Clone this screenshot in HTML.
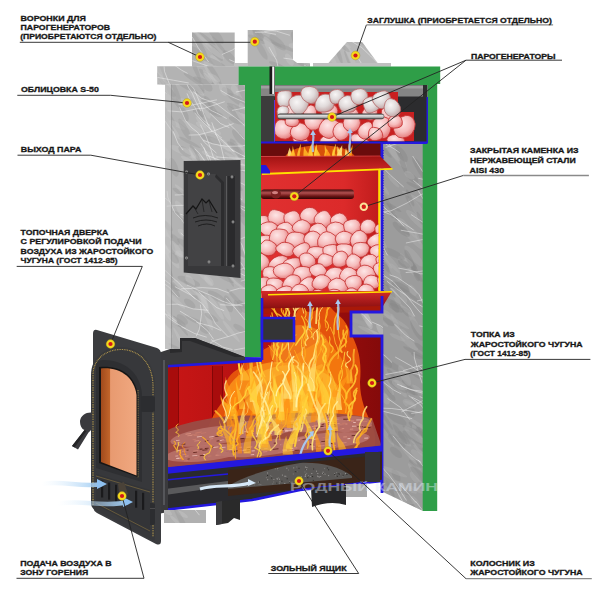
<!DOCTYPE html>
<html><head><meta charset="utf-8"><style>
html,body{margin:0;padding:0;background:#fff;width:600px;height:600px;overflow:hidden}
svg{display:block}
text{font-family:"Liberation Sans",sans-serif;font-weight:bold;font-size:7.5px;fill:#161616;stroke:#161616;stroke-width:0.3px}
</style></head><body>
<svg width="600" height="600" viewBox="0 0 600 600">
<defs>
<radialGradient id="gPink" cx="0.4" cy="0.35" r="0.7">
 <stop offset="0" stop-color="#fde6e6"/><stop offset="0.55" stop-color="#f6bcbc"/><stop offset="1" stop-color="#e27272"/></radialGradient>
<radialGradient id="gWhite" cx="0.4" cy="0.35" r="0.7">
 <stop offset="0" stop-color="#f8f6f6"/><stop offset="0.5" stop-color="#e0dada"/><stop offset="0.85" stop-color="#c8b0b0"/><stop offset="1" stop-color="#c87070"/></radialGradient>
<linearGradient id="gRod" x1="0" y1="0" x2="0" y2="1">
 <stop offset="0" stop-color="#555"/><stop offset="0.35" stop-color="#e4e4e4"/><stop offset="0.7" stop-color="#aaa"/><stop offset="1" stop-color="#444"/></linearGradient>
<linearGradient id="gRod2" x1="0" y1="0" x2="0" y2="1">
 <stop offset="0" stop-color="#3a0808"/><stop offset="0.35" stop-color="#b05050"/><stop offset="0.7" stop-color="#6a1414"/><stop offset="1" stop-color="#300606"/></linearGradient>
<linearGradient id="gVrod" x1="0" y1="0" x2="1" y2="0">
 <stop offset="0" stop-color="#1a1a1a"/><stop offset="0.45" stop-color="#e8e8e8"/><stop offset="1" stop-color="#222"/></linearGradient>
<linearGradient id="gGlass" x1="0" y1="0" x2="1" y2="0">
 <stop offset="0" stop-color="#a04a1c"/><stop offset="0.24" stop-color="#c0642a"/><stop offset="0.27" stop-color="#e89a70"/><stop offset="1" stop-color="#f0a880"/></linearGradient>
<linearGradient id="gRed" x1="0" y1="0" x2="1" y2="0">
 <stop offset="0" stop-color="#e03030"/><stop offset="0.7" stop-color="#dc2a2a"/><stop offset="1" stop-color="#c01c1c"/></linearGradient>
<linearGradient id="gLid" x1="0" y1="0" x2="0" y2="1">
 <stop offset="0" stop-color="#a01212"/><stop offset="1" stop-color="#d42a2a"/></linearGradient>
<linearGradient id="gFireBox" x1="0" y1="0" x2="1" y2="0">
 <stop offset="0" stop-color="#c81616"/><stop offset="0.5" stop-color="#b01010"/><stop offset="1" stop-color="#840a0a"/></linearGradient>
<linearGradient id="gAir" x1="0" y1="0" x2="1" y2="0">
 <stop offset="0" stop-color="#d8ecfc" stop-opacity="0"/><stop offset="1" stop-color="#9ccaf2"/></linearGradient>
</defs><rect width="600" height="600" fill="#fff"/>
<clipPath id="cs1"><path d="M192,32.6 h42.7 v33.8 h-42.7 Z"/></clipPath><path d="M192,32.6 h42.7 v33.8 h-42.7 Z" fill="#b3b3b3"/><g clip-path="url(#cs1)"><ellipse cx="205.8" cy="37.7" rx="12.5" ry="1.7" fill="#989898" opacity="0.4" transform="rotate(38 205.8 37.7)"/><ellipse cx="194.5" cy="49.8" rx="6.4" ry="2.6" fill="#989898" opacity="0.4" transform="rotate(32 194.5 49.8)"/><ellipse cx="215.5" cy="34.6" rx="11.7" ry="3.9" fill="#989898" opacity="0.4" transform="rotate(49 215.5 34.6)"/><ellipse cx="208.9" cy="65.6" rx="6.5" ry="3.6" fill="#c8c8c8" opacity="0.4" transform="rotate(41 208.9 65.6)"/><ellipse cx="215.1" cy="51.9" rx="11.6" ry="3.2" fill="#989898" opacity="0.4" transform="rotate(49 215.1 51.9)"/><ellipse cx="219.3" cy="45.2" rx="11.5" ry="1.7" fill="#989898" opacity="0.4" transform="rotate(51 219.3 45.2)"/><ellipse cx="213.2" cy="50.6" rx="13.8" ry="2.7" fill="#c8c8c8" opacity="0.4" transform="rotate(38 213.2 50.6)"/><ellipse cx="202.6" cy="38.7" rx="13.8" ry="1.7" fill="#c8c8c8" opacity="0.4" transform="rotate(46 202.6 38.7)"/><ellipse cx="229.4" cy="57.3" rx="8.9" ry="4.0" fill="#989898" opacity="0.4" transform="rotate(46 229.4 57.3)"/><ellipse cx="199.0" cy="44.2" rx="15.3" ry="2.6" fill="#989898" opacity="0.4" transform="rotate(58 199.0 44.2)"/><ellipse cx="216.5" cy="62.2" rx="9.1" ry="3.2" fill="#c8c8c8" opacity="0.4" transform="rotate(49 216.5 62.2)"/><ellipse cx="211.5" cy="61.0" rx="15.4" ry="2.7" fill="#989898" opacity="0.4" transform="rotate(23 211.5 61.0)"/><path d="M222.0,54.5 L232.6,49.9 L238.5,45.6 L247.5,33.2 L250.7,24.9" fill="none" stroke="#f4f4f4" stroke-opacity="0.8" stroke-width="0.6"/><path d="M208.7,62.1 L198.2,47.6 L193.1,38.4 L188.7,33.0 L177.5,24.7" fill="none" stroke="#f4f4f4" stroke-opacity="0.8" stroke-width="0.6"/><path d="M192.5,60.7 L206.0,65.4 L218.6,70.0 L224.5,73.0 L235.7,83.5" fill="none" stroke="#f4f4f4" stroke-opacity="0.8" stroke-width="0.6"/><path d="M229.3,59.6 L237.1,63.0 L247.0,64.8 L253.0,64.0" fill="none" stroke="#f4f4f4" stroke-opacity="0.8" stroke-width="0.6"/></g><clipPath id="cs2"><path d="M247.7,30 L293,30 L293,60 L297,63 L310,63 L310,66.5 L247.7,66.5 Z"/></clipPath><path d="M247.7,30 L293,30 L293,60 L297,63 L310,63 L310,66.5 L247.7,66.5 Z" fill="#b3b3b3"/><g clip-path="url(#cs2)"><ellipse cx="256.8" cy="33.8" rx="9.6" ry="1.6" fill="#989898" opacity="0.4" transform="rotate(51 256.8 33.8)"/><ellipse cx="256.7" cy="39.3" rx="9.5" ry="2.4" fill="#989898" opacity="0.4" transform="rotate(26 256.7 39.3)"/><ellipse cx="278.7" cy="66.2" rx="10.8" ry="2.3" fill="#989898" opacity="0.4" transform="rotate(25 278.7 66.2)"/><ellipse cx="269.3" cy="39.8" rx="14.3" ry="1.9" fill="#989898" opacity="0.4" transform="rotate(30 269.3 39.8)"/><ellipse cx="308.9" cy="43.4" rx="12.9" ry="3.8" fill="#c8c8c8" opacity="0.4" transform="rotate(69 308.9 43.4)"/><ellipse cx="303.1" cy="55.8" rx="8.6" ry="2.4" fill="#989898" opacity="0.4" transform="rotate(38 303.1 55.8)"/><ellipse cx="261.5" cy="50.0" rx="11.0" ry="3.1" fill="#989898" opacity="0.4" transform="rotate(60 261.5 50.0)"/><ellipse cx="300.2" cy="57.4" rx="8.3" ry="2.8" fill="#c8c8c8" opacity="0.4" transform="rotate(57 300.2 57.4)"/><ellipse cx="311.3" cy="59.2" rx="10.7" ry="2.0" fill="#c8c8c8" opacity="0.4" transform="rotate(42 311.3 59.2)"/><ellipse cx="307.9" cy="66.6" rx="15.6" ry="2.4" fill="#989898" opacity="0.4" transform="rotate(25 307.9 66.6)"/><ellipse cx="277.6" cy="42.5" rx="10.8" ry="4.0" fill="#989898" opacity="0.4" transform="rotate(44 277.6 42.5)"/><ellipse cx="289.4" cy="59.6" rx="6.8" ry="3.2" fill="#c8c8c8" opacity="0.4" transform="rotate(59 289.4 59.6)"/><ellipse cx="295.8" cy="47.7" rx="7.8" ry="3.5" fill="#c8c8c8" opacity="0.4" transform="rotate(24 295.8 47.7)"/><ellipse cx="308.5" cy="56.7" rx="10.6" ry="3.4" fill="#989898" opacity="0.4" transform="rotate(56 308.5 56.7)"/><ellipse cx="258.1" cy="34.7" rx="7.5" ry="3.8" fill="#989898" opacity="0.4" transform="rotate(51 258.1 34.7)"/><ellipse cx="285.7" cy="47.6" rx="15.4" ry="1.9" fill="#989898" opacity="0.4" transform="rotate(21 285.7 47.6)"/><ellipse cx="299.0" cy="56.9" rx="7.0" ry="3.4" fill="#989898" opacity="0.4" transform="rotate(42 299.0 56.9)"/><ellipse cx="303.7" cy="60.6" rx="8.1" ry="2.1" fill="#c8c8c8" opacity="0.4" transform="rotate(45 303.7 60.6)"/><ellipse cx="296.6" cy="42.1" rx="11.4" ry="3.6" fill="#989898" opacity="0.4" transform="rotate(66 296.6 42.1)"/><ellipse cx="270.0" cy="47.0" rx="11.8" ry="3.8" fill="#c8c8c8" opacity="0.4" transform="rotate(61 270.0 47.0)"/><path d="M304.1,34.8 L311.4,37.6 L324.7,39.0" fill="none" stroke="#f4f4f4" stroke-opacity="0.8" stroke-width="0.6"/><path d="M254.8,32.3 L264.1,32.2 L276.0,34.4" fill="none" stroke="#f4f4f4" stroke-opacity="0.8" stroke-width="0.6"/><path d="M283.5,58.1 L294.8,59.7 L306.4,61.6 L319.2,68.1" fill="none" stroke="#f4f4f4" stroke-opacity="0.8" stroke-width="0.6"/><path d="M304.0,64.9 L313.4,71.1 L321.9,73.6 L336.0,73.4 L352.5,76.4 L367.0,75.6" fill="none" stroke="#f4f4f4" stroke-opacity="0.8" stroke-width="0.6"/><path d="M289.9,35.3 L276.5,31.2 L262.1,29.7 L252.4,24.9 L242.9,21.0 L232.5,19.8" fill="none" stroke="#f4f4f4" stroke-opacity="0.8" stroke-width="0.6"/><path d="M269.0,47.0 L276.7,60.4 L278.1,67.5" fill="none" stroke="#f4f4f4" stroke-opacity="0.8" stroke-width="0.6"/><path d="M264.3,31.5 L276.6,30.1 L288.5,28.9 L297.6,26.8 L305.8,26.7" fill="none" stroke="#f4f4f4" stroke-opacity="0.8" stroke-width="0.6"/><path d="M305.2,40.0 L312.3,42.2 L330.2,41.6" fill="none" stroke="#f4f4f4" stroke-opacity="0.8" stroke-width="0.6"/></g><clipPath id="cs3"><path d="M328,63.5 L347,42 L362,42 L378,63.5 Z"/></clipPath><path d="M328,63.5 L347,42 L362,42 L378,63.5 Z" fill="#b8b8b8"/><g clip-path="url(#cs3)"><ellipse cx="349.1" cy="62.1" rx="12.2" ry="1.6" fill="#989898" opacity="0.4" transform="rotate(67 349.1 62.1)"/><ellipse cx="378.4" cy="47.8" rx="7.8" ry="3.8" fill="#c8c8c8" opacity="0.4" transform="rotate(47 378.4 47.8)"/><ellipse cx="337.9" cy="51.8" rx="12.7" ry="2.2" fill="#989898" opacity="0.4" transform="rotate(70 337.9 51.8)"/><ellipse cx="329.0" cy="42.4" rx="11.1" ry="3.9" fill="#c8c8c8" opacity="0.4" transform="rotate(32 329.0 42.4)"/><ellipse cx="350.7" cy="56.5" rx="12.5" ry="3.1" fill="#c8c8c8" opacity="0.4" transform="rotate(69 350.7 56.5)"/><ellipse cx="343.3" cy="46.7" rx="8.3" ry="2.0" fill="#989898" opacity="0.4" transform="rotate(40 343.3 46.7)"/><ellipse cx="345.4" cy="43.2" rx="7.3" ry="1.7" fill="#c8c8c8" opacity="0.4" transform="rotate(42 345.4 43.2)"/><ellipse cx="329.9" cy="56.6" rx="9.8" ry="2.8" fill="#c8c8c8" opacity="0.4" transform="rotate(50 329.9 56.6)"/><ellipse cx="363.7" cy="43.0" rx="7.9" ry="2.2" fill="#989898" opacity="0.4" transform="rotate(33 363.7 43.0)"/><path d="M378.0,63.4 L370.5,55.9 L361.8,47.6 L351.5,41.3" fill="none" stroke="#f4f4f4" stroke-opacity="0.8" stroke-width="0.6"/><path d="M327.3,47.8 L309.9,46.1 L302.5,43.4 L290.0,34.4" fill="none" stroke="#f4f4f4" stroke-opacity="0.8" stroke-width="0.6"/><path d="M358.6,58.8 L366.2,71.3 L371.9,80.8" fill="none" stroke="#f4f4f4" stroke-opacity="0.8" stroke-width="0.6"/></g><rect x="313" y="63" width="78" height="3.6" fill="#c0c0c0"/><rect x="234" y="63" width="14" height="3.6" fill="#c0c0c0"/><clipPath id="cs4"><path d="M157.3,66.2 h81.5 v18.3 h-81.5 Z"/></clipPath><path d="M157.3,66.2 h81.5 v18.3 h-81.5 Z" fill="#b3b3b3"/><g clip-path="url(#cs4)"><ellipse cx="214.4" cy="75.5" rx="15.1" ry="3.4" fill="#989898" opacity="0.4" transform="rotate(61 214.4 75.5)"/><ellipse cx="204.9" cy="82.5" rx="12.8" ry="3.2" fill="#989898" opacity="0.4" transform="rotate(24 204.9 82.5)"/><ellipse cx="160.7" cy="77.9" rx="15.6" ry="2.4" fill="#c8c8c8" opacity="0.4" transform="rotate(48 160.7 77.9)"/><ellipse cx="208.5" cy="77.7" rx="12.8" ry="2.7" fill="#989898" opacity="0.4" transform="rotate(43 208.5 77.7)"/><ellipse cx="163.0" cy="83.3" rx="15.0" ry="1.7" fill="#989898" opacity="0.4" transform="rotate(57 163.0 83.3)"/><ellipse cx="195.9" cy="81.0" rx="14.5" ry="2.1" fill="#989898" opacity="0.4" transform="rotate(32 195.9 81.0)"/><ellipse cx="210.3" cy="74.6" rx="14.5" ry="1.7" fill="#c8c8c8" opacity="0.4" transform="rotate(58 210.3 74.6)"/><ellipse cx="207.6" cy="78.0" rx="6.8" ry="1.9" fill="#c8c8c8" opacity="0.4" transform="rotate(53 207.6 78.0)"/><ellipse cx="213.8" cy="77.6" rx="7.3" ry="2.7" fill="#c8c8c8" opacity="0.4" transform="rotate(33 213.8 77.6)"/><ellipse cx="212.1" cy="78.9" rx="12.8" ry="2.2" fill="#c8c8c8" opacity="0.4" transform="rotate(43 212.1 78.9)"/><ellipse cx="195.3" cy="68.4" rx="14.9" ry="2.0" fill="#989898" opacity="0.4" transform="rotate(67 195.3 68.4)"/><ellipse cx="158.7" cy="74.6" rx="14.2" ry="3.9" fill="#c8c8c8" opacity="0.4" transform="rotate(70 158.7 74.6)"/><path d="M188.8,83.0 L173.2,80.2 L156.8,77.3 L148.5,74.5 L138.8,67.8" fill="none" stroke="#f4f4f4" stroke-opacity="0.8" stroke-width="0.6"/><path d="M159.3,66.3 L145.0,59.0 L130.1,57.1 L123.1,54.5 L111.6,45.6 L106.0,38.0" fill="none" stroke="#f4f4f4" stroke-opacity="0.8" stroke-width="0.6"/><path d="M187.6,73.4 L181.8,70.3 L170.6,62.5" fill="none" stroke="#f4f4f4" stroke-opacity="0.8" stroke-width="0.6"/><path d="M169.4,84.0 L164.5,71.3 L163.0,54.1" fill="none" stroke="#f4f4f4" stroke-opacity="0.8" stroke-width="0.6"/></g><clipPath id="cs5"><path d="M165,84.5 L245,84.5 L245,357 L195,338 L180,338 L180,349 L165,349 Z"/></clipPath><path d="M165,84.5 L245,84.5 L245,357 L195,338 L180,338 L180,349 L165,349 Z" fill="#b3b3b3"/><g clip-path="url(#cs5)"><ellipse cx="208.9" cy="280.6" rx="6.5" ry="3.3" fill="#c8c8c8" opacity="0.4" transform="rotate(51 208.9 280.6)"/><ellipse cx="176.1" cy="321.4" rx="10.9" ry="3.8" fill="#989898" opacity="0.4" transform="rotate(29 176.1 321.4)"/><ellipse cx="198.2" cy="161.3" rx="8.6" ry="3.3" fill="#c8c8c8" opacity="0.4" transform="rotate(40 198.2 161.3)"/><ellipse cx="184.1" cy="216.2" rx="12.7" ry="1.8" fill="#989898" opacity="0.4" transform="rotate(24 184.1 216.2)"/><ellipse cx="205.0" cy="305.7" rx="11.5" ry="2.6" fill="#c8c8c8" opacity="0.4" transform="rotate(70 205.0 305.7)"/><ellipse cx="201.0" cy="122.5" rx="7.9" ry="1.7" fill="#c8c8c8" opacity="0.4" transform="rotate(48 201.0 122.5)"/><ellipse cx="190.5" cy="184.9" rx="14.1" ry="2.0" fill="#989898" opacity="0.4" transform="rotate(57 190.5 184.9)"/><ellipse cx="198.0" cy="197.3" rx="11.2" ry="2.4" fill="#c8c8c8" opacity="0.4" transform="rotate(58 198.0 197.3)"/><ellipse cx="204.9" cy="241.0" rx="9.6" ry="3.2" fill="#989898" opacity="0.4" transform="rotate(25 204.9 241.0)"/><ellipse cx="236.7" cy="189.3" rx="12.5" ry="2.6" fill="#c8c8c8" opacity="0.4" transform="rotate(62 236.7 189.3)"/><ellipse cx="234.8" cy="90.4" rx="6.3" ry="3.3" fill="#c8c8c8" opacity="0.4" transform="rotate(68 234.8 90.4)"/><ellipse cx="204.2" cy="104.4" rx="15.3" ry="3.8" fill="#c8c8c8" opacity="0.4" transform="rotate(69 204.2 104.4)"/><ellipse cx="184.9" cy="114.2" rx="7.5" ry="2.8" fill="#989898" opacity="0.4" transform="rotate(67 184.9 114.2)"/><ellipse cx="222.7" cy="260.9" rx="13.6" ry="2.6" fill="#989898" opacity="0.4" transform="rotate(20 222.7 260.9)"/><ellipse cx="175.1" cy="239.7" rx="6.4" ry="3.3" fill="#989898" opacity="0.4" transform="rotate(51 175.1 239.7)"/><ellipse cx="207.3" cy="203.7" rx="13.6" ry="1.7" fill="#c8c8c8" opacity="0.4" transform="rotate(46 207.3 203.7)"/><ellipse cx="211.6" cy="190.3" rx="8.2" ry="3.0" fill="#989898" opacity="0.4" transform="rotate(47 211.6 190.3)"/><ellipse cx="244.7" cy="160.4" rx="9.2" ry="3.6" fill="#989898" opacity="0.4" transform="rotate(44 244.7 160.4)"/><ellipse cx="183.8" cy="151.8" rx="15.6" ry="3.3" fill="#c8c8c8" opacity="0.4" transform="rotate(23 183.8 151.8)"/><ellipse cx="180.5" cy="325.6" rx="12.5" ry="1.7" fill="#989898" opacity="0.4" transform="rotate(53 180.5 325.6)"/><ellipse cx="239.0" cy="146.3" rx="6.3" ry="2.3" fill="#c8c8c8" opacity="0.4" transform="rotate(38 239.0 146.3)"/><ellipse cx="196.7" cy="86.3" rx="8.9" ry="3.6" fill="#989898" opacity="0.4" transform="rotate(30 196.7 86.3)"/><ellipse cx="242.6" cy="169.4" rx="14.2" ry="2.1" fill="#989898" opacity="0.4" transform="rotate(33 242.6 169.4)"/><ellipse cx="236.1" cy="114.2" rx="12.2" ry="3.0" fill="#989898" opacity="0.4" transform="rotate(44 236.1 114.2)"/><ellipse cx="237.8" cy="99.9" rx="11.9" ry="3.8" fill="#989898" opacity="0.4" transform="rotate(31 237.8 99.9)"/><ellipse cx="242.9" cy="123.2" rx="6.5" ry="1.7" fill="#c8c8c8" opacity="0.4" transform="rotate(42 242.9 123.2)"/><ellipse cx="222.0" cy="170.1" rx="7.1" ry="1.7" fill="#989898" opacity="0.4" transform="rotate(36 222.0 170.1)"/><ellipse cx="179.8" cy="339.5" rx="13.5" ry="1.6" fill="#c8c8c8" opacity="0.4" transform="rotate(62 179.8 339.5)"/><ellipse cx="243.8" cy="205.1" rx="7.1" ry="1.7" fill="#989898" opacity="0.4" transform="rotate(38 243.8 205.1)"/><ellipse cx="241.4" cy="118.2" rx="15.6" ry="2.0" fill="#c8c8c8" opacity="0.4" transform="rotate(58 241.4 118.2)"/><ellipse cx="189.7" cy="303.6" rx="6.9" ry="3.3" fill="#989898" opacity="0.4" transform="rotate(39 189.7 303.6)"/><ellipse cx="238.6" cy="137.1" rx="9.6" ry="3.7" fill="#989898" opacity="0.4" transform="rotate(52 238.6 137.1)"/><ellipse cx="184.8" cy="254.9" rx="10.0" ry="2.4" fill="#c8c8c8" opacity="0.4" transform="rotate(23 184.8 254.9)"/><ellipse cx="238.6" cy="154.5" rx="13.5" ry="3.7" fill="#c8c8c8" opacity="0.4" transform="rotate(38 238.6 154.5)"/><ellipse cx="191.8" cy="344.4" rx="6.4" ry="3.4" fill="#c8c8c8" opacity="0.4" transform="rotate(66 191.8 344.4)"/><ellipse cx="188.8" cy="281.1" rx="12.0" ry="3.5" fill="#989898" opacity="0.4" transform="rotate(21 188.8 281.1)"/><ellipse cx="183.7" cy="214.0" rx="15.6" ry="3.9" fill="#c8c8c8" opacity="0.4" transform="rotate(59 183.7 214.0)"/><ellipse cx="238.1" cy="306.5" rx="7.3" ry="2.7" fill="#989898" opacity="0.4" transform="rotate(60 238.1 306.5)"/><ellipse cx="224.1" cy="308.7" rx="13.7" ry="3.0" fill="#c8c8c8" opacity="0.4" transform="rotate(63 224.1 308.7)"/><ellipse cx="201.9" cy="298.1" rx="12.0" ry="2.8" fill="#c8c8c8" opacity="0.4" transform="rotate(58 201.9 298.1)"/><ellipse cx="184.8" cy="102.1" rx="6.3" ry="2.9" fill="#c8c8c8" opacity="0.4" transform="rotate(28 184.8 102.1)"/><ellipse cx="199.1" cy="113.2" rx="6.7" ry="3.1" fill="#989898" opacity="0.4" transform="rotate(25 199.1 113.2)"/><ellipse cx="204.9" cy="277.9" rx="10.5" ry="2.1" fill="#c8c8c8" opacity="0.4" transform="rotate(43 204.9 277.9)"/><ellipse cx="236.3" cy="148.5" rx="11.4" ry="3.4" fill="#989898" opacity="0.4" transform="rotate(59 236.3 148.5)"/><ellipse cx="188.5" cy="160.6" rx="8.7" ry="2.1" fill="#c8c8c8" opacity="0.4" transform="rotate(30 188.5 160.6)"/><ellipse cx="184.8" cy="151.4" rx="7.5" ry="3.7" fill="#989898" opacity="0.4" transform="rotate(36 184.8 151.4)"/><ellipse cx="196.7" cy="354.9" rx="11.1" ry="2.1" fill="#989898" opacity="0.4" transform="rotate(53 196.7 354.9)"/><ellipse cx="244.3" cy="112.4" rx="10.7" ry="3.5" fill="#c8c8c8" opacity="0.4" transform="rotate(66 244.3 112.4)"/><ellipse cx="168.2" cy="164.5" rx="7.2" ry="2.0" fill="#989898" opacity="0.4" transform="rotate(67 168.2 164.5)"/><ellipse cx="194.8" cy="320.5" rx="10.5" ry="2.1" fill="#989898" opacity="0.4" transform="rotate(25 194.8 320.5)"/><ellipse cx="212.7" cy="253.4" rx="8.2" ry="2.4" fill="#989898" opacity="0.4" transform="rotate(22 212.7 253.4)"/><ellipse cx="245.0" cy="94.9" rx="13.3" ry="3.8" fill="#989898" opacity="0.4" transform="rotate(61 245.0 94.9)"/><ellipse cx="197.7" cy="185.8" rx="12.2" ry="1.7" fill="#989898" opacity="0.4" transform="rotate(60 197.7 185.8)"/><ellipse cx="208.8" cy="101.7" rx="7.0" ry="2.5" fill="#989898" opacity="0.4" transform="rotate(52 208.8 101.7)"/><ellipse cx="172.3" cy="129.1" rx="13.0" ry="2.5" fill="#c8c8c8" opacity="0.4" transform="rotate(53 172.3 129.1)"/><ellipse cx="198.4" cy="98.5" rx="13.5" ry="3.7" fill="#c8c8c8" opacity="0.4" transform="rotate(41 198.4 98.5)"/><ellipse cx="234.1" cy="356.1" rx="9.6" ry="2.0" fill="#c8c8c8" opacity="0.4" transform="rotate(30 234.1 356.1)"/><ellipse cx="165.5" cy="330.2" rx="10.2" ry="3.6" fill="#c8c8c8" opacity="0.4" transform="rotate(49 165.5 330.2)"/><ellipse cx="194.2" cy="295.2" rx="7.3" ry="1.6" fill="#989898" opacity="0.4" transform="rotate(52 194.2 295.2)"/><ellipse cx="237.8" cy="108.8" rx="12.2" ry="2.4" fill="#989898" opacity="0.4" transform="rotate(27 237.8 108.8)"/><ellipse cx="187.7" cy="226.5" rx="15.3" ry="1.8" fill="#c8c8c8" opacity="0.4" transform="rotate(58 187.7 226.5)"/><ellipse cx="228.4" cy="303.8" rx="9.0" ry="3.6" fill="#989898" opacity="0.4" transform="rotate(69 228.4 303.8)"/><ellipse cx="203.6" cy="99.0" rx="15.3" ry="2.5" fill="#989898" opacity="0.4" transform="rotate(52 203.6 99.0)"/><ellipse cx="233.5" cy="253.7" rx="12.1" ry="2.0" fill="#c8c8c8" opacity="0.4" transform="rotate(29 233.5 253.7)"/><ellipse cx="182.5" cy="193.4" rx="11.2" ry="2.5" fill="#989898" opacity="0.4" transform="rotate(27 182.5 193.4)"/><ellipse cx="242.7" cy="306.8" rx="7.9" ry="3.7" fill="#989898" opacity="0.4" transform="rotate(53 242.7 306.8)"/><ellipse cx="190.9" cy="190.7" rx="10.6" ry="3.6" fill="#c8c8c8" opacity="0.4" transform="rotate(52 190.9 190.7)"/><ellipse cx="189.7" cy="152.4" rx="9.9" ry="2.4" fill="#c8c8c8" opacity="0.4" transform="rotate(29 189.7 152.4)"/><ellipse cx="165.3" cy="353.2" rx="10.7" ry="2.6" fill="#c8c8c8" opacity="0.4" transform="rotate(62 165.3 353.2)"/><ellipse cx="229.8" cy="193.6" rx="6.7" ry="2.4" fill="#c8c8c8" opacity="0.4" transform="rotate(25 229.8 193.6)"/><ellipse cx="200.4" cy="223.5" rx="6.4" ry="3.1" fill="#989898" opacity="0.4" transform="rotate(66 200.4 223.5)"/><ellipse cx="190.1" cy="280.8" rx="6.8" ry="3.4" fill="#c8c8c8" opacity="0.4" transform="rotate(53 190.1 280.8)"/><ellipse cx="227.7" cy="91.5" rx="6.7" ry="3.0" fill="#989898" opacity="0.4" transform="rotate(30 227.7 91.5)"/><ellipse cx="243.5" cy="218.5" rx="15.6" ry="3.8" fill="#989898" opacity="0.4" transform="rotate(54 243.5 218.5)"/><ellipse cx="222.7" cy="144.8" rx="14.3" ry="3.0" fill="#c8c8c8" opacity="0.4" transform="rotate(28 222.7 144.8)"/><ellipse cx="236.7" cy="159.4" rx="14.2" ry="1.9" fill="#c8c8c8" opacity="0.4" transform="rotate(30 236.7 159.4)"/><ellipse cx="186.0" cy="222.4" rx="9.2" ry="1.6" fill="#989898" opacity="0.4" transform="rotate(40 186.0 222.4)"/><ellipse cx="215.9" cy="160.3" rx="9.3" ry="2.4" fill="#c8c8c8" opacity="0.4" transform="rotate(26 215.9 160.3)"/><ellipse cx="207.5" cy="257.9" rx="9.6" ry="3.7" fill="#989898" opacity="0.4" transform="rotate(33 207.5 257.9)"/><ellipse cx="207.9" cy="317.9" rx="13.4" ry="2.4" fill="#c8c8c8" opacity="0.4" transform="rotate(70 207.9 317.9)"/><ellipse cx="211.2" cy="182.7" rx="13.6" ry="2.6" fill="#989898" opacity="0.4" transform="rotate(51 211.2 182.7)"/><ellipse cx="241.6" cy="165.3" rx="11.2" ry="2.3" fill="#c8c8c8" opacity="0.4" transform="rotate(57 241.6 165.3)"/><ellipse cx="224.8" cy="144.9" rx="8.9" ry="3.1" fill="#c8c8c8" opacity="0.4" transform="rotate(46 224.8 144.9)"/><ellipse cx="236.6" cy="120.5" rx="8.3" ry="3.1" fill="#989898" opacity="0.4" transform="rotate(23 236.6 120.5)"/><ellipse cx="210.4" cy="167.3" rx="11.2" ry="2.8" fill="#c8c8c8" opacity="0.4" transform="rotate(49 210.4 167.3)"/><ellipse cx="212.1" cy="140.1" rx="12.2" ry="2.7" fill="#989898" opacity="0.4" transform="rotate(21 212.1 140.1)"/><ellipse cx="229.1" cy="277.3" rx="10.5" ry="1.7" fill="#989898" opacity="0.4" transform="rotate(64 229.1 277.3)"/><ellipse cx="227.6" cy="194.0" rx="8.6" ry="1.5" fill="#c8c8c8" opacity="0.4" transform="rotate(50 227.6 194.0)"/><ellipse cx="211.3" cy="248.5" rx="11.2" ry="2.7" fill="#989898" opacity="0.4" transform="rotate(65 211.3 248.5)"/><ellipse cx="168.5" cy="229.3" rx="10.1" ry="2.1" fill="#989898" opacity="0.4" transform="rotate(66 168.5 229.3)"/><ellipse cx="173.4" cy="251.4" rx="12.6" ry="2.0" fill="#c8c8c8" opacity="0.4" transform="rotate(30 173.4 251.4)"/><ellipse cx="213.6" cy="222.6" rx="12.4" ry="3.5" fill="#989898" opacity="0.4" transform="rotate(45 213.6 222.6)"/><ellipse cx="170.1" cy="255.1" rx="15.9" ry="3.3" fill="#c8c8c8" opacity="0.4" transform="rotate(56 170.1 255.1)"/><ellipse cx="165.5" cy="314.6" rx="13.5" ry="2.7" fill="#c8c8c8" opacity="0.4" transform="rotate(29 165.5 314.6)"/><ellipse cx="244.7" cy="155.7" rx="12.4" ry="1.8" fill="#c8c8c8" opacity="0.4" transform="rotate(56 244.7 155.7)"/><ellipse cx="186.3" cy="235.4" rx="10.4" ry="3.5" fill="#c8c8c8" opacity="0.4" transform="rotate(35 186.3 235.4)"/><ellipse cx="239.3" cy="328.2" rx="6.9" ry="2.8" fill="#989898" opacity="0.4" transform="rotate(33 239.3 328.2)"/><ellipse cx="183.9" cy="287.2" rx="15.4" ry="3.4" fill="#c8c8c8" opacity="0.4" transform="rotate(30 183.9 287.2)"/><ellipse cx="196.1" cy="248.3" rx="9.8" ry="3.6" fill="#c8c8c8" opacity="0.4" transform="rotate(44 196.1 248.3)"/><ellipse cx="207.4" cy="86.2" rx="6.3" ry="3.9" fill="#989898" opacity="0.4" transform="rotate(49 207.4 86.2)"/><ellipse cx="189.6" cy="142.3" rx="12.2" ry="1.7" fill="#989898" opacity="0.4" transform="rotate(27 189.6 142.3)"/><ellipse cx="167.2" cy="113.6" rx="15.3" ry="2.4" fill="#989898" opacity="0.4" transform="rotate(55 167.2 113.6)"/><ellipse cx="167.5" cy="122.2" rx="12.4" ry="1.6" fill="#989898" opacity="0.4" transform="rotate(57 167.5 122.2)"/><ellipse cx="170.3" cy="245.4" rx="9.6" ry="3.5" fill="#989898" opacity="0.4" transform="rotate(64 170.3 245.4)"/><ellipse cx="225.5" cy="278.3" rx="9.8" ry="2.1" fill="#989898" opacity="0.4" transform="rotate(26 225.5 278.3)"/><ellipse cx="167.8" cy="315.5" rx="14.1" ry="3.1" fill="#c8c8c8" opacity="0.4" transform="rotate(44 167.8 315.5)"/><ellipse cx="175.6" cy="300.3" rx="12.5" ry="2.2" fill="#c8c8c8" opacity="0.4" transform="rotate(41 175.6 300.3)"/><ellipse cx="166.7" cy="154.5" rx="8.8" ry="3.3" fill="#c8c8c8" opacity="0.4" transform="rotate(66 166.7 154.5)"/><ellipse cx="226.5" cy="248.5" rx="10.8" ry="2.2" fill="#989898" opacity="0.4" transform="rotate(59 226.5 248.5)"/><ellipse cx="167.5" cy="225.8" rx="7.0" ry="2.7" fill="#989898" opacity="0.4" transform="rotate(47 167.5 225.8)"/><ellipse cx="182.3" cy="319.5" rx="6.9" ry="3.5" fill="#989898" opacity="0.4" transform="rotate(42 182.3 319.5)"/><ellipse cx="206.9" cy="163.1" rx="13.5" ry="1.6" fill="#c8c8c8" opacity="0.4" transform="rotate(45 206.9 163.1)"/><ellipse cx="204.3" cy="301.6" rx="7.8" ry="2.7" fill="#c8c8c8" opacity="0.4" transform="rotate(68 204.3 301.6)"/><ellipse cx="206.2" cy="242.0" rx="7.6" ry="3.5" fill="#989898" opacity="0.4" transform="rotate(45 206.2 242.0)"/><ellipse cx="173.8" cy="258.0" rx="6.8" ry="3.5" fill="#989898" opacity="0.4" transform="rotate(51 173.8 258.0)"/><ellipse cx="193.4" cy="193.8" rx="9.9" ry="3.7" fill="#989898" opacity="0.4" transform="rotate(41 193.4 193.8)"/><ellipse cx="216.7" cy="185.9" rx="9.0" ry="2.6" fill="#989898" opacity="0.4" transform="rotate(39 216.7 185.9)"/><ellipse cx="235.7" cy="148.1" rx="10.6" ry="2.8" fill="#989898" opacity="0.4" transform="rotate(37 235.7 148.1)"/><ellipse cx="191.1" cy="126.8" rx="14.4" ry="3.2" fill="#c8c8c8" opacity="0.4" transform="rotate(28 191.1 126.8)"/><ellipse cx="200.1" cy="295.3" rx="11.8" ry="1.8" fill="#c8c8c8" opacity="0.4" transform="rotate(52 200.1 295.3)"/><ellipse cx="220.7" cy="222.8" rx="8.7" ry="3.4" fill="#989898" opacity="0.4" transform="rotate(56 220.7 222.8)"/><ellipse cx="243.0" cy="281.6" rx="12.0" ry="2.4" fill="#989898" opacity="0.4" transform="rotate(36 243.0 281.6)"/><ellipse cx="180.1" cy="350.2" rx="13.3" ry="1.8" fill="#989898" opacity="0.4" transform="rotate(30 180.1 350.2)"/><ellipse cx="177.1" cy="124.9" rx="9.0" ry="2.2" fill="#c8c8c8" opacity="0.4" transform="rotate(30 177.1 124.9)"/><ellipse cx="216.0" cy="113.6" rx="8.1" ry="2.5" fill="#989898" opacity="0.4" transform="rotate(21 216.0 113.6)"/><ellipse cx="233.3" cy="203.5" rx="8.2" ry="4.0" fill="#c8c8c8" opacity="0.4" transform="rotate(43 233.3 203.5)"/><ellipse cx="176.3" cy="249.0" rx="10.0" ry="3.4" fill="#c8c8c8" opacity="0.4" transform="rotate(55 176.3 249.0)"/><ellipse cx="212.0" cy="260.9" rx="14.5" ry="3.2" fill="#989898" opacity="0.4" transform="rotate(54 212.0 260.9)"/><ellipse cx="216.3" cy="208.2" rx="9.1" ry="3.1" fill="#989898" opacity="0.4" transform="rotate(65 216.3 208.2)"/><ellipse cx="184.4" cy="193.5" rx="13.1" ry="1.9" fill="#c8c8c8" opacity="0.4" transform="rotate(44 184.4 193.5)"/><ellipse cx="166.6" cy="318.5" rx="11.2" ry="3.2" fill="#989898" opacity="0.4" transform="rotate(65 166.6 318.5)"/><ellipse cx="191.2" cy="87.4" rx="14.3" ry="3.8" fill="#989898" opacity="0.4" transform="rotate(22 191.2 87.4)"/><ellipse cx="208.5" cy="128.3" rx="13.8" ry="3.9" fill="#c8c8c8" opacity="0.4" transform="rotate(25 208.5 128.3)"/><ellipse cx="211.0" cy="231.9" rx="13.2" ry="2.8" fill="#c8c8c8" opacity="0.4" transform="rotate(46 211.0 231.9)"/><ellipse cx="197.8" cy="342.8" rx="8.1" ry="3.2" fill="#c8c8c8" opacity="0.4" transform="rotate(46 197.8 342.8)"/><ellipse cx="239.6" cy="283.2" rx="12.1" ry="3.1" fill="#c8c8c8" opacity="0.4" transform="rotate(34 239.6 283.2)"/><ellipse cx="197.0" cy="88.1" rx="10.2" ry="2.6" fill="#c8c8c8" opacity="0.4" transform="rotate(49 197.0 88.1)"/><ellipse cx="173.7" cy="167.2" rx="10.0" ry="3.9" fill="#989898" opacity="0.4" transform="rotate(70 173.7 167.2)"/><ellipse cx="241.9" cy="210.4" rx="7.6" ry="3.8" fill="#989898" opacity="0.4" transform="rotate(60 241.9 210.4)"/><ellipse cx="215.7" cy="212.3" rx="11.6" ry="2.1" fill="#989898" opacity="0.4" transform="rotate(38 215.7 212.3)"/><ellipse cx="216.1" cy="307.6" rx="14.2" ry="2.7" fill="#c8c8c8" opacity="0.4" transform="rotate(58 216.1 307.6)"/><ellipse cx="217.0" cy="297.0" rx="10.7" ry="3.5" fill="#989898" opacity="0.4" transform="rotate(33 217.0 297.0)"/><ellipse cx="195.1" cy="153.6" rx="10.3" ry="2.0" fill="#989898" opacity="0.4" transform="rotate(60 195.1 153.6)"/><ellipse cx="228.9" cy="182.0" rx="12.5" ry="2.3" fill="#c8c8c8" opacity="0.4" transform="rotate(41 228.9 182.0)"/><ellipse cx="216.0" cy="264.1" rx="9.6" ry="3.8" fill="#c8c8c8" opacity="0.4" transform="rotate(23 216.0 264.1)"/><ellipse cx="231.2" cy="331.3" rx="13.8" ry="1.9" fill="#c8c8c8" opacity="0.4" transform="rotate(52 231.2 331.3)"/><ellipse cx="166.2" cy="87.6" rx="15.5" ry="3.1" fill="#c8c8c8" opacity="0.4" transform="rotate(50 166.2 87.6)"/><ellipse cx="211.3" cy="317.3" rx="7.9" ry="2.6" fill="#989898" opacity="0.4" transform="rotate(30 211.3 317.3)"/><ellipse cx="197.2" cy="230.2" rx="12.1" ry="3.2" fill="#989898" opacity="0.4" transform="rotate(53 197.2 230.2)"/><ellipse cx="236.5" cy="299.3" rx="14.4" ry="2.0" fill="#989898" opacity="0.4" transform="rotate(47 236.5 299.3)"/><ellipse cx="224.4" cy="204.0" rx="14.8" ry="2.9" fill="#c8c8c8" opacity="0.4" transform="rotate(41 224.4 204.0)"/><ellipse cx="231.2" cy="213.5" rx="11.6" ry="2.7" fill="#989898" opacity="0.4" transform="rotate(55 231.2 213.5)"/><ellipse cx="184.7" cy="129.4" rx="12.0" ry="3.3" fill="#989898" opacity="0.4" transform="rotate(62 184.7 129.4)"/><ellipse cx="202.4" cy="237.8" rx="12.7" ry="3.6" fill="#c8c8c8" opacity="0.4" transform="rotate(41 202.4 237.8)"/><ellipse cx="245.0" cy="268.7" rx="7.8" ry="2.4" fill="#989898" opacity="0.4" transform="rotate(21 245.0 268.7)"/><ellipse cx="168.7" cy="285.2" rx="16.0" ry="3.5" fill="#989898" opacity="0.4" transform="rotate(46 168.7 285.2)"/><ellipse cx="203.8" cy="329.1" rx="6.3" ry="3.3" fill="#989898" opacity="0.4" transform="rotate(37 203.8 329.1)"/><ellipse cx="233.9" cy="184.3" rx="10.7" ry="2.8" fill="#989898" opacity="0.4" transform="rotate(34 233.9 184.3)"/><ellipse cx="192.4" cy="153.1" rx="6.5" ry="2.2" fill="#c8c8c8" opacity="0.4" transform="rotate(61 192.4 153.1)"/><ellipse cx="197.3" cy="221.8" rx="8.7" ry="2.8" fill="#989898" opacity="0.4" transform="rotate(53 197.3 221.8)"/><ellipse cx="228.4" cy="174.7" rx="9.2" ry="2.2" fill="#989898" opacity="0.4" transform="rotate(59 228.4 174.7)"/><ellipse cx="168.2" cy="281.4" rx="14.9" ry="2.9" fill="#989898" opacity="0.4" transform="rotate(40 168.2 281.4)"/><ellipse cx="173.7" cy="97.1" rx="14.2" ry="2.7" fill="#989898" opacity="0.4" transform="rotate(59 173.7 97.1)"/><ellipse cx="237.8" cy="251.2" rx="12.2" ry="3.1" fill="#989898" opacity="0.4" transform="rotate(31 237.8 251.2)"/><ellipse cx="218.4" cy="209.3" rx="13.6" ry="1.8" fill="#989898" opacity="0.4" transform="rotate(63 218.4 209.3)"/><ellipse cx="198.7" cy="111.9" rx="15.3" ry="1.5" fill="#989898" opacity="0.4" transform="rotate(59 198.7 111.9)"/><ellipse cx="210.0" cy="154.8" rx="9.0" ry="2.6" fill="#c8c8c8" opacity="0.4" transform="rotate(21 210.0 154.8)"/><ellipse cx="210.3" cy="242.1" rx="15.1" ry="2.7" fill="#989898" opacity="0.4" transform="rotate(61 210.3 242.1)"/><ellipse cx="226.9" cy="199.2" rx="13.0" ry="2.5" fill="#989898" opacity="0.4" transform="rotate(21 226.9 199.2)"/><ellipse cx="196.0" cy="245.8" rx="15.4" ry="4.0" fill="#c8c8c8" opacity="0.4" transform="rotate(58 196.0 245.8)"/><ellipse cx="208.9" cy="107.1" rx="10.7" ry="3.7" fill="#989898" opacity="0.4" transform="rotate(41 208.9 107.1)"/><ellipse cx="165.7" cy="266.9" rx="15.9" ry="3.6" fill="#989898" opacity="0.4" transform="rotate(63 165.7 266.9)"/><ellipse cx="175.3" cy="89.3" rx="13.2" ry="2.1" fill="#989898" opacity="0.4" transform="rotate(66 175.3 89.3)"/><ellipse cx="194.3" cy="288.1" rx="12.9" ry="1.9" fill="#989898" opacity="0.4" transform="rotate(35 194.3 288.1)"/><ellipse cx="209.6" cy="220.2" rx="12.7" ry="3.7" fill="#989898" opacity="0.4" transform="rotate(56 209.6 220.2)"/><ellipse cx="165.9" cy="88.5" rx="12.5" ry="3.5" fill="#989898" opacity="0.4" transform="rotate(39 165.9 88.5)"/><ellipse cx="190.0" cy="248.0" rx="15.6" ry="3.6" fill="#989898" opacity="0.4" transform="rotate(36 190.0 248.0)"/><ellipse cx="240.9" cy="282.8" rx="10.7" ry="1.9" fill="#989898" opacity="0.4" transform="rotate(38 240.9 282.8)"/><ellipse cx="216.6" cy="256.1" rx="10.2" ry="2.5" fill="#c8c8c8" opacity="0.4" transform="rotate(67 216.6 256.1)"/><ellipse cx="227.8" cy="239.0" rx="8.9" ry="1.7" fill="#c8c8c8" opacity="0.4" transform="rotate(63 227.8 239.0)"/><ellipse cx="223.1" cy="88.7" rx="7.5" ry="3.6" fill="#c8c8c8" opacity="0.4" transform="rotate(69 223.1 88.7)"/><path d="M184.7,190.1 L193.8,188.6 L209.5,182.1" fill="none" stroke="#f4f4f4" stroke-opacity="0.8" stroke-width="0.6"/><path d="M226.1,297.9 L236.4,309.5 L246.2,321.3 L254.1,330.9 L261.4,340.2" fill="none" stroke="#f4f4f4" stroke-opacity="0.8" stroke-width="0.6"/><path d="M195.5,299.1 L183.0,287.5 L178.8,283.0 L169.5,274.7 L162.1,267.6 L152.4,262.9" fill="none" stroke="#f4f4f4" stroke-opacity="0.8" stroke-width="0.6"/><path d="M206.7,155.2 L221.3,160.9 L233.9,163.8 L249.1,165.7" fill="none" stroke="#f4f4f4" stroke-opacity="0.8" stroke-width="0.6"/><path d="M233.6,151.6 L224.5,142.1 L215.1,134.2" fill="none" stroke="#f4f4f4" stroke-opacity="0.8" stroke-width="0.6"/><path d="M166.6,93.7 L153.3,82.5 L143.3,70.3 L140.1,61.8 L134.7,55.3" fill="none" stroke="#f4f4f4" stroke-opacity="0.8" stroke-width="0.6"/><path d="M179.5,107.3 L185.5,120.5 L191.9,127.9 L197.5,132.2 L204.4,142.2 L216.4,153.1" fill="none" stroke="#f4f4f4" stroke-opacity="0.8" stroke-width="0.6"/><path d="M194.7,148.6 L199.4,153.2 L207.5,165.2" fill="none" stroke="#f4f4f4" stroke-opacity="0.8" stroke-width="0.6"/><path d="M216.7,353.0 L227.4,356.7 L238.0,361.5 L248.1,365.1 L258.3,367.8" fill="none" stroke="#f4f4f4" stroke-opacity="0.8" stroke-width="0.6"/><path d="M200.3,304.6 L201.7,313.1 L199.3,329.3 L196.2,336.3" fill="none" stroke="#f4f4f4" stroke-opacity="0.8" stroke-width="0.6"/><path d="M200.8,110.9 L195.3,100.5 L192.4,93.4 L188.7,87.9 L183.3,76.4" fill="none" stroke="#f4f4f4" stroke-opacity="0.8" stroke-width="0.6"/><path d="M176.6,321.8 L169.6,315.9 L159.1,311.2 L151.9,308.1 L139.5,302.6" fill="none" stroke="#f4f4f4" stroke-opacity="0.8" stroke-width="0.6"/><path d="M228.0,336.6 L215.5,323.8 L212.2,317.4 L202.4,303.8 L190.6,295.0 L174.9,286.6" fill="none" stroke="#f4f4f4" stroke-opacity="0.8" stroke-width="0.6"/><path d="M166.3,304.4 L177.5,304.2 L185.8,306.5 L193.1,308.9 L208.3,310.3" fill="none" stroke="#f4f4f4" stroke-opacity="0.8" stroke-width="0.6"/><path d="M221.9,138.1 L211.2,130.1 L200.1,119.0 L194.5,112.7" fill="none" stroke="#f4f4f4" stroke-opacity="0.8" stroke-width="0.6"/><path d="M170.3,284.2 L157.1,274.4 L152.2,270.7 L145.1,261.3 L141.6,252.8" fill="none" stroke="#f4f4f4" stroke-opacity="0.8" stroke-width="0.6"/><path d="M179.9,311.1 L189.6,317.0 L195.9,320.9 L207.9,331.2 L213.6,339.3" fill="none" stroke="#f4f4f4" stroke-opacity="0.8" stroke-width="0.6"/><path d="M221.9,188.4 L215.9,177.6 L213.0,172.1 L211.7,163.5 L209.1,156.7 L200.8,143.3" fill="none" stroke="#f4f4f4" stroke-opacity="0.8" stroke-width="0.6"/><path d="M167.4,110.8 L181.8,111.9 L197.9,108.6 L204.4,108.2 L215.8,104.6 L224.7,101.7" fill="none" stroke="#f4f4f4" stroke-opacity="0.8" stroke-width="0.6"/><path d="M174.8,195.0 L182.7,194.7 L199.7,198.0 L210.6,199.2 L222.2,203.4 L238.9,208.1" fill="none" stroke="#f4f4f4" stroke-opacity="0.8" stroke-width="0.6"/><path d="M227.2,176.8 L223.3,171.4 L213.3,157.0 L210.6,148.4 L205.8,135.7 L200.4,124.6" fill="none" stroke="#f4f4f4" stroke-opacity="0.8" stroke-width="0.6"/><path d="M170.5,202.5 L157.7,192.0 L154.0,186.7" fill="none" stroke="#f4f4f4" stroke-opacity="0.8" stroke-width="0.6"/><path d="M216.3,156.9 L228.5,157.9 L245.9,158.5" fill="none" stroke="#f4f4f4" stroke-opacity="0.8" stroke-width="0.6"/><path d="M188.0,167.7 L201.1,167.5 L211.9,170.7 L227.8,175.5 L238.6,182.6" fill="none" stroke="#f4f4f4" stroke-opacity="0.8" stroke-width="0.6"/><path d="M186.9,285.0 L200.2,291.0 L211.8,295.8 L222.2,301.1 L230.6,304.0 L242.6,305.8" fill="none" stroke="#f4f4f4" stroke-opacity="0.8" stroke-width="0.6"/><path d="M195.7,244.1 L204.9,242.6 L214.3,244.3 L221.7,247.1 L238.1,248.2" fill="none" stroke="#f4f4f4" stroke-opacity="0.8" stroke-width="0.6"/><path d="M200.2,101.4 L211.0,110.4 L218.6,114.0 L226.7,118.6" fill="none" stroke="#f4f4f4" stroke-opacity="0.8" stroke-width="0.6"/><path d="M232.1,110.4 L239.2,109.0 L251.4,105.7 L260.7,100.3" fill="none" stroke="#f4f4f4" stroke-opacity="0.8" stroke-width="0.6"/><path d="M244.4,125.3 L236.7,118.6 L226.5,111.6 L215.7,103.1 L201.6,98.3 L193.3,91.7" fill="none" stroke="#f4f4f4" stroke-opacity="0.8" stroke-width="0.6"/><path d="M189.0,230.8 L181.7,219.7 L174.8,212.5 L167.8,197.4 L167.1,191.1" fill="none" stroke="#f4f4f4" stroke-opacity="0.8" stroke-width="0.6"/><path d="M185.5,328.6 L176.6,323.4 L168.2,317.7 L159.5,306.5 L155.2,300.8 L148.0,292.7" fill="none" stroke="#f4f4f4" stroke-opacity="0.8" stroke-width="0.6"/><path d="M209.9,240.9 L224.8,242.4 L235.0,240.5 L241.6,238.6 L249.0,235.3" fill="none" stroke="#f4f4f4" stroke-opacity="0.8" stroke-width="0.6"/><path d="M217.5,164.9 L232.6,169.5 L249.2,171.1 L255.9,171.3" fill="none" stroke="#f4f4f4" stroke-opacity="0.8" stroke-width="0.6"/><path d="M210.2,113.6 L220.5,123.5 L229.3,127.5" fill="none" stroke="#f4f4f4" stroke-opacity="0.8" stroke-width="0.6"/><path d="M232.4,244.2 L224.8,236.3 L218.1,232.3 L212.6,227.4" fill="none" stroke="#f4f4f4" stroke-opacity="0.8" stroke-width="0.6"/><path d="M173.0,131.0 L177.8,143.0 L183.1,150.1" fill="none" stroke="#f4f4f4" stroke-opacity="0.8" stroke-width="0.6"/><path d="M187.0,93.5 L189.4,99.2 L195.4,108.1 L198.0,114.1 L203.9,120.8 L210.1,125.6" fill="none" stroke="#f4f4f4" stroke-opacity="0.8" stroke-width="0.6"/><path d="M212.0,131.8 L208.6,125.9 L203.3,112.8 L199.7,102.4 L194.1,89.0 L183.1,76.8" fill="none" stroke="#f4f4f4" stroke-opacity="0.8" stroke-width="0.6"/><path d="M172.0,130.8 L162.4,117.4 L153.1,107.2" fill="none" stroke="#f4f4f4" stroke-opacity="0.8" stroke-width="0.6"/><path d="M241.9,199.6 L234.3,194.1 L219.3,189.6 L211.8,188.8" fill="none" stroke="#f4f4f4" stroke-opacity="0.8" stroke-width="0.6"/><path d="M180.7,233.0 L187.0,238.8 L197.5,247.4 L204.5,253.9" fill="none" stroke="#f4f4f4" stroke-opacity="0.8" stroke-width="0.6"/><path d="M203.1,140.2 L212.8,143.9 L225.9,146.3 L242.4,146.0 L254.0,142.6 L263.0,140.3" fill="none" stroke="#f4f4f4" stroke-opacity="0.8" stroke-width="0.6"/><path d="M226.7,189.4 L231.1,197.0 L242.4,209.3 L257.1,217.8" fill="none" stroke="#f4f4f4" stroke-opacity="0.8" stroke-width="0.6"/><path d="M229.4,291.2 L239.8,288.2 L255.1,288.3 L270.9,292.7 L280.2,292.9 L293.6,288.6" fill="none" stroke="#f4f4f4" stroke-opacity="0.8" stroke-width="0.6"/><path d="M218.1,180.3 L215.5,173.6 L210.9,165.5 L207.3,157.7 L203.9,147.4" fill="none" stroke="#f4f4f4" stroke-opacity="0.8" stroke-width="0.6"/><path d="M213.7,201.9 L222.4,202.5 L234.6,203.5 L247.7,208.6" fill="none" stroke="#f4f4f4" stroke-opacity="0.8" stroke-width="0.6"/><path d="M211.0,339.5 L222.9,347.1 L232.5,349.6" fill="none" stroke="#f4f4f4" stroke-opacity="0.8" stroke-width="0.6"/><path d="M227.2,178.7 L234.2,179.7 L244.1,184.6 L254.5,194.5" fill="none" stroke="#f4f4f4" stroke-opacity="0.8" stroke-width="0.6"/><path d="M224.1,310.7 L216.5,307.5 L204.4,297.1 L198.5,291.6" fill="none" stroke="#f4f4f4" stroke-opacity="0.8" stroke-width="0.6"/><path d="M178.1,297.3 L169.0,287.1 L157.2,279.2 L147.3,272.7 L142.8,268.7 L137.8,262.9" fill="none" stroke="#f4f4f4" stroke-opacity="0.8" stroke-width="0.6"/><path d="M216.3,274.7 L231.3,272.9 L244.4,268.0" fill="none" stroke="#f4f4f4" stroke-opacity="0.8" stroke-width="0.6"/><path d="M212.9,210.2 L206.4,208.5 L198.0,207.8 L187.0,205.2 L177.1,205.5 L166.7,206.2" fill="none" stroke="#f4f4f4" stroke-opacity="0.8" stroke-width="0.6"/><path d="M178.4,104.1 L191.2,105.2 L202.8,103.0 L210.9,101.0 L216.9,99.8" fill="none" stroke="#f4f4f4" stroke-opacity="0.8" stroke-width="0.6"/><path d="M238.6,260.1 L242.5,265.1 L250.0,279.3" fill="none" stroke="#f4f4f4" stroke-opacity="0.8" stroke-width="0.6"/><path d="M188.7,135.1 L198.6,134.8 L214.0,130.9 L223.7,127.1 L233.6,123.6" fill="none" stroke="#f4f4f4" stroke-opacity="0.8" stroke-width="0.6"/><path d="M231.5,149.7 L246.9,157.7 L257.6,163.1 L267.0,165.3 L273.6,167.3 L280.9,170.6" fill="none" stroke="#f4f4f4" stroke-opacity="0.8" stroke-width="0.6"/><path d="M200.5,348.8 L214.3,340.6 L229.1,336.3 L238.0,333.1 L249.9,330.4" fill="none" stroke="#f4f4f4" stroke-opacity="0.8" stroke-width="0.6"/><path d="M198.7,176.8 L206.7,184.8 L213.5,192.4 L219.2,196.5 L229.3,202.0 L240.8,214.4" fill="none" stroke="#f4f4f4" stroke-opacity="0.8" stroke-width="0.6"/><path d="M234.2,350.0 L243.6,348.2 L260.9,345.8 L274.5,343.8 L284.2,340.9" fill="none" stroke="#f4f4f4" stroke-opacity="0.8" stroke-width="0.6"/><path d="M235.8,92.1 L252.7,88.5 L261.2,85.8 L269.8,82.6 L284.9,73.6" fill="none" stroke="#f4f4f4" stroke-opacity="0.8" stroke-width="0.6"/><path d="M181.2,288.8 L189.9,288.5 L202.4,287.6 L217.2,288.6 L229.2,293.0" fill="none" stroke="#f4f4f4" stroke-opacity="0.8" stroke-width="0.6"/><path d="M233.1,269.7 L245.8,276.2 L261.1,284.8" fill="none" stroke="#f4f4f4" stroke-opacity="0.8" stroke-width="0.6"/><path d="M180.3,214.0 L193.7,219.3 L202.6,226.7 L209.5,229.9 L214.8,234.5" fill="none" stroke="#f4f4f4" stroke-opacity="0.8" stroke-width="0.6"/><path d="M244.1,139.4 L239.3,133.7 L228.7,123.3" fill="none" stroke="#f4f4f4" stroke-opacity="0.8" stroke-width="0.6"/><path d="M240.8,281.2 L257.0,276.2 L266.1,271.5" fill="none" stroke="#f4f4f4" stroke-opacity="0.8" stroke-width="0.6"/><path d="M220.5,90.3 L231.4,96.7 L244.6,102.1 L252.0,104.4 L262.5,111.0" fill="none" stroke="#f4f4f4" stroke-opacity="0.8" stroke-width="0.6"/><path d="M220.2,304.7 L235.7,305.5 L243.6,303.3 L257.8,302.6 L269.4,301.1 L284.5,295.4" fill="none" stroke="#f4f4f4" stroke-opacity="0.8" stroke-width="0.6"/><path d="M196.5,322.4 L211.8,326.4 L220.9,330.5" fill="none" stroke="#f4f4f4" stroke-opacity="0.8" stroke-width="0.6"/><path d="M202.5,339.9 L210.4,350.6 L218.1,363.2 L225.7,370.6 L241.6,378.7 L253.6,383.3" fill="none" stroke="#f4f4f4" stroke-opacity="0.8" stroke-width="0.6"/><path d="M211.8,122.4 L216.4,135.2 L220.4,143.7 L224.2,159.7 L223.2,173.9 L224.2,189.0" fill="none" stroke="#f4f4f4" stroke-opacity="0.8" stroke-width="0.6"/><path d="M224.2,223.2 L235.7,235.1 L242.2,245.2 L246.8,260.2 L246.4,268.0" fill="none" stroke="#f4f4f4" stroke-opacity="0.8" stroke-width="0.6"/><path d="M181.4,326.7 L194.4,333.4 L206.7,337.2" fill="none" stroke="#f4f4f4" stroke-opacity="0.8" stroke-width="0.6"/></g><rect x="165" y="84.5" width="6" height="264.5" fill="#d0d0d0" opacity="0.55"/><rect x="171" y="84.5" width="1" height="264" fill="#888" opacity="0.5"/><clipPath id="cs6"><path d="M383,142 L423,142 L423,511 L383,492 Z"/></clipPath><path d="M383,142 L423,142 L423,511 L383,492 Z" fill="#9c9c9c"/><g clip-path="url(#cs6)"><ellipse cx="409.4" cy="498.4" rx="6.7" ry="2.0" fill="#888888" opacity="0.4" transform="rotate(49 409.4 498.4)"/><ellipse cx="395.2" cy="272.4" rx="10.7" ry="3.9" fill="#b2b2b2" opacity="0.4" transform="rotate(56 395.2 272.4)"/><ellipse cx="419.9" cy="451.4" rx="9.2" ry="1.9" fill="#b2b2b2" opacity="0.4" transform="rotate(47 419.9 451.4)"/><ellipse cx="413.3" cy="373.2" rx="8.4" ry="1.6" fill="#888888" opacity="0.4" transform="rotate(40 413.3 373.2)"/><ellipse cx="391.0" cy="364.5" rx="14.6" ry="3.1" fill="#888888" opacity="0.4" transform="rotate(32 391.0 364.5)"/><ellipse cx="385.3" cy="189.6" rx="6.5" ry="1.7" fill="#b2b2b2" opacity="0.4" transform="rotate(56 385.3 189.6)"/><ellipse cx="383.2" cy="241.9" rx="12.4" ry="1.5" fill="#b2b2b2" opacity="0.4" transform="rotate(66 383.2 241.9)"/><ellipse cx="391.5" cy="262.6" rx="13.5" ry="3.1" fill="#b2b2b2" opacity="0.4" transform="rotate(50 391.5 262.6)"/><ellipse cx="415.0" cy="206.4" rx="14.6" ry="3.5" fill="#888888" opacity="0.4" transform="rotate(51 415.0 206.4)"/><ellipse cx="396.4" cy="324.4" rx="12.0" ry="2.1" fill="#b2b2b2" opacity="0.4" transform="rotate(64 396.4 324.4)"/><ellipse cx="384.0" cy="258.9" rx="12.5" ry="2.3" fill="#b2b2b2" opacity="0.4" transform="rotate(51 384.0 258.9)"/><ellipse cx="412.0" cy="263.5" rx="6.9" ry="1.9" fill="#888888" opacity="0.4" transform="rotate(46 412.0 263.5)"/><ellipse cx="416.6" cy="274.0" rx="9.6" ry="2.4" fill="#888888" opacity="0.4" transform="rotate(53 416.6 274.0)"/><ellipse cx="407.1" cy="264.1" rx="13.4" ry="2.1" fill="#b2b2b2" opacity="0.4" transform="rotate(58 407.1 264.1)"/><ellipse cx="414.0" cy="256.1" rx="13.7" ry="3.9" fill="#b2b2b2" opacity="0.4" transform="rotate(48 414.0 256.1)"/><ellipse cx="397.5" cy="337.4" rx="8.7" ry="2.1" fill="#b2b2b2" opacity="0.4" transform="rotate(25 397.5 337.4)"/><ellipse cx="415.4" cy="502.5" rx="7.5" ry="3.1" fill="#b2b2b2" opacity="0.4" transform="rotate(58 415.4 502.5)"/><ellipse cx="386.6" cy="152.3" rx="7.3" ry="1.7" fill="#888888" opacity="0.4" transform="rotate(48 386.6 152.3)"/><ellipse cx="390.3" cy="488.8" rx="9.7" ry="1.9" fill="#888888" opacity="0.4" transform="rotate(64 390.3 488.8)"/><ellipse cx="417.2" cy="429.5" rx="11.3" ry="2.4" fill="#888888" opacity="0.4" transform="rotate(42 417.2 429.5)"/><ellipse cx="417.4" cy="220.6" rx="15.1" ry="3.8" fill="#b2b2b2" opacity="0.4" transform="rotate(43 417.4 220.6)"/><ellipse cx="396.0" cy="475.4" rx="7.1" ry="3.3" fill="#888888" opacity="0.4" transform="rotate(60 396.0 475.4)"/><ellipse cx="419.5" cy="390.8" rx="9.5" ry="2.1" fill="#b2b2b2" opacity="0.4" transform="rotate(40 419.5 390.8)"/><ellipse cx="419.8" cy="490.7" rx="12.3" ry="2.1" fill="#b2b2b2" opacity="0.4" transform="rotate(21 419.8 490.7)"/><ellipse cx="411.4" cy="231.2" rx="9.5" ry="2.3" fill="#b2b2b2" opacity="0.4" transform="rotate(52 411.4 231.2)"/><ellipse cx="394.9" cy="508.9" rx="8.2" ry="2.9" fill="#888888" opacity="0.4" transform="rotate(44 394.9 508.9)"/><ellipse cx="420.4" cy="425.8" rx="15.5" ry="1.8" fill="#b2b2b2" opacity="0.4" transform="rotate(34 420.4 425.8)"/><ellipse cx="396.3" cy="321.2" rx="14.9" ry="1.9" fill="#b2b2b2" opacity="0.4" transform="rotate(31 396.3 321.2)"/><ellipse cx="385.1" cy="430.6" rx="14.5" ry="3.3" fill="#888888" opacity="0.4" transform="rotate(59 385.1 430.6)"/><ellipse cx="417.5" cy="209.3" rx="14.6" ry="4.0" fill="#b2b2b2" opacity="0.4" transform="rotate(54 417.5 209.3)"/><ellipse cx="415.2" cy="198.1" rx="15.1" ry="1.8" fill="#b2b2b2" opacity="0.4" transform="rotate(28 415.2 198.1)"/><ellipse cx="412.4" cy="178.0" rx="7.7" ry="3.2" fill="#888888" opacity="0.4" transform="rotate(41 412.4 178.0)"/><ellipse cx="408.7" cy="387.5" rx="10.0" ry="2.3" fill="#888888" opacity="0.4" transform="rotate(49 408.7 387.5)"/><ellipse cx="391.1" cy="373.5" rx="6.2" ry="1.8" fill="#888888" opacity="0.4" transform="rotate(49 391.1 373.5)"/><ellipse cx="410.9" cy="410.8" rx="6.5" ry="3.7" fill="#888888" opacity="0.4" transform="rotate(64 410.9 410.8)"/><ellipse cx="387.8" cy="321.8" rx="7.4" ry="2.6" fill="#888888" opacity="0.4" transform="rotate(31 387.8 321.8)"/><ellipse cx="404.6" cy="375.7" rx="11.5" ry="4.0" fill="#b2b2b2" opacity="0.4" transform="rotate(62 404.6 375.7)"/><ellipse cx="421.3" cy="170.5" rx="15.7" ry="3.6" fill="#888888" opacity="0.4" transform="rotate(57 421.3 170.5)"/><ellipse cx="393.9" cy="207.4" rx="8.6" ry="1.7" fill="#888888" opacity="0.4" transform="rotate(30 393.9 207.4)"/><ellipse cx="384.9" cy="433.3" rx="15.5" ry="2.2" fill="#b2b2b2" opacity="0.4" transform="rotate(54 384.9 433.3)"/><ellipse cx="409.1" cy="342.7" rx="11.5" ry="3.2" fill="#b2b2b2" opacity="0.4" transform="rotate(40 409.1 342.7)"/><ellipse cx="395.7" cy="296.7" rx="15.7" ry="2.5" fill="#b2b2b2" opacity="0.4" transform="rotate(64 395.7 296.7)"/><ellipse cx="415.2" cy="473.4" rx="12.3" ry="2.1" fill="#b2b2b2" opacity="0.4" transform="rotate(55 415.2 473.4)"/><ellipse cx="412.2" cy="507.7" rx="14.3" ry="3.2" fill="#888888" opacity="0.4" transform="rotate(62 412.2 507.7)"/><ellipse cx="414.4" cy="477.2" rx="6.5" ry="3.2" fill="#b2b2b2" opacity="0.4" transform="rotate(54 414.4 477.2)"/><ellipse cx="400.7" cy="388.5" rx="10.6" ry="2.9" fill="#b2b2b2" opacity="0.4" transform="rotate(57 400.7 388.5)"/><ellipse cx="417.1" cy="330.2" rx="11.9" ry="4.0" fill="#888888" opacity="0.4" transform="rotate(61 417.1 330.2)"/><ellipse cx="414.7" cy="462.8" rx="9.6" ry="1.7" fill="#b2b2b2" opacity="0.4" transform="rotate(51 414.7 462.8)"/><ellipse cx="410.1" cy="260.9" rx="12.3" ry="2.9" fill="#888888" opacity="0.4" transform="rotate(66 410.1 260.9)"/><ellipse cx="413.6" cy="238.8" rx="14.4" ry="3.6" fill="#b2b2b2" opacity="0.4" transform="rotate(46 413.6 238.8)"/><ellipse cx="402.1" cy="223.6" rx="7.4" ry="3.8" fill="#b2b2b2" opacity="0.4" transform="rotate(46 402.1 223.6)"/><ellipse cx="404.1" cy="442.1" rx="8.4" ry="1.9" fill="#b2b2b2" opacity="0.4" transform="rotate(29 404.1 442.1)"/><ellipse cx="420.9" cy="457.8" rx="12.5" ry="3.8" fill="#b2b2b2" opacity="0.4" transform="rotate(39 420.9 457.8)"/><ellipse cx="416.3" cy="443.8" rx="7.2" ry="1.9" fill="#b2b2b2" opacity="0.4" transform="rotate(39 416.3 443.8)"/><ellipse cx="397.6" cy="386.6" rx="11.2" ry="2.3" fill="#888888" opacity="0.4" transform="rotate(34 397.6 386.6)"/><ellipse cx="394.6" cy="306.6" rx="7.1" ry="3.1" fill="#888888" opacity="0.4" transform="rotate(58 394.6 306.6)"/><ellipse cx="389.0" cy="393.0" rx="9.7" ry="2.8" fill="#888888" opacity="0.4" transform="rotate(51 389.0 393.0)"/><ellipse cx="403.9" cy="437.8" rx="8.5" ry="2.9" fill="#888888" opacity="0.4" transform="rotate(49 403.9 437.8)"/><ellipse cx="385.3" cy="207.8" rx="13.2" ry="2.2" fill="#b2b2b2" opacity="0.4" transform="rotate(33 385.3 207.8)"/><ellipse cx="393.6" cy="303.6" rx="11.3" ry="2.7" fill="#888888" opacity="0.4" transform="rotate(30 393.6 303.6)"/><ellipse cx="399.9" cy="434.4" rx="12.2" ry="2.4" fill="#888888" opacity="0.4" transform="rotate(56 399.9 434.4)"/><ellipse cx="398.0" cy="157.4" rx="13.5" ry="3.9" fill="#b2b2b2" opacity="0.4" transform="rotate(52 398.0 157.4)"/><ellipse cx="415.4" cy="272.0" rx="9.9" ry="2.9" fill="#888888" opacity="0.4" transform="rotate(69 415.4 272.0)"/><ellipse cx="417.1" cy="356.1" rx="6.6" ry="2.0" fill="#888888" opacity="0.4" transform="rotate(24 417.1 356.1)"/><ellipse cx="400.8" cy="287.1" rx="10.1" ry="3.8" fill="#888888" opacity="0.4" transform="rotate(25 400.8 287.1)"/><ellipse cx="405.5" cy="487.0" rx="13.0" ry="2.6" fill="#b2b2b2" opacity="0.4" transform="rotate(29 405.5 487.0)"/><ellipse cx="385.6" cy="288.7" rx="7.4" ry="3.4" fill="#888888" opacity="0.4" transform="rotate(54 385.6 288.7)"/><ellipse cx="412.6" cy="290.2" rx="6.4" ry="3.2" fill="#b2b2b2" opacity="0.4" transform="rotate(58 412.6 290.2)"/><ellipse cx="413.8" cy="185.6" rx="8.2" ry="1.7" fill="#888888" opacity="0.4" transform="rotate(25 413.8 185.6)"/><ellipse cx="386.5" cy="420.0" rx="11.6" ry="1.6" fill="#888888" opacity="0.4" transform="rotate(56 386.5 420.0)"/><ellipse cx="402.3" cy="162.2" rx="12.9" ry="2.5" fill="#888888" opacity="0.4" transform="rotate(70 402.3 162.2)"/><ellipse cx="415.7" cy="463.7" rx="7.5" ry="2.3" fill="#888888" opacity="0.4" transform="rotate(29 415.7 463.7)"/><ellipse cx="404.6" cy="333.9" rx="6.9" ry="2.5" fill="#b2b2b2" opacity="0.4" transform="rotate(48 404.6 333.9)"/><ellipse cx="403.4" cy="297.1" rx="6.5" ry="2.3" fill="#b2b2b2" opacity="0.4" transform="rotate(60 403.4 297.1)"/><ellipse cx="417.3" cy="236.9" rx="8.0" ry="1.6" fill="#b2b2b2" opacity="0.4" transform="rotate(67 417.3 236.9)"/><ellipse cx="409.3" cy="403.9" rx="7.4" ry="3.8" fill="#b2b2b2" opacity="0.4" transform="rotate(30 409.3 403.9)"/><ellipse cx="419.8" cy="347.2" rx="6.5" ry="2.3" fill="#888888" opacity="0.4" transform="rotate(40 419.8 347.2)"/><ellipse cx="405.6" cy="261.4" rx="8.7" ry="3.5" fill="#b2b2b2" opacity="0.4" transform="rotate(30 405.6 261.4)"/><ellipse cx="391.4" cy="501.1" rx="12.1" ry="2.5" fill="#b2b2b2" opacity="0.4" transform="rotate(30 391.4 501.1)"/><ellipse cx="391.1" cy="208.5" rx="14.6" ry="1.8" fill="#888888" opacity="0.4" transform="rotate(63 391.1 208.5)"/><ellipse cx="385.9" cy="362.0" rx="7.8" ry="3.8" fill="#888888" opacity="0.4" transform="rotate(45 385.9 362.0)"/><ellipse cx="410.0" cy="391.1" rx="8.9" ry="2.0" fill="#888888" opacity="0.4" transform="rotate(27 410.0 391.1)"/><ellipse cx="419.7" cy="218.3" rx="7.0" ry="1.7" fill="#888888" opacity="0.4" transform="rotate(68 419.7 218.3)"/><ellipse cx="399.6" cy="385.1" rx="8.6" ry="3.8" fill="#b2b2b2" opacity="0.4" transform="rotate(28 399.6 385.1)"/><ellipse cx="385.3" cy="398.7" rx="6.4" ry="3.6" fill="#b2b2b2" opacity="0.4" transform="rotate(58 385.3 398.7)"/><ellipse cx="418.0" cy="436.2" rx="13.1" ry="3.3" fill="#b2b2b2" opacity="0.4" transform="rotate(66 418.0 436.2)"/><ellipse cx="396.0" cy="452.4" rx="7.5" ry="3.5" fill="#888888" opacity="0.4" transform="rotate(40 396.0 452.4)"/><ellipse cx="384.3" cy="282.2" rx="12.4" ry="2.1" fill="#888888" opacity="0.4" transform="rotate(30 384.3 282.2)"/><ellipse cx="389.0" cy="209.9" rx="9.3" ry="2.5" fill="#888888" opacity="0.4" transform="rotate(61 389.0 209.9)"/><ellipse cx="387.9" cy="482.7" rx="16.0" ry="3.8" fill="#888888" opacity="0.4" transform="rotate(35 387.9 482.7)"/><ellipse cx="396.9" cy="418.9" rx="11.0" ry="3.8" fill="#888888" opacity="0.4" transform="rotate(30 396.9 418.9)"/><ellipse cx="394.2" cy="253.8" rx="11.8" ry="3.4" fill="#888888" opacity="0.4" transform="rotate(27 394.2 253.8)"/><ellipse cx="393.8" cy="471.5" rx="14.5" ry="2.1" fill="#b2b2b2" opacity="0.4" transform="rotate(22 393.8 471.5)"/><ellipse cx="407.0" cy="499.0" rx="9.4" ry="3.9" fill="#b2b2b2" opacity="0.4" transform="rotate(23 407.0 499.0)"/><ellipse cx="396.3" cy="307.9" rx="8.5" ry="3.4" fill="#888888" opacity="0.4" transform="rotate(25 396.3 307.9)"/><ellipse cx="416.3" cy="440.5" rx="13.2" ry="2.6" fill="#888888" opacity="0.4" transform="rotate(59 416.3 440.5)"/><ellipse cx="406.8" cy="312.3" rx="6.3" ry="2.8" fill="#888888" opacity="0.4" transform="rotate(41 406.8 312.3)"/><ellipse cx="410.9" cy="295.3" rx="14.4" ry="1.7" fill="#888888" opacity="0.4" transform="rotate(38 410.9 295.3)"/><ellipse cx="409.5" cy="175.2" rx="6.0" ry="3.1" fill="#b2b2b2" opacity="0.4" transform="rotate(35 409.5 175.2)"/><ellipse cx="393.5" cy="181.3" rx="8.4" ry="1.9" fill="#b2b2b2" opacity="0.4" transform="rotate(47 393.5 181.3)"/><ellipse cx="387.7" cy="314.6" rx="7.6" ry="2.8" fill="#b2b2b2" opacity="0.4" transform="rotate(38 387.7 314.6)"/><ellipse cx="390.9" cy="291.0" rx="8.0" ry="1.8" fill="#888888" opacity="0.4" transform="rotate(56 390.9 291.0)"/><ellipse cx="404.4" cy="230.4" rx="6.9" ry="1.8" fill="#888888" opacity="0.4" transform="rotate(44 404.4 230.4)"/><ellipse cx="414.6" cy="352.5" rx="12.9" ry="2.1" fill="#888888" opacity="0.4" transform="rotate(28 414.6 352.5)"/><ellipse cx="393.6" cy="153.4" rx="9.9" ry="2.8" fill="#b2b2b2" opacity="0.4" transform="rotate(48 393.6 153.4)"/><ellipse cx="387.8" cy="387.0" rx="8.2" ry="2.1" fill="#888888" opacity="0.4" transform="rotate(61 387.8 387.0)"/><ellipse cx="385.9" cy="266.5" rx="7.0" ry="2.0" fill="#888888" opacity="0.4" transform="rotate(61 385.9 266.5)"/><ellipse cx="396.7" cy="441.1" rx="10.6" ry="3.8" fill="#888888" opacity="0.4" transform="rotate(36 396.7 441.1)"/><ellipse cx="420.3" cy="432.3" rx="6.3" ry="3.5" fill="#888888" opacity="0.4" transform="rotate(57 420.3 432.3)"/><ellipse cx="410.2" cy="197.8" rx="9.4" ry="1.9" fill="#888888" opacity="0.4" transform="rotate(66 410.2 197.8)"/><ellipse cx="410.4" cy="403.5" rx="6.7" ry="1.5" fill="#b2b2b2" opacity="0.4" transform="rotate(22 410.4 403.5)"/><ellipse cx="404.0" cy="263.8" rx="6.7" ry="3.0" fill="#888888" opacity="0.4" transform="rotate(30 404.0 263.8)"/><ellipse cx="408.0" cy="454.1" rx="13.9" ry="1.7" fill="#b2b2b2" opacity="0.4" transform="rotate(49 408.0 454.1)"/><ellipse cx="415.1" cy="323.8" rx="13.7" ry="2.7" fill="#b2b2b2" opacity="0.4" transform="rotate(61 415.1 323.8)"/><ellipse cx="420.5" cy="475.9" rx="13.4" ry="3.6" fill="#888888" opacity="0.4" transform="rotate(42 420.5 475.9)"/><ellipse cx="416.0" cy="431.5" rx="14.7" ry="2.2" fill="#888888" opacity="0.4" transform="rotate(23 416.0 431.5)"/><ellipse cx="414.3" cy="438.0" rx="13.5" ry="3.6" fill="#888888" opacity="0.4" transform="rotate(30 414.3 438.0)"/><ellipse cx="401.3" cy="229.3" rx="10.9" ry="3.8" fill="#888888" opacity="0.4" transform="rotate(40 401.3 229.3)"/><ellipse cx="414.4" cy="434.9" rx="12.8" ry="3.9" fill="#b2b2b2" opacity="0.4" transform="rotate(40 414.4 434.9)"/><ellipse cx="386.5" cy="382.8" rx="14.4" ry="2.3" fill="#b2b2b2" opacity="0.4" transform="rotate(60 386.5 382.8)"/><ellipse cx="383.2" cy="322.5" rx="6.2" ry="1.8" fill="#b2b2b2" opacity="0.4" transform="rotate(41 383.2 322.5)"/><ellipse cx="407.2" cy="310.8" rx="9.4" ry="2.0" fill="#b2b2b2" opacity="0.4" transform="rotate(40 407.2 310.8)"/><ellipse cx="401.6" cy="154.0" rx="9.4" ry="4.0" fill="#888888" opacity="0.4" transform="rotate(55 401.6 154.0)"/><path d="M400.7,385.9 L417.2,391.7 L425.6,393.8 L437.2,400.3 L444.8,407.9 L457.1,420.3" fill="none" stroke="#f4f4f4" stroke-opacity="0.8" stroke-width="0.6"/><path d="M403.3,506.8 L409.6,513.1 L418.9,523.4 L426.6,535.3" fill="none" stroke="#f4f4f4" stroke-opacity="0.8" stroke-width="0.6"/><path d="M422.4,413.1 L409.1,410.8 L391.7,408.5 L377.8,408.0 L367.4,406.7 L353.4,404.7" fill="none" stroke="#f4f4f4" stroke-opacity="0.8" stroke-width="0.6"/><path d="M419.3,325.8 L430.3,328.5 L445.6,335.3" fill="none" stroke="#f4f4f4" stroke-opacity="0.8" stroke-width="0.6"/><path d="M412.2,418.7 L395.7,414.5 L378.3,410.0 L365.2,409.6" fill="none" stroke="#f4f4f4" stroke-opacity="0.8" stroke-width="0.6"/><path d="M422.3,373.5 L410.6,365.6 L395.2,357.0" fill="none" stroke="#f4f4f4" stroke-opacity="0.8" stroke-width="0.6"/><path d="M411.4,396.9 L418.9,400.7 L424.1,405.0 L434.5,411.4 L447.7,422.0" fill="none" stroke="#f4f4f4" stroke-opacity="0.8" stroke-width="0.6"/><path d="M406.5,500.5 L397.2,486.1 L388.7,474.7 L382.1,467.4" fill="none" stroke="#f4f4f4" stroke-opacity="0.8" stroke-width="0.6"/><path d="M414.7,316.4 L409.9,307.9 L399.5,297.0 L390.5,288.0" fill="none" stroke="#f4f4f4" stroke-opacity="0.8" stroke-width="0.6"/><path d="M409.8,419.7 L400.6,407.5 L387.5,398.5" fill="none" stroke="#f4f4f4" stroke-opacity="0.8" stroke-width="0.6"/><path d="M405.7,272.5 L419.8,271.4 L435.3,269.1" fill="none" stroke="#f4f4f4" stroke-opacity="0.8" stroke-width="0.6"/><path d="M387.5,255.3 L380.5,241.4 L378.0,230.9 L375.8,221.1 L376.2,206.6 L372.9,192.1" fill="none" stroke="#f4f4f4" stroke-opacity="0.8" stroke-width="0.6"/><path d="M399.5,484.2 L409.1,494.4 L416.1,502.7" fill="none" stroke="#f4f4f4" stroke-opacity="0.8" stroke-width="0.6"/><path d="M405.9,243.0 L422.4,239.6 L437.2,240.6 L450.4,244.6" fill="none" stroke="#f4f4f4" stroke-opacity="0.8" stroke-width="0.6"/><path d="M418.1,190.4 L426.7,205.0 L433.1,213.1 L442.7,226.7 L447.7,230.5" fill="none" stroke="#f4f4f4" stroke-opacity="0.8" stroke-width="0.6"/><path d="M403.7,187.0 L390.4,175.2 L381.2,165.8 L370.0,160.3 L359.4,155.2" fill="none" stroke="#f4f4f4" stroke-opacity="0.8" stroke-width="0.6"/><path d="M394.8,487.5 L402.4,501.2 L405.4,506.8 L407.2,512.9 L410.3,523.6" fill="none" stroke="#f4f4f4" stroke-opacity="0.8" stroke-width="0.6"/><path d="M385.5,374.5 L401.7,371.5 L417.1,374.0 L425.9,378.6 L430.5,383.7 L435.8,389.2" fill="none" stroke="#f4f4f4" stroke-opacity="0.8" stroke-width="0.6"/><path d="M401.2,393.9 L393.8,390.1 L384.0,382.7 L377.1,378.0" fill="none" stroke="#f4f4f4" stroke-opacity="0.8" stroke-width="0.6"/><path d="M411.1,214.6 L423.4,222.6 L428.5,227.1" fill="none" stroke="#f4f4f4" stroke-opacity="0.8" stroke-width="0.6"/><path d="M391.2,146.8 L385.2,139.1 L380.2,133.8 L372.1,122.0" fill="none" stroke="#f4f4f4" stroke-opacity="0.8" stroke-width="0.6"/><path d="M399.8,152.8 L394.2,148.8 L385.6,144.0 L373.1,131.4 L366.8,120.8 L359.8,112.8" fill="none" stroke="#f4f4f4" stroke-opacity="0.8" stroke-width="0.6"/><path d="M397.2,384.2 L410.8,389.7 L427.4,392.1 L435.0,392.8 L449.5,390.3 L455.8,389.3" fill="none" stroke="#f4f4f4" stroke-opacity="0.8" stroke-width="0.6"/><path d="M415.5,501.1 L423.3,511.2 L433.0,522.9 L435.4,528.5 L441.2,536.9" fill="none" stroke="#f4f4f4" stroke-opacity="0.8" stroke-width="0.6"/><path d="M418.2,178.2 L430.7,181.1 L445.9,187.1 L459.6,189.2 L476.0,196.2 L485.9,202.3" fill="none" stroke="#f4f4f4" stroke-opacity="0.8" stroke-width="0.6"/><path d="M418.2,365.6 L429.8,375.8 L437.7,386.9" fill="none" stroke="#f4f4f4" stroke-opacity="0.8" stroke-width="0.6"/><path d="M412.7,156.1 L422.0,170.6 L431.7,180.7 L437.9,192.9 L439.4,201.9 L442.0,207.6" fill="none" stroke="#f4f4f4" stroke-opacity="0.8" stroke-width="0.6"/><path d="M413.3,180.3 L425.2,190.2 L434.9,204.1 L448.1,213.5 L460.7,223.2" fill="none" stroke="#f4f4f4" stroke-opacity="0.8" stroke-width="0.6"/><path d="M403.1,370.7 L416.5,366.6 L424.8,364.5 L435.5,358.9 L443.8,356.9" fill="none" stroke="#f4f4f4" stroke-opacity="0.8" stroke-width="0.6"/><path d="M411.3,413.4 L418.3,412.5 L434.1,407.5 L441.2,407.8 L450.8,406.5" fill="none" stroke="#f4f4f4" stroke-opacity="0.8" stroke-width="0.6"/><path d="M394.8,324.3 L405.5,335.2 L414.3,341.2" fill="none" stroke="#f4f4f4" stroke-opacity="0.8" stroke-width="0.6"/><path d="M422.3,482.9 L432.5,493.4 L445.1,499.9" fill="none" stroke="#f4f4f4" stroke-opacity="0.8" stroke-width="0.6"/><path d="M417.0,301.0 L426.4,299.0 L435.8,295.9 L445.2,289.5" fill="none" stroke="#f4f4f4" stroke-opacity="0.8" stroke-width="0.6"/><path d="M422.2,383.3 L420.2,377.5 L417.2,367.9 L414.4,358.0 L414.1,352.0" fill="none" stroke="#f4f4f4" stroke-opacity="0.8" stroke-width="0.6"/><path d="M413.8,230.1 L405.1,224.4 L390.6,214.5 L379.1,210.1 L368.0,204.4 L360.2,196.8" fill="none" stroke="#f4f4f4" stroke-opacity="0.8" stroke-width="0.6"/><path d="M419.6,396.5 L426.3,399.6 L436.2,408.5 L441.7,414.4 L445.7,422.9" fill="none" stroke="#f4f4f4" stroke-opacity="0.8" stroke-width="0.6"/><path d="M398.6,268.1 L411.6,270.6 L420.7,273.8 L427.5,273.9" fill="none" stroke="#f4f4f4" stroke-opacity="0.8" stroke-width="0.6"/><path d="M383.6,275.4 L393.1,281.6 L399.1,288.4 L409.3,298.6 L424.5,308.0" fill="none" stroke="#f4f4f4" stroke-opacity="0.8" stroke-width="0.6"/><path d="M418.1,459.8 L427.8,472.1 L432.6,480.1" fill="none" stroke="#f4f4f4" stroke-opacity="0.8" stroke-width="0.6"/><path d="M383.4,212.1 L391.0,210.8 L407.0,203.0 L418.9,195.9 L426.6,191.9" fill="none" stroke="#f4f4f4" stroke-opacity="0.8" stroke-width="0.6"/><path d="M385.6,147.5 L400.2,142.4 L409.3,137.3 L415.7,133.9" fill="none" stroke="#f4f4f4" stroke-opacity="0.8" stroke-width="0.6"/><path d="M392.9,435.7 L403.2,448.3 L415.9,459.2 L421.1,462.3" fill="none" stroke="#f4f4f4" stroke-opacity="0.8" stroke-width="0.6"/><path d="M387.0,281.3 L396.4,288.6 L406.1,295.3 L416.7,308.4 L421.2,313.5 L428.7,318.8" fill="none" stroke="#f4f4f4" stroke-opacity="0.8" stroke-width="0.6"/><path d="M400.8,230.2 L417.8,233.2 L426.5,234.9 L442.9,234.2 L449.7,232.5 L465.4,225.8" fill="none" stroke="#f4f4f4" stroke-opacity="0.8" stroke-width="0.6"/><path d="M401.4,411.9 L414.3,405.2 L422.2,400.9 L434.2,394.5 L450.4,390.0" fill="none" stroke="#f4f4f4" stroke-opacity="0.8" stroke-width="0.6"/><path d="M408.7,395.5 L421.0,405.2 L429.3,417.6 L432.7,427.4 L433.2,435.6" fill="none" stroke="#f4f4f4" stroke-opacity="0.8" stroke-width="0.6"/><path d="M392.1,362.6 L385.1,355.9 L378.4,350.9 L372.5,348.8" fill="none" stroke="#f4f4f4" stroke-opacity="0.8" stroke-width="0.6"/><path d="M389.6,274.8 L397.7,277.6 L404.5,282.4 L412.5,287.9 L419.0,294.5 L425.4,308.1" fill="none" stroke="#f4f4f4" stroke-opacity="0.8" stroke-width="0.6"/><path d="M384.3,207.5 L396.0,217.9 L404.2,226.3" fill="none" stroke="#f4f4f4" stroke-opacity="0.8" stroke-width="0.6"/></g><clipPath id="cs7"><path d="M351,312 h32 v24 h-32 Z"/></clipPath><path d="M351,312 h32 v24 h-32 Z" fill="#a0a0a0"/><g clip-path="url(#cs7)"><ellipse cx="368.5" cy="321.3" rx="8.6" ry="2.9" fill="#c8c8c8" opacity="0.4" transform="rotate(68 368.5 321.3)"/><ellipse cx="355.8" cy="315.3" rx="11.2" ry="3.0" fill="#989898" opacity="0.4" transform="rotate(28 355.8 315.3)"/><ellipse cx="364.5" cy="313.9" rx="14.2" ry="3.5" fill="#c8c8c8" opacity="0.4" transform="rotate(64 364.5 313.9)"/><ellipse cx="372.2" cy="332.6" rx="15.6" ry="2.2" fill="#c8c8c8" opacity="0.4" transform="rotate(25 372.2 332.6)"/><ellipse cx="364.9" cy="331.7" rx="15.7" ry="3.8" fill="#989898" opacity="0.4" transform="rotate(34 364.9 331.7)"/><ellipse cx="381.9" cy="332.9" rx="10.2" ry="2.8" fill="#c8c8c8" opacity="0.4" transform="rotate(60 381.9 332.9)"/><path d="M371.9,324.3 L363.2,314.5 L354.8,308.0 L344.2,294.1" fill="none" stroke="#f4f4f4" stroke-opacity="0.8" stroke-width="0.6"/><path d="M371.6,321.9 L380.7,325.8 L389.4,333.1 L402.0,341.5 L412.3,354.6 L418.6,362.2" fill="none" stroke="#f4f4f4" stroke-opacity="0.8" stroke-width="0.6"/></g><path d="M238.6,66.5 L440.2,66.5 L440.2,84 L437.2,84 L437.2,511 L422.7,511 L422.7,143 L427.5,143 L427.5,85 L261,85 L261,357 L245,357 L245,85 L238.6,85 Z" fill="#2f9e48"/><rect x="261" y="85" width="166.5" height="58" fill="#2c2c2e"/><rect x="261" y="85.5" width="162" height="11" fill="#858585"/><rect x="261" y="85.5" width="162" height="3" fill="#a0a0a0"/><rect x="269.5" y="66.5" width="5.5" height="27.5" fill="#1a1a1a"/><rect x="272.2" y="66.5" width="2.2" height="27.5" fill="#f2f2f2"/><rect x="261" y="96" width="13.5" height="47" fill="#3c3c3c"/><rect x="274" y="100" width="1" height="43" fill="#5a3ad8"/><path d="M275,92 L398,92 L398,112 L414,112 L414,141 L275,141 Z" fill="#c82020"/><clipPath id="topclip"><rect x="275" y="84" width="152" height="57.5"/></clipPath><g clip-path="url(#topclip)"><path d="M295.8,106.5 Q299.2,109.9 297.8,112.9 Q296.5,115.9 292.8,118.4 Q289.2,121.0 286.2,119.3 Q283.2,117.6 282.9,114.8 Q282.7,111.9 284.0,108.5 Q285.3,105.1 288.8,104.2 Q292.3,103.2 295.8,106.5Z" fill="url(#gPink)" stroke="#c42c2c" stroke-width="0.8"/><path d="M315.2,107.5 Q317.1,110.6 316.6,115.0 Q316.1,119.5 312.3,120.4 Q308.5,121.3 306.4,120.1 Q304.4,118.9 303.5,115.3 Q302.5,111.7 305.2,108.7 Q307.9,105.7 310.5,105.0 Q313.2,104.4 315.2,107.5Z" fill="url(#gPink)" stroke="#c42c2c" stroke-width="0.8"/><path d="M336.8,107.3 Q338.7,110.5 337.7,113.2 Q336.8,116.0 333.7,117.6 Q330.6,119.1 327.3,119.4 Q324.0,119.7 322.1,116.0 Q320.2,112.2 322.0,108.5 Q323.8,104.8 329.4,104.4 Q335.0,104.1 336.8,107.3Z" fill="url(#gPink)" stroke="#c42c2c" stroke-width="0.8"/><path d="M358.5,112.6 Q359.4,115.5 357.3,117.6 Q355.2,119.7 350.5,119.3 Q345.8,118.9 342.8,116.0 Q339.8,113.2 341.4,110.7 Q343.1,108.2 346.4,106.8 Q349.7,105.3 353.6,107.5 Q357.6,109.7 358.5,112.6Z" fill="url(#gPink)" stroke="#c42c2c" stroke-width="0.8"/><path d="M374.8,106.6 Q378.2,107.9 377.4,112.9 Q376.6,117.9 374.0,119.5 Q371.3,121.1 367.7,119.7 Q364.0,118.3 362.5,115.5 Q361.0,112.7 363.5,109.9 Q365.9,107.2 368.7,106.2 Q371.4,105.3 374.8,106.6Z" fill="url(#gPink)" stroke="#c42c2c" stroke-width="0.8"/><path d="M395.9,112.8 Q395.9,116.5 393.2,118.5 Q390.5,120.4 387.4,121.2 Q384.3,122.1 382.4,117.9 Q380.4,113.7 381.5,110.5 Q382.7,107.4 386.8,106.2 Q390.8,105.1 393.4,107.1 Q396.0,109.0 395.9,112.8Z" fill="url(#gPink)" stroke="#c42c2c" stroke-width="0.8"/><path d="M308.1,141.0 Q310.4,144.7 307.1,145.6 Q303.8,146.5 299.9,146.1 Q296.1,145.7 294.2,142.7 Q292.4,139.8 292.7,136.5 Q292.9,133.1 296.5,133.0 Q300.2,133.0 303.0,135.1 Q305.9,137.3 308.1,141.0Z" fill="url(#gPink)" stroke="#c42c2c" stroke-width="0.8"/><path d="M335.9,136.4 Q338.6,138.2 338.1,140.3 Q337.6,142.4 332.2,144.8 Q326.9,147.2 324.0,145.5 Q321.2,143.7 320.0,141.7 Q318.8,139.6 322.7,136.9 Q326.6,134.2 329.9,134.4 Q333.2,134.6 335.9,136.4Z" fill="url(#gPink)" stroke="#c42c2c" stroke-width="0.8"/><path d="M368.8,141.4 Q370.6,144.1 367.4,145.1 Q364.1,146.2 359.7,145.8 Q355.4,145.4 353.0,142.9 Q350.7,140.4 350.8,137.6 Q350.9,134.8 354.2,134.0 Q357.5,133.1 362.2,135.9 Q366.9,138.7 368.8,141.4Z" fill="url(#gPink)" stroke="#c42c2c" stroke-width="0.8"/><path d="M403.7,138.0 Q406.2,141.3 403.1,143.1 Q400.1,144.8 396.2,145.7 Q392.3,146.7 389.4,143.7 Q386.6,140.8 386.8,139.3 Q387.0,137.9 389.2,136.1 Q391.5,134.3 396.3,134.5 Q401.2,134.6 403.7,138.0Z" fill="url(#gPink)" stroke="#c42c2c" stroke-width="0.8"/><path d="M294.0,126.4 Q294.7,129.8 292.2,134.4 Q289.8,139.0 285.4,139.2 Q281.1,139.4 277.6,136.9 Q274.0,134.5 274.3,128.8 Q274.7,123.1 277.5,120.8 Q280.3,118.6 286.9,120.8 Q293.4,123.1 294.0,126.4Z" fill="url(#gPink)" stroke="#c42c2c" stroke-width="0.8"/><path d="M309.8,129.3 Q310.8,131.8 308.9,136.0 Q306.9,140.3 301.6,140.7 Q296.2,141.1 292.5,137.5 Q288.9,133.9 290.7,129.9 Q292.5,125.9 296.1,123.8 Q299.6,121.6 304.2,124.2 Q308.9,126.9 309.8,129.3Z" fill="url(#gPink)" stroke="#c42c2c" stroke-width="0.8"/><path d="M323.0,118.5 Q324.6,122.2 322.6,125.3 Q320.7,128.3 315.6,129.9 Q310.5,131.5 307.3,127.8 Q304.0,124.1 304.1,120.8 Q304.3,117.4 307.8,116.0 Q311.3,114.6 316.4,114.6 Q321.4,114.7 323.0,118.5Z" fill="url(#gPink)" stroke="#c42c2c" stroke-width="0.8"/><path d="M338.5,122.1 Q342.4,125.3 339.5,129.3 Q336.7,133.3 333.0,136.8 Q329.3,140.2 323.6,136.6 Q318.0,133.0 318.6,128.9 Q319.3,124.8 322.3,121.2 Q325.2,117.7 329.9,118.3 Q334.7,118.9 338.5,122.1Z" fill="url(#gPink)" stroke="#c42c2c" stroke-width="0.8"/><path d="M349.1,127.1 Q350.2,129.4 349.3,133.4 Q348.4,137.4 344.0,139.6 Q339.6,141.9 336.3,138.6 Q333.1,135.2 332.9,131.9 Q332.7,128.6 335.7,124.8 Q338.7,121.0 343.3,123.0 Q347.9,124.9 349.1,127.1Z" fill="url(#gPink)" stroke="#c42c2c" stroke-width="0.8"/><path d="M359.5,119.1 Q361.7,122.8 359.4,127.2 Q357.0,131.5 353.3,132.0 Q349.5,132.5 346.1,129.7 Q342.6,127.0 343.1,122.6 Q343.6,118.3 346.1,115.8 Q348.5,113.3 352.9,114.3 Q357.4,115.3 359.5,119.1Z" fill="url(#gPink)" stroke="#c42c2c" stroke-width="0.8"/><path d="M375.4,131.1 Q377.2,136.3 374.5,137.5 Q371.9,138.8 367.3,139.2 Q362.7,139.7 359.8,136.9 Q357.0,134.1 357.9,130.1 Q358.8,126.0 364.0,123.2 Q369.2,120.4 371.4,123.2 Q373.6,125.9 375.4,131.1Z" fill="url(#gPink)" stroke="#c42c2c" stroke-width="0.8"/><path d="M391.2,126.6 Q390.7,132.6 388.1,136.1 Q385.6,139.6 380.4,138.1 Q375.2,136.5 373.5,131.7 Q371.7,126.9 372.4,123.1 Q373.1,119.2 377.9,117.3 Q382.8,115.4 387.2,118.0 Q391.6,120.6 391.2,126.6Z" fill="url(#gPink)" stroke="#c42c2c" stroke-width="0.8"/><path d="M413.6,119.2 Q416.5,123.6 414.3,129.4 Q412.2,135.2 407.3,137.0 Q402.3,138.9 398.6,137.2 Q394.9,135.5 393.6,130.3 Q392.4,125.0 396.5,120.7 Q400.5,116.5 405.6,115.6 Q410.7,114.8 413.6,119.2Z" fill="url(#gPink)" stroke="#c42c2c" stroke-width="0.8"/><path d="M298.4,119.0 Q300.0,121.1 298.7,123.9 Q297.3,126.8 293.1,126.7 Q288.8,126.6 286.8,125.3 Q284.9,124.1 285.1,121.0 Q285.3,117.9 288.3,115.4 Q291.2,113.0 294.0,114.9 Q296.9,116.9 298.4,119.0Z" fill="url(#gPink)" stroke="#c42c2c" stroke-width="0.8"/><path d="M382.5,133.6 Q383.5,137.0 381.8,138.4 Q380.0,139.9 376.3,140.6 Q372.5,141.4 370.0,139.0 Q367.5,136.7 368.7,131.9 Q369.8,127.1 373.5,127.3 Q377.2,127.5 379.4,128.8 Q381.6,130.1 382.5,133.6Z" fill="url(#gPink)" stroke="#c42c2c" stroke-width="0.8"/><path d="M402.3,121.4 Q402.9,125.8 400.4,126.9 Q397.9,128.1 393.8,128.2 Q389.7,128.4 388.4,125.4 Q387.1,122.4 388.8,119.2 Q390.4,116.0 392.8,115.2 Q395.2,114.4 398.5,115.8 Q401.8,117.1 402.3,121.4Z" fill="url(#gPink)" stroke="#c42c2c" stroke-width="0.8"/><path d="M291.9,95.7 Q291.5,100.1 289.2,104.5 Q286.8,108.9 283.5,108.1 Q280.2,107.3 278.4,104.4 Q276.6,101.6 277.0,96.7 Q277.4,91.8 281.5,91.1 Q285.7,90.4 288.9,90.8 Q292.2,91.2 291.9,95.7Z" fill="url(#gWhite)" stroke="#b86a6a" stroke-width="0.8"/><path d="M307.8,100.1 Q309.8,104.0 306.8,108.7 Q303.8,113.5 300.3,114.9 Q296.9,116.2 293.5,112.4 Q290.1,108.6 289.0,104.0 Q287.9,99.4 292.3,96.9 Q296.7,94.4 301.2,95.3 Q305.8,96.3 307.8,100.1Z" fill="url(#gWhite)" stroke="#b86a6a" stroke-width="0.8"/><path d="M317.6,90.0 Q319.9,93.5 318.4,97.5 Q316.9,101.6 314.4,103.2 Q311.8,104.7 307.1,102.4 Q302.4,100.0 301.2,95.9 Q300.0,91.7 302.2,88.9 Q304.4,86.2 309.8,86.4 Q315.2,86.5 317.6,90.0Z" fill="url(#gWhite)" stroke="#b86a6a" stroke-width="0.8"/><path d="M331.3,96.1 Q334.2,98.7 334.1,103.9 Q334.1,109.1 329.6,110.9 Q325.0,112.8 320.2,111.9 Q315.4,111.0 315.0,106.9 Q314.5,102.7 317.0,98.8 Q319.5,94.8 324.0,94.2 Q328.5,93.5 331.3,96.1Z" fill="url(#gWhite)" stroke="#b86a6a" stroke-width="0.8"/><path d="M344.2,95.1 Q344.4,98.1 342.1,100.8 Q339.9,103.4 335.7,103.9 Q331.6,104.4 330.4,100.9 Q329.3,97.3 329.5,94.2 Q329.7,91.1 333.9,89.9 Q338.1,88.6 341.1,90.4 Q344.1,92.2 344.2,95.1Z" fill="url(#gWhite)" stroke="#b86a6a" stroke-width="0.8"/><path d="M354.4,98.6 Q357.9,102.3 356.8,106.4 Q355.6,110.6 353.0,111.7 Q350.4,112.7 345.6,112.2 Q340.8,111.7 339.1,106.7 Q337.3,101.7 340.5,98.9 Q343.6,96.0 347.2,95.5 Q350.8,94.9 354.4,98.6Z" fill="url(#gWhite)" stroke="#b86a6a" stroke-width="0.8"/><path d="M366.7,92.3 Q369.1,96.1 366.9,99.4 Q364.8,102.7 360.8,104.2 Q356.9,105.7 353.8,103.0 Q350.8,100.2 350.8,95.9 Q350.9,91.6 354.2,90.2 Q357.6,88.7 360.9,88.6 Q364.3,88.5 366.7,92.3Z" fill="url(#gWhite)" stroke="#b86a6a" stroke-width="0.8"/><path d="M379.3,101.9 Q381.6,106.1 379.0,108.6 Q376.4,111.1 371.8,112.7 Q367.2,114.3 365.6,111.0 Q364.0,107.8 363.0,104.1 Q362.0,100.5 365.8,98.3 Q369.6,96.2 373.4,97.0 Q377.1,97.8 379.3,101.9Z" fill="url(#gWhite)" stroke="#b86a6a" stroke-width="0.8"/><path d="M390.0,95.8 Q392.0,100.7 389.0,104.1 Q386.0,107.4 382.9,108.6 Q379.8,109.8 375.9,105.8 Q371.9,101.9 372.3,98.2 Q372.8,94.6 377.5,92.5 Q382.2,90.5 385.1,90.7 Q388.0,90.8 390.0,95.8Z" fill="url(#gWhite)" stroke="#b86a6a" stroke-width="0.8"/><path d="M398.1,102.9 Q401.2,106.8 400.6,110.7 Q400.0,114.6 397.6,116.1 Q395.1,117.6 390.7,116.6 Q386.3,115.6 384.7,111.3 Q383.2,107.1 385.1,102.7 Q387.0,98.2 391.0,98.6 Q395.0,99.0 398.1,102.9Z" fill="url(#gWhite)" stroke="#b86a6a" stroke-width="0.8"/><path d="M287.6,107.2 Q289.7,108.7 288.8,111.6 Q288.0,114.5 285.1,116.5 Q282.2,118.4 280.3,118.0 Q278.4,117.6 277.4,114.4 Q276.4,111.3 277.8,108.7 Q279.2,106.1 282.3,105.9 Q285.5,105.8 287.6,107.2Z" fill="url(#gWhite)" stroke="#b86a6a" stroke-width="0.8"/></g><rect x="277.5" y="113.8" width="106.5" height="5.2" rx="2.6" fill="url(#gRod)" stroke="#333" stroke-width="0.5"/><rect x="261" y="141.5" width="166.5" height="2.5" fill="#2418e0"/><rect x="426.5" y="97" width="1.5" height="46" fill="#2418e0"/><rect x="261" y="143.5" width="121" height="13" fill="#6a0c0c"/><clipPath id="bandclip"><rect x="262" y="144" width="119" height="13"/></clipPath><g clip-path="url(#bandclip)"><path d="M284,158 C288,150 300,146 320,145 C340,146 352,150 356,158 Z" fill="#d8500a"/><path d="M325.2,158 C325.2,151.2 324.2,147.1 325.0,144.4 C325.6,149.9 330.5,152.6 330.5,158 Z" fill="#ffc030" opacity="0.9"/><path d="M314.7,158 C314.7,151.7 314.6,148.0 315.5,145.5 C316.1,150.5 320.9,153.0 320.9,158 Z" fill="#ffb424" opacity="0.9"/><path d="M316.3,158 C316.3,152.1 316.0,148.6 316.5,146.2 C316.9,150.9 319.7,153.3 319.7,158 Z" fill="#ffc030" opacity="0.9"/><path d="M332.8,158 C332.8,153.4 332.1,150.6 332.8,148.7 C333.2,152.4 336.8,154.3 336.8,158 Z" fill="#ff9418" opacity="0.9"/><path d="M337.5,158 C337.5,151.8 336.4,148.1 336.8,145.7 C337.1,150.6 340.5,153.1 340.5,158 Z" fill="#ffb424" opacity="0.9"/><path d="M349.0,158 C349.0,151.3 352.1,147.3 352.5,144.6 C352.7,150.0 351.4,152.6 351.4,158 Z" fill="#ffb424" opacity="0.9"/><path d="M303.4,158 C303.4,152.1 303.7,148.6 304.6,146.2 C305.2,150.9 309.6,153.3 309.6,158 Z" fill="#ffb424" opacity="0.9"/><path d="M348.4,158 C348.4,150.6 348.3,146.2 348.8,143.2 C349.1,149.1 351.6,152.1 351.6,158 Z" fill="#ff9418" opacity="0.9"/><path d="M309.6,158 C309.6,153.5 309.6,150.8 310.1,149.0 C310.4,152.6 312.6,154.4 312.6,158 Z" fill="#ffd23a" opacity="0.9"/><path d="M337.9,158 C337.9,151.9 337.0,148.3 337.7,145.8 C338.2,150.7 342.7,153.1 342.7,158 Z" fill="#ffe27a" opacity="0.9"/><path d="M308.9,158 C308.9,151.6 310.1,147.7 310.6,145.1 C311.0,150.3 312.6,152.9 312.6,158 Z" fill="#ffb424" opacity="0.9"/><path d="M331.8,158 C331.8,150.6 335.4,146.1 335.8,143.2 C336.1,149.1 334.4,152.1 334.4,158 Z" fill="#ffd23a" opacity="0.9"/><path d="M308.9,158 C308.9,152.1 309.5,148.5 310.1,146.2 C310.5,150.9 312.9,153.3 312.9,158 Z" fill="#ff9418" opacity="0.9"/><path d="M323.8,158 C323.8,153.8 325.4,151.3 325.8,149.7 C326.0,153.0 326.2,154.7 326.2,158 Z" fill="#ffb424" opacity="0.9"/><path d="M347.6,158 C347.6,153.1 347.7,150.2 348.1,148.3 C348.4,152.2 350.5,154.1 350.5,158 Z" fill="#ff9418" opacity="0.9"/><path d="M308.5,158 C308.5,151.3 310.6,147.3 311.2,144.6 C311.7,149.9 313.0,152.6 313.0,158 Z" fill="#ffd23a" opacity="0.9"/><path d="M336.0,158 C336.0,153.0 340.1,149.9 340.7,147.9 C341.0,152.0 339.9,154.0 339.9,158 Z" fill="#ff9418" opacity="0.9"/><path d="M292.0,158 C292.0,151.9 292.3,148.2 292.9,145.7 C293.3,150.6 295.7,153.1 295.7,158 Z" fill="#ffb424" opacity="0.9"/><path d="M344.9,158 C344.9,152.9 345.3,149.9 346.0,147.8 C346.4,151.9 349.4,153.9 349.4,158 Z" fill="#ffe27a" opacity="0.9"/><path d="M336.7,158 C336.7,151.5 341.4,147.6 342.1,145.0 C342.6,150.2 341.6,152.8 341.6,158 Z" fill="#ffe27a" opacity="0.9"/><path d="M297.0,158 C297.0,150.5 300.5,146.1 300.9,143.1 C301.1,149.1 299.6,152.0 299.6,158 Z" fill="#ffc030" opacity="0.9"/><path d="M287.4,158 C287.4,152.8 289.0,149.7 289.8,147.6 C290.3,151.8 292.7,153.8 292.7,158 Z" fill="#ffe27a" opacity="0.9"/><path d="M313.7,158 C313.7,150.8 316.4,146.5 316.8,143.6 C317.1,149.4 316.3,152.2 316.3,158 Z" fill="#ffd23a" opacity="0.9"/><path d="M307.8,158 C307.8,150.6 311.6,146.1 312.1,143.1 C312.4,149.1 311.0,152.1 311.0,158 Z" fill="#ffc030" opacity="0.9"/><path d="M325.6,158 C325.6,153.6 326.8,151.0 327.6,149.3 C328.1,152.8 331.1,154.5 331.1,158 Z" fill="#ff9418" opacity="0.9"/><path d="M289.7,158 C289.7,153.5 293.3,150.8 293.9,149.0 C294.3,152.6 293.8,154.4 293.8,158 Z" fill="#ffc030" opacity="0.9"/></g><rect x="261" y="160" width="118.5" height="133" fill="url(#gRed)"/><rect x="380.5" y="143" width="2.6" height="153" fill="#2418e0"/><path d="M383,150 v145" stroke="#2418e0" stroke-width="1.6" stroke-dasharray="1.2,1.3"/><path d="M261,156.5 L380,156 L392,168.3 L272,173.3 L261,173.3 Z" fill="url(#gLid)"/><path d="M261,156.5 L380,156" stroke="#d84040" stroke-width="0.8"/><path d="M262,174 L392.5,168.8" stroke="#ffe000" stroke-width="1.8"/><path d="M261,165 L266,165 L270,171 L270,173.5 L261,173.5 Z" fill="#2418e0"/><rect x="378.2" y="170" width="2" height="122" fill="#ffe000"/><rect x="261" y="189.5" width="93" height="9.5" rx="3" fill="url(#gRod2)"/><ellipse cx="276" cy="194" rx="5" ry="4.5" fill="#7a2020"/><ellipse cx="275" cy="192.6" rx="3" ry="1.6" fill="#d08080"/><clipPath id="heatclip"><rect x="261" y="174" width="117.5" height="118"/></clipPath><g clip-path="url(#heatclip)"><path d="M269.9,219.9 Q270.7,224.0 268.2,226.9 Q265.6,229.9 262.6,231.3 Q259.5,232.7 255.7,229.5 Q251.9,226.3 252.3,222.5 Q252.6,218.7 256.8,216.9 Q261.1,215.1 265.1,215.5 Q269.1,215.9 269.9,219.9Z" fill="url(#gPink)" stroke="#c42c2c" stroke-width="0.8"/><path d="M287.7,219.1 Q288.0,223.1 284.7,224.7 Q281.3,226.3 276.7,225.5 Q272.0,224.8 269.5,222.1 Q266.9,219.4 268.5,214.3 Q270.1,209.1 274.6,209.6 Q279.1,210.1 283.2,212.5 Q287.4,215.0 287.7,219.1Z" fill="url(#gPink)" stroke="#c42c2c" stroke-width="0.8"/><path d="M297.6,212.2 Q300.3,214.6 300.8,218.1 Q301.3,221.6 298.7,224.4 Q296.0,227.3 291.0,226.9 Q285.9,226.5 284.6,222.0 Q283.3,217.6 284.2,215.4 Q285.2,213.2 290.1,211.5 Q295.0,209.8 297.6,212.2Z" fill="url(#gPink)" stroke="#c42c2c" stroke-width="0.8"/><path d="M318.3,213.1 Q320.7,217.5 317.9,220.8 Q315.1,224.1 311.0,224.2 Q306.9,224.3 302.6,220.6 Q298.4,216.9 300.7,213.0 Q303.0,209.1 306.2,208.0 Q309.5,206.9 312.8,207.8 Q316.0,208.7 318.3,213.1Z" fill="url(#gPink)" stroke="#c42c2c" stroke-width="0.8"/><path d="M332.2,219.7 Q333.3,223.9 331.6,226.0 Q330.0,228.0 325.2,227.7 Q320.5,227.5 316.6,224.5 Q312.8,221.6 314.3,217.7 Q315.7,213.9 320.6,211.6 Q325.5,209.2 328.3,212.3 Q331.0,215.4 332.2,219.7Z" fill="url(#gPink)" stroke="#c42c2c" stroke-width="0.8"/><path d="M343.3,214.1 Q346.8,216.4 347.5,219.9 Q348.2,223.4 345.2,225.6 Q342.1,227.8 338.0,227.7 Q333.9,227.6 331.7,224.2 Q329.5,220.9 330.7,218.6 Q331.8,216.3 335.8,214.1 Q339.8,211.8 343.3,214.1Z" fill="url(#gPink)" stroke="#c42c2c" stroke-width="0.8"/><path d="M408.9,223.4 Q409.3,228.3 406.7,229.7 Q404.2,231.1 400.1,230.0 Q396.0,229.0 392.1,225.9 Q388.2,222.7 389.9,219.8 Q391.6,216.8 395.7,214.9 Q399.7,213.0 404.1,215.8 Q408.6,218.6 408.9,223.4Z" fill="url(#gPink)" stroke="#c42c2c" stroke-width="0.8"/><path d="M279.0,230.9 Q278.4,234.1 275.5,236.6 Q272.7,239.2 269.6,238.1 Q266.5,237.1 262.2,233.2 Q257.9,229.2 259.7,226.1 Q261.5,223.1 267.0,222.0 Q272.5,220.9 276.1,224.3 Q279.6,227.6 279.0,230.9Z" fill="url(#gPink)" stroke="#c42c2c" stroke-width="0.8"/><path d="M294.7,230.1 Q296.7,234.0 293.2,235.6 Q289.7,237.1 284.4,237.1 Q279.2,237.0 277.3,233.1 Q275.4,229.1 277.1,226.5 Q278.9,223.9 283.4,222.6 Q287.8,221.2 290.2,223.7 Q292.7,226.1 294.7,230.1Z" fill="url(#gPink)" stroke="#c42c2c" stroke-width="0.8"/><path d="M310.8,227.4 Q310.1,230.4 307.2,232.7 Q304.2,235.0 300.5,234.2 Q296.7,233.5 293.8,231.2 Q291.0,228.9 292.7,225.8 Q294.4,222.8 298.5,220.6 Q302.5,218.3 307.0,221.3 Q311.5,224.3 310.8,227.4Z" fill="url(#gPink)" stroke="#c42c2c" stroke-width="0.8"/><path d="M329.1,233.9 Q329.2,236.2 325.7,238.4 Q322.2,240.7 317.3,239.0 Q312.3,237.3 310.1,233.4 Q307.9,229.4 310.8,226.7 Q313.7,224.0 317.7,223.2 Q321.8,222.4 325.4,227.0 Q329.0,231.6 329.1,233.9Z" fill="url(#gPink)" stroke="#c42c2c" stroke-width="0.8"/><path d="M345.6,227.7 Q347.3,230.7 345.6,234.3 Q343.9,237.9 339.3,237.8 Q334.6,237.7 330.5,235.0 Q326.3,232.3 326.2,229.0 Q326.0,225.7 330.7,223.3 Q335.4,220.9 339.6,222.7 Q343.9,224.6 345.6,227.7Z" fill="url(#gPink)" stroke="#c42c2c" stroke-width="0.8"/><path d="M360.8,228.7 Q359.9,233.6 357.2,234.4 Q354.4,235.2 350.1,234.5 Q345.7,233.9 344.2,229.0 Q342.7,224.1 344.6,222.3 Q346.5,220.5 351.1,219.4 Q355.7,218.2 358.7,221.0 Q361.6,223.8 360.8,228.7Z" fill="url(#gPink)" stroke="#c42c2c" stroke-width="0.8"/><path d="M373.5,221.4 Q376.3,224.0 376.1,227.0 Q376.0,230.0 372.9,232.3 Q369.8,234.7 365.8,233.9 Q361.7,233.2 360.5,230.0 Q359.4,226.7 361.4,223.3 Q363.4,219.9 367.1,219.3 Q370.8,218.8 373.5,221.4Z" fill="url(#gPink)" stroke="#c42c2c" stroke-width="0.8"/><path d="M392.4,223.2 Q395.2,224.9 394.6,228.6 Q394.0,232.3 389.4,234.9 Q384.7,237.5 381.0,236.8 Q377.2,236.0 375.3,231.7 Q373.5,227.5 376.5,225.2 Q379.5,222.9 384.6,222.2 Q389.7,221.5 392.4,223.2Z" fill="url(#gPink)" stroke="#c42c2c" stroke-width="0.8"/><path d="M409.8,219.7 Q412.8,222.0 411.8,226.2 Q410.7,230.5 406.5,234.0 Q402.2,237.6 398.5,236.2 Q394.8,234.7 392.5,232.2 Q390.3,229.6 392.7,226.4 Q395.1,223.3 400.9,220.3 Q406.8,217.4 409.8,219.7Z" fill="url(#gPink)" stroke="#c42c2c" stroke-width="0.8"/><path d="M272.9,238.9 Q275.2,243.0 272.3,245.4 Q269.5,247.8 266.4,248.3 Q263.2,248.7 258.8,247.7 Q254.4,246.7 253.8,242.6 Q253.3,238.5 256.8,237.1 Q260.2,235.7 265.4,235.2 Q270.6,234.8 272.9,238.9Z" fill="url(#gPink)" stroke="#c42c2c" stroke-width="0.8"/><path d="M283.8,229.5 Q288.5,230.4 288.5,235.9 Q288.6,241.5 284.6,244.3 Q280.6,247.2 275.7,246.9 Q270.8,246.5 269.7,242.8 Q268.7,239.1 270.0,234.5 Q271.2,230.0 275.2,229.3 Q279.2,228.6 283.8,229.5Z" fill="url(#gPink)" stroke="#c42c2c" stroke-width="0.8"/><path d="M302.8,233.5 Q305.3,234.8 306.0,238.4 Q306.6,242.0 300.7,245.6 Q294.8,249.1 290.5,247.6 Q286.2,246.2 285.4,243.3 Q284.5,240.4 287.0,236.2 Q289.4,232.0 294.8,232.1 Q300.2,232.2 302.8,233.5Z" fill="url(#gPink)" stroke="#c42c2c" stroke-width="0.8"/><path d="M321.9,239.0 Q323.3,244.0 319.8,247.0 Q316.4,249.9 311.6,248.5 Q306.8,247.0 304.7,242.9 Q302.7,238.7 304.8,235.9 Q306.9,233.0 310.1,231.6 Q313.2,230.3 316.9,232.1 Q320.6,233.9 321.9,239.0Z" fill="url(#gPink)" stroke="#c42c2c" stroke-width="0.8"/><path d="M334.5,235.1 Q338.9,238.7 338.0,241.8 Q337.2,244.8 332.5,247.3 Q327.9,249.8 323.3,249.4 Q318.7,249.0 317.7,244.4 Q316.7,239.7 319.8,235.7 Q323.0,231.6 326.5,231.6 Q330.0,231.5 334.5,235.1Z" fill="url(#gPink)" stroke="#c42c2c" stroke-width="0.8"/><path d="M352.5,234.6 Q354.2,236.2 352.9,239.6 Q351.6,243.0 348.0,245.4 Q344.3,247.8 339.8,245.5 Q335.3,243.1 335.2,239.0 Q335.2,234.8 339.4,232.6 Q343.5,230.3 347.2,231.7 Q350.8,233.1 352.5,234.6Z" fill="url(#gPink)" stroke="#c42c2c" stroke-width="0.8"/><path d="M364.1,232.1 Q367.8,235.3 367.6,238.2 Q367.5,241.1 364.7,244.6 Q361.9,248.1 357.9,248.8 Q353.9,249.5 351.4,245.3 Q348.9,241.1 351.0,236.9 Q353.2,232.8 356.7,230.9 Q360.3,229.0 364.1,232.1Z" fill="url(#gPink)" stroke="#c42c2c" stroke-width="0.8"/><path d="M385.2,239.2 Q385.6,243.3 383.7,245.5 Q381.7,247.8 377.7,248.7 Q373.7,249.7 369.6,246.3 Q365.5,242.9 368.1,239.5 Q370.6,236.1 374.8,234.2 Q379.1,232.4 381.9,233.8 Q384.8,235.2 385.2,239.2Z" fill="url(#gPink)" stroke="#c42c2c" stroke-width="0.8"/><path d="M400.2,239.2 Q400.7,243.4 396.1,245.8 Q391.6,248.1 387.8,246.7 Q384.1,245.2 382.8,240.2 Q381.4,235.3 382.8,233.0 Q384.2,230.7 388.9,230.9 Q393.6,231.1 396.7,233.0 Q399.8,234.9 400.2,239.2Z" fill="url(#gPink)" stroke="#c42c2c" stroke-width="0.8"/><path d="M276.9,246.9 Q277.2,250.1 274.9,253.0 Q272.6,255.9 268.1,255.8 Q263.6,255.6 260.4,252.0 Q257.2,248.5 259.5,245.8 Q261.8,243.0 264.0,240.9 Q266.2,238.9 271.5,241.3 Q276.7,243.8 276.9,246.9Z" fill="url(#gPink)" stroke="#c42c2c" stroke-width="0.8"/><path d="M294.6,247.8 Q295.8,251.7 293.1,254.6 Q290.3,257.5 286.7,256.7 Q283.1,256.0 278.5,252.4 Q274.0,248.8 276.8,246.3 Q279.6,243.8 281.6,242.7 Q283.6,241.7 288.5,242.8 Q293.3,244.0 294.6,247.8Z" fill="url(#gPink)" stroke="#c42c2c" stroke-width="0.8"/><path d="M307.4,243.0 Q309.9,244.3 310.3,249.1 Q310.7,253.8 307.6,256.3 Q304.5,258.8 300.9,258.6 Q297.3,258.3 294.2,254.7 Q291.2,251.0 293.4,248.7 Q295.6,246.4 300.3,244.0 Q305.0,241.7 307.4,243.0Z" fill="url(#gPink)" stroke="#c42c2c" stroke-width="0.8"/><path d="M325.8,248.8 Q328.7,250.4 326.8,254.2 Q324.9,257.9 318.9,258.7 Q313.0,259.5 309.5,258.3 Q306.1,257.0 306.8,252.9 Q307.5,248.8 310.4,247.5 Q313.4,246.1 318.2,246.7 Q323.0,247.2 325.8,248.8Z" fill="url(#gPink)" stroke="#c42c2c" stroke-width="0.8"/><path d="M338.5,248.3 Q340.1,252.3 337.8,255.2 Q335.6,258.0 332.9,259.5 Q330.1,261.0 327.0,258.8 Q323.9,256.7 323.0,252.0 Q322.1,247.3 325.3,246.1 Q328.4,244.8 332.7,244.5 Q337.0,244.2 338.5,248.3Z" fill="url(#gPink)" stroke="#c42c2c" stroke-width="0.8"/><path d="M354.8,249.9 Q356.9,253.7 353.0,256.6 Q349.0,259.5 345.2,258.8 Q341.3,258.1 339.0,255.0 Q336.7,251.9 336.3,248.1 Q336.0,244.3 341.4,243.9 Q346.8,243.6 349.7,244.8 Q352.6,246.1 354.8,249.9Z" fill="url(#gPink)" stroke="#c42c2c" stroke-width="0.8"/><path d="M368.3,244.7 Q370.5,247.2 368.7,251.5 Q366.8,255.9 362.3,257.0 Q357.8,258.0 354.8,256.9 Q351.8,255.8 352.0,251.1 Q352.1,246.4 353.7,244.5 Q355.2,242.6 360.7,242.4 Q366.1,242.2 368.3,244.7Z" fill="url(#gPink)" stroke="#c42c2c" stroke-width="0.8"/><path d="M387.7,252.1 Q389.5,255.5 385.2,258.0 Q380.8,260.6 377.5,261.0 Q374.2,261.4 371.5,256.4 Q368.8,251.4 370.2,248.8 Q371.5,246.2 375.9,244.9 Q380.2,243.7 383.1,246.1 Q385.9,248.6 387.7,252.1Z" fill="url(#gPink)" stroke="#c42c2c" stroke-width="0.8"/><path d="M403.7,253.1 Q403.4,256.3 399.8,259.5 Q396.1,262.6 392.3,261.6 Q388.5,260.5 385.2,256.7 Q382.0,252.8 384.3,249.4 Q386.7,246.0 391.0,245.2 Q395.3,244.4 399.7,247.2 Q404.0,250.0 403.7,253.1Z" fill="url(#gPink)" stroke="#c42c2c" stroke-width="0.8"/><path d="M269.9,263.3 Q270.1,267.8 266.1,270.1 Q262.1,272.3 258.2,270.0 Q254.3,267.8 251.8,264.3 Q249.3,260.8 252.8,256.6 Q256.4,252.4 259.2,252.7 Q262.0,253.0 265.8,255.9 Q269.7,258.9 269.9,263.3Z" fill="url(#gPink)" stroke="#c42c2c" stroke-width="0.8"/><path d="M286.4,256.8 Q289.6,258.9 287.2,263.1 Q284.9,267.2 282.2,268.8 Q279.5,270.3 273.5,269.7 Q267.4,269.1 268.1,266.3 Q268.7,263.4 271.0,260.5 Q273.4,257.5 278.3,256.0 Q283.1,254.6 286.4,256.8Z" fill="url(#gPink)" stroke="#c42c2c" stroke-width="0.8"/><path d="M299.7,258.9 Q301.2,260.8 300.6,264.7 Q300.0,268.7 296.6,271.3 Q293.3,273.9 289.5,272.6 Q285.8,271.2 283.6,267.5 Q281.4,263.9 284.2,261.4 Q286.9,258.9 292.6,258.0 Q298.2,257.1 299.7,258.9Z" fill="url(#gPink)" stroke="#c42c2c" stroke-width="0.8"/><path d="M315.8,262.7 Q315.1,266.2 312.4,267.5 Q309.6,268.8 305.6,268.0 Q301.6,267.3 300.3,262.8 Q299.0,258.4 299.7,256.2 Q300.3,253.9 304.7,253.0 Q309.1,252.0 312.8,255.7 Q316.5,259.3 315.8,262.7Z" fill="url(#gPink)" stroke="#c42c2c" stroke-width="0.8"/><path d="M332.3,256.5 Q335.2,257.8 333.7,261.8 Q332.2,265.9 327.3,267.0 Q322.4,268.2 320.0,266.8 Q317.6,265.5 317.4,262.3 Q317.2,259.2 319.4,255.9 Q321.7,252.7 325.6,253.9 Q329.5,255.2 332.3,256.5Z" fill="url(#gPink)" stroke="#c42c2c" stroke-width="0.8"/><path d="M345.4,252.4 Q348.5,254.6 348.2,259.5 Q347.9,264.3 344.2,266.0 Q340.5,267.8 336.8,267.0 Q333.0,266.2 332.3,262.5 Q331.6,258.8 333.4,255.8 Q335.3,252.8 338.8,251.5 Q342.2,250.2 345.4,252.4Z" fill="url(#gPink)" stroke="#c42c2c" stroke-width="0.8"/><path d="M360.2,257.9 Q362.1,260.0 362.1,263.7 Q362.2,267.4 357.7,269.3 Q353.3,271.2 350.3,269.2 Q347.2,267.1 346.0,264.1 Q344.7,261.1 348.1,256.8 Q351.5,252.6 354.8,254.2 Q358.2,255.8 360.2,257.9Z" fill="url(#gPink)" stroke="#c42c2c" stroke-width="0.8"/><path d="M375.8,256.5 Q378.8,259.6 379.4,262.9 Q380.0,266.1 374.3,268.4 Q368.5,270.7 365.2,269.6 Q361.8,268.4 360.4,265.3 Q358.9,262.3 361.4,259.1 Q363.8,255.9 368.3,254.6 Q372.8,253.3 375.8,256.5Z" fill="url(#gPink)" stroke="#c42c2c" stroke-width="0.8"/><path d="M394.4,260.5 Q395.9,264.3 392.4,267.2 Q389.0,270.1 384.7,269.8 Q380.5,269.6 378.6,266.5 Q376.6,263.5 376.0,260.0 Q375.4,256.6 380.4,255.6 Q385.3,254.7 389.2,255.7 Q393.0,256.7 394.4,260.5Z" fill="url(#gPink)" stroke="#c42c2c" stroke-width="0.8"/><path d="M408.2,256.7 Q410.7,258.0 410.2,261.3 Q409.6,264.6 405.2,267.2 Q400.9,269.7 397.4,269.1 Q393.9,268.5 392.6,264.7 Q391.4,261.0 394.5,258.6 Q397.6,256.2 401.6,255.8 Q405.7,255.4 408.2,256.7Z" fill="url(#gPink)" stroke="#c42c2c" stroke-width="0.8"/><path d="M278.6,277.9 Q278.7,282.1 274.9,282.5 Q271.2,282.9 267.8,282.1 Q264.4,281.3 263.2,277.2 Q261.9,273.1 263.1,270.0 Q264.3,267.0 269.5,266.7 Q274.7,266.3 276.6,269.9 Q278.5,273.6 278.6,277.9Z" fill="url(#gPink)" stroke="#c42c2c" stroke-width="0.8"/><path d="M293.2,267.4 Q296.0,271.0 294.6,274.6 Q293.2,278.3 286.6,278.7 Q280.0,279.2 276.6,276.5 Q273.2,273.9 273.2,270.3 Q273.1,266.7 278.4,264.7 Q283.8,262.6 287.0,263.2 Q290.3,263.8 293.2,267.4Z" fill="url(#gPink)" stroke="#c42c2c" stroke-width="0.8"/><path d="M311.5,270.5 Q312.8,274.2 311.2,276.9 Q309.7,279.5 305.1,281.0 Q300.5,282.6 296.8,281.1 Q293.1,279.6 292.7,276.2 Q292.4,272.9 294.7,269.5 Q296.9,266.2 303.6,266.5 Q310.3,266.8 311.5,270.5Z" fill="url(#gPink)" stroke="#c42c2c" stroke-width="0.8"/><path d="M327.6,271.9 Q329.2,275.1 325.9,277.2 Q322.6,279.3 317.4,277.5 Q312.2,275.8 310.6,273.1 Q309.0,270.4 309.5,268.2 Q309.9,265.9 315.4,264.3 Q320.8,262.7 323.4,265.7 Q325.9,268.8 327.6,271.9Z" fill="url(#gPink)" stroke="#c42c2c" stroke-width="0.8"/><path d="M343.2,270.6 Q346.5,274.2 344.6,276.9 Q342.6,279.7 338.2,281.6 Q333.7,283.5 329.6,282.4 Q325.5,281.3 324.7,277.8 Q323.9,274.3 326.9,270.9 Q329.9,267.5 334.9,267.2 Q339.9,267.0 343.2,270.6Z" fill="url(#gPink)" stroke="#c42c2c" stroke-width="0.8"/><path d="M355.2,270.1 Q359.0,273.1 358.2,276.2 Q357.5,279.2 354.1,282.2 Q350.7,285.1 346.3,284.0 Q341.9,282.8 340.1,279.4 Q338.3,275.9 341.3,271.5 Q344.4,267.1 347.9,267.1 Q351.5,267.1 355.2,270.1Z" fill="url(#gPink)" stroke="#c42c2c" stroke-width="0.8"/><path d="M374.4,270.4 Q377.3,274.0 374.4,277.7 Q371.5,281.3 368.8,282.5 Q366.0,283.6 360.9,279.9 Q355.8,276.1 356.3,272.3 Q356.8,268.5 360.4,266.4 Q363.9,264.3 367.7,265.5 Q371.5,266.7 374.4,270.4Z" fill="url(#gPink)" stroke="#c42c2c" stroke-width="0.8"/><path d="M390.9,264.9 Q393.3,267.6 391.2,271.8 Q389.1,275.9 385.6,277.4 Q382.2,278.8 378.9,277.1 Q375.7,275.3 373.9,270.7 Q372.0,266.2 375.8,263.8 Q379.6,261.4 384.0,261.8 Q388.5,262.2 390.9,264.9Z" fill="url(#gPink)" stroke="#c42c2c" stroke-width="0.8"/><path d="M404.6,274.0 Q405.1,277.7 402.9,280.2 Q400.8,282.8 397.0,284.2 Q393.2,285.7 391.2,282.9 Q389.2,280.1 388.8,276.1 Q388.4,272.1 390.8,269.0 Q393.2,266.0 398.7,268.2 Q404.1,270.3 404.6,274.0Z" fill="url(#gPink)" stroke="#c42c2c" stroke-width="0.8"/><path d="M266.9,277.1 Q269.8,277.6 270.0,282.3 Q270.3,286.9 266.1,291.3 Q262.0,295.6 258.9,294.0 Q255.9,292.4 252.8,290.2 Q249.8,287.9 253.1,283.5 Q256.4,279.0 260.2,277.8 Q264.0,276.7 266.9,277.1Z" fill="url(#gPink)" stroke="#c42c2c" stroke-width="0.8"/><path d="M283.9,286.6 Q283.6,291.2 280.9,292.3 Q278.3,293.4 274.3,291.7 Q270.4,289.9 268.0,288.0 Q265.5,286.1 266.5,282.0 Q267.5,278.0 273.3,278.0 Q279.0,278.0 281.6,280.0 Q284.3,281.9 283.9,286.6Z" fill="url(#gPink)" stroke="#c42c2c" stroke-width="0.8"/><path d="M297.6,275.6 Q301.1,276.9 300.7,281.2 Q300.4,285.4 297.8,287.7 Q295.3,289.9 289.6,290.7 Q284.0,291.5 282.5,288.4 Q281.0,285.3 284.2,280.5 Q287.4,275.7 290.8,275.0 Q294.1,274.3 297.6,275.6Z" fill="url(#gPink)" stroke="#c42c2c" stroke-width="0.8"/><path d="M314.0,279.4 Q316.5,283.1 315.3,287.2 Q314.1,291.3 310.5,292.8 Q306.9,294.4 303.1,293.7 Q299.4,293.1 298.2,289.1 Q297.0,285.2 300.6,281.8 Q304.1,278.4 307.8,277.0 Q311.6,275.7 314.0,279.4Z" fill="url(#gPink)" stroke="#c42c2c" stroke-width="0.8"/><path d="M330.2,278.9 Q332.7,281.9 328.7,285.2 Q324.8,288.6 321.7,289.7 Q318.5,290.8 314.7,288.5 Q310.9,286.2 312.2,282.5 Q313.5,278.8 316.6,276.4 Q319.7,274.0 323.7,274.9 Q327.8,275.8 330.2,278.9Z" fill="url(#gPink)" stroke="#c42c2c" stroke-width="0.8"/><path d="M347.0,284.1 Q349.3,287.4 347.4,290.7 Q345.5,294.0 340.9,294.7 Q336.4,295.4 332.2,293.2 Q328.0,290.9 327.7,287.1 Q327.4,283.2 331.8,280.0 Q336.3,276.7 340.5,278.7 Q344.7,280.7 347.0,284.1Z" fill="url(#gPink)" stroke="#c42c2c" stroke-width="0.8"/><path d="M361.9,279.8 Q362.7,283.5 361.3,286.9 Q360.0,290.2 355.1,290.6 Q350.2,291.1 348.1,288.4 Q346.0,285.7 345.1,282.7 Q344.1,279.7 348.2,277.3 Q352.2,275.0 356.6,275.5 Q361.0,276.0 361.9,279.8Z" fill="url(#gPink)" stroke="#c42c2c" stroke-width="0.8"/><path d="M380.3,280.1 Q382.3,283.3 379.7,285.9 Q377.1,288.5 373.5,289.1 Q369.9,289.8 366.2,288.0 Q362.6,286.3 363.4,282.0 Q364.1,277.8 367.5,276.0 Q370.8,274.3 374.5,275.7 Q378.3,277.0 380.3,280.1Z" fill="url(#gPink)" stroke="#c42c2c" stroke-width="0.8"/><path d="M395.0,281.9 Q396.2,286.2 394.0,287.7 Q391.7,289.1 387.2,289.1 Q382.7,289.0 380.1,285.7 Q377.6,282.4 377.3,279.6 Q377.0,276.7 382.1,276.3 Q387.1,275.9 390.5,276.7 Q393.8,277.6 395.0,281.9Z" fill="url(#gPink)" stroke="#c42c2c" stroke-width="0.8"/><path d="M277.9,292.2 Q278.4,295.6 275.6,298.0 Q272.9,300.4 269.6,299.2 Q266.4,298.1 263.1,293.9 Q259.8,289.7 262.4,287.7 Q264.9,285.7 267.8,284.9 Q270.6,284.1 274.0,286.5 Q277.4,288.8 277.9,292.2Z" fill="url(#gPink)" stroke="#c42c2c" stroke-width="0.8"/><path d="M293.3,289.5 Q296.2,293.5 294.9,295.6 Q293.7,297.7 288.4,299.4 Q283.2,301.2 279.1,300.9 Q275.0,300.5 274.5,296.0 Q274.0,291.5 278.1,288.9 Q282.1,286.4 286.3,285.9 Q290.4,285.4 293.3,289.5Z" fill="url(#gPink)" stroke="#c42c2c" stroke-width="0.8"/><path d="M306.2,286.7 Q309.2,289.2 308.6,293.1 Q308.1,296.9 305.4,298.8 Q302.6,300.7 298.3,300.0 Q294.0,299.2 291.5,295.8 Q289.0,292.4 292.3,288.1 Q295.7,283.9 299.4,284.0 Q303.2,284.1 306.2,286.7Z" fill="url(#gPink)" stroke="#c42c2c" stroke-width="0.8"/><path d="M323.1,292.3 Q323.9,295.3 323.7,298.6 Q323.4,301.8 319.6,304.7 Q315.9,307.6 312.2,304.5 Q308.5,301.5 308.3,298.6 Q308.0,295.7 311.2,292.4 Q314.3,289.1 318.3,289.2 Q322.3,289.3 323.1,292.3Z" fill="url(#gPink)" stroke="#c42c2c" stroke-width="0.8"/><path d="M340.5,291.2 Q343.4,293.5 342.0,297.1 Q340.6,300.8 336.3,302.2 Q332.0,303.7 329.2,302.8 Q326.4,302.0 325.7,298.8 Q325.0,295.7 326.7,292.7 Q328.5,289.7 333.0,289.2 Q337.6,288.8 340.5,291.2Z" fill="url(#gPink)" stroke="#c42c2c" stroke-width="0.8"/><path d="M356.3,289.6 Q359.7,292.0 359.7,295.9 Q359.6,299.8 356.6,301.2 Q353.5,302.7 348.9,303.3 Q344.3,303.9 342.8,300.2 Q341.3,296.4 344.1,292.6 Q346.9,288.8 349.9,288.0 Q352.9,287.1 356.3,289.6Z" fill="url(#gPink)" stroke="#c42c2c" stroke-width="0.8"/><path d="M370.4,285.2 Q374.2,287.0 374.5,291.1 Q374.7,295.2 371.7,297.4 Q368.6,299.7 364.0,299.1 Q359.4,298.5 357.5,296.2 Q355.7,293.8 358.0,289.6 Q360.4,285.3 363.4,284.4 Q366.5,283.5 370.4,285.2Z" fill="url(#gPink)" stroke="#c42c2c" stroke-width="0.8"/><path d="M386.2,292.6 Q388.4,294.9 387.6,298.8 Q386.8,302.7 383.0,303.8 Q379.3,304.8 375.5,303.7 Q371.6,302.5 370.5,299.3 Q369.5,296.1 372.7,293.6 Q376.0,291.2 380.0,290.7 Q384.0,290.2 386.2,292.6Z" fill="url(#gPink)" stroke="#c42c2c" stroke-width="0.8"/><path d="M404.2,296.8 Q406.4,300.6 404.2,302.7 Q401.9,304.8 397.6,304.6 Q393.2,304.4 390.8,301.9 Q388.4,299.3 388.4,295.6 Q388.4,291.8 392.3,290.7 Q396.1,289.6 399.1,291.3 Q402.0,293.0 404.2,296.8Z" fill="url(#gPink)" stroke="#c42c2c" stroke-width="0.8"/></g><path d="M262,297 L382,297 L382,312 L351,312 L351,336 L381,336 L381,447 L168,470 L168,366 L262,360 Z" fill="url(#gFireBox)"/><path d="M262,297 L382,297 L382,312 L262,314 Z" fill="#a81808"/><rect x="168" y="366" width="10" height="70" fill="#a80c0c"/><rect x="212" y="366" width="10" height="70" fill="#a80c0c"/><rect x="178" y="366" width="0.8" height="70" fill="#7a0606"/><rect x="212" y="366" width="0.8" height="70" fill="#7a0606"/><rect x="222" y="366" width="0.8" height="70" fill="#7a0606"/><clipPath id="fbclip"><path d="M262,297 L382,297 L382,312 L351,312 L351,336 L381,336 L381,447 L168,470 L168,366 L262,360 Z"/></clipPath><g clip-path="url(#fbclip)"><path d="M200,455 C205,430 214,410 226,398 C222,385 228,374 240,368 C250,358 262,350 274,344 C286,334 292,322 300,306 C310,318 318,310 326,300 C334,316 344,314 350,332 C358,346 362,360 360,382 C360,400 366,412 372,425 C376,435 376,442 374,450 Z" fill="#e4520c"/><path d="M222,450 C226,428 236,410 248,398 C256,384 270,372 286,362 C298,352 312,346 324,338 C336,350 344,358 348,374 C352,392 352,414 358,448 Z" fill="#f3760e"/><path d="M226,392 C232,378 246,368 262,364 C276,360 290,362 300,368 C285,372 270,378 258,388 C248,396 238,404 230,410 Z" fill="#f8901a" opacity="0.9"/><path d="M250,430 C256,410 268,396 284,386 C296,376 310,368 322,364 C332,376 338,392 338,410 C338,422 336,430 334,436 Z" fill="#fb9c1c" opacity="0.9"/><path d="M168,430 C190,420 230,414 260,416 C300,410 340,412 372,418 L382,447 L168,471 Z" fill="#9a4c44" opacity="0.95"/><ellipse cx="212" cy="436" rx="42" ry="9" fill="#b8726a" opacity="0.9" transform="rotate(-8 212 436)"/><rect x="192.2" y="436.6" width="3.5" height="0.9" fill="#c87a6a" opacity="0.9" transform="rotate(-8 212 436)"/><rect x="221.5" y="430.5" width="2.1" height="0.9" fill="#c87a6a" opacity="0.9" transform="rotate(-8 212 436)"/><rect x="193.8" y="432.7" width="6.0" height="0.9" fill="#c87a6a" opacity="0.9" transform="rotate(-8 212 436)"/><rect x="215.1" y="436.6" width="3.6" height="0.9" fill="#5a2018" opacity="0.9" transform="rotate(-8 212 436)"/><rect x="191.7" y="431.6" width="5.7" height="0.9" fill="#c87a6a" opacity="0.9" transform="rotate(-8 212 436)"/><rect x="230.2" y="438.2" width="2.3" height="0.9" fill="#ecc0b8" opacity="0.9" transform="rotate(-8 212 436)"/><rect x="197.0" y="430.1" width="5.5" height="0.9" fill="#c87a6a" opacity="0.9" transform="rotate(-8 212 436)"/><rect x="219.2" y="441.3" width="3.6" height="0.9" fill="#c87a6a" opacity="0.9" transform="rotate(-8 212 436)"/><rect x="204.1" y="439.8" width="3.8" height="0.9" fill="#5a2018" opacity="0.9" transform="rotate(-8 212 436)"/><rect x="240.6" y="430.9" width="2.5" height="0.9" fill="#5a2018" opacity="0.9" transform="rotate(-8 212 436)"/><rect x="193.7" y="438.2" width="5.1" height="0.9" fill="#d89080" opacity="0.9" transform="rotate(-8 212 436)"/><rect x="206.0" y="440.2" width="4.3" height="0.9" fill="#c87a6a" opacity="0.9" transform="rotate(-8 212 436)"/><rect x="218.4" y="441.1" width="4.7" height="0.9" fill="#ecc0b8" opacity="0.9" transform="rotate(-8 212 436)"/><rect x="238.9" y="442.2" width="4.7" height="0.9" fill="#5a2018" opacity="0.9" transform="rotate(-8 212 436)"/><rect x="227.0" y="433.8" width="4.2" height="0.9" fill="#ecc0b8" opacity="0.9" transform="rotate(-8 212 436)"/><rect x="228.2" y="432.4" width="5.3" height="0.9" fill="#d89080" opacity="0.9" transform="rotate(-8 212 436)"/><rect x="195.7" y="430.5" width="5.4" height="0.9" fill="#c87a6a" opacity="0.9" transform="rotate(-8 212 436)"/><rect x="180.9" y="439.8" width="3.6" height="0.9" fill="#5a2018" opacity="0.9" transform="rotate(-8 212 436)"/><rect x="175.7" y="435.1" width="3.7" height="0.9" fill="#ecc0b8" opacity="0.9" transform="rotate(-8 212 436)"/><rect x="177.5" y="437.4" width="2.2" height="0.9" fill="#d89080" opacity="0.9" transform="rotate(-8 212 436)"/><rect x="215.8" y="441.3" width="3.1" height="0.9" fill="#5a2018" opacity="0.9" transform="rotate(-8 212 436)"/><rect x="249.7" y="433.6" width="2.3" height="0.9" fill="#ecc0b8" opacity="0.9" transform="rotate(-8 212 436)"/><rect x="245.9" y="441.9" width="3.2" height="0.9" fill="#d89080" opacity="0.9" transform="rotate(-8 212 436)"/><rect x="186.0" y="430.2" width="5.5" height="0.9" fill="#d89080" opacity="0.9" transform="rotate(-8 212 436)"/><rect x="201.4" y="431.4" width="5.4" height="0.9" fill="#c87a6a" opacity="0.9" transform="rotate(-8 212 436)"/><rect x="209.0" y="436.3" width="4.6" height="0.9" fill="#ecc0b8" opacity="0.9" transform="rotate(-8 212 436)"/><rect x="221.1" y="441.6" width="4.0" height="0.9" fill="#c87a6a" opacity="0.9" transform="rotate(-8 212 436)"/><rect x="222.2" y="438.7" width="5.7" height="0.9" fill="#c87a6a" opacity="0.9" transform="rotate(-8 212 436)"/><rect x="248.1" y="436.3" width="4.2" height="0.9" fill="#ecc0b8" opacity="0.9" transform="rotate(-8 212 436)"/><rect x="233.8" y="442.1" width="3.3" height="0.9" fill="#c87a6a" opacity="0.9" transform="rotate(-8 212 436)"/><rect x="220.8" y="437.7" width="2.2" height="0.9" fill="#d89080" opacity="0.9" transform="rotate(-8 212 436)"/><rect x="209.4" y="438.3" width="3.4" height="0.9" fill="#d89080" opacity="0.9" transform="rotate(-8 212 436)"/><rect x="230.0" y="430.0" width="2.2" height="0.9" fill="#ecc0b8" opacity="0.9" transform="rotate(-8 212 436)"/><rect x="247.0" y="432.9" width="3.8" height="0.9" fill="#d89080" opacity="0.9" transform="rotate(-8 212 436)"/><rect x="187.6" y="432.0" width="5.0" height="0.9" fill="#d89080" opacity="0.9" transform="rotate(-8 212 436)"/><rect x="196.9" y="434.5" width="5.1" height="0.9" fill="#ecc0b8" opacity="0.9" transform="rotate(-8 212 436)"/><rect x="247.6" y="438.3" width="2.5" height="0.9" fill="#5a2018" opacity="0.9" transform="rotate(-8 212 436)"/><rect x="223.6" y="433.1" width="3.3" height="0.9" fill="#c87a6a" opacity="0.9" transform="rotate(-8 212 436)"/><rect x="223.3" y="430.9" width="4.4" height="0.9" fill="#d89080" opacity="0.9" transform="rotate(-8 212 436)"/><rect x="225.2" y="432.5" width="5.2" height="0.9" fill="#5a2018" opacity="0.9" transform="rotate(-8 212 436)"/><ellipse cx="262" cy="428" rx="40" ry="9" fill="#b8726a" opacity="0.9" transform="rotate(-6 262 428)"/><rect x="231.8" y="431.1" width="2.9" height="0.9" fill="#c87a6a" opacity="0.9" transform="rotate(-6 262 428)"/><rect x="245.5" y="431.6" width="2.1" height="0.9" fill="#5a2018" opacity="0.9" transform="rotate(-6 262 428)"/><rect x="248.7" y="432.2" width="4.3" height="0.9" fill="#d89080" opacity="0.9" transform="rotate(-6 262 428)"/><rect x="250.5" y="432.1" width="2.3" height="0.9" fill="#d89080" opacity="0.9" transform="rotate(-6 262 428)"/><rect x="268.4" y="427.0" width="4.1" height="0.9" fill="#d89080" opacity="0.9" transform="rotate(-6 262 428)"/><rect x="259.5" y="429.7" width="3.2" height="0.9" fill="#c87a6a" opacity="0.9" transform="rotate(-6 262 428)"/><rect x="228.6" y="426.9" width="2.8" height="0.9" fill="#c87a6a" opacity="0.9" transform="rotate(-6 262 428)"/><rect x="293.9" y="432.8" width="5.9" height="0.9" fill="#c87a6a" opacity="0.9" transform="rotate(-6 262 428)"/><rect x="266.2" y="434.1" width="4.9" height="0.9" fill="#ecc0b8" opacity="0.9" transform="rotate(-6 262 428)"/><rect x="279.7" y="432.2" width="4.7" height="0.9" fill="#d89080" opacity="0.9" transform="rotate(-6 262 428)"/><rect x="265.2" y="432.9" width="5.4" height="0.9" fill="#d89080" opacity="0.9" transform="rotate(-6 262 428)"/><rect x="234.6" y="424.8" width="2.1" height="0.9" fill="#5a2018" opacity="0.9" transform="rotate(-6 262 428)"/><rect x="290.6" y="433.0" width="4.3" height="0.9" fill="#ecc0b8" opacity="0.9" transform="rotate(-6 262 428)"/><rect x="260.6" y="423.2" width="4.0" height="0.9" fill="#5a2018" opacity="0.9" transform="rotate(-6 262 428)"/><rect x="273.7" y="428.3" width="3.7" height="0.9" fill="#ecc0b8" opacity="0.9" transform="rotate(-6 262 428)"/><rect x="250.6" y="424.9" width="5.4" height="0.9" fill="#c87a6a" opacity="0.9" transform="rotate(-6 262 428)"/><rect x="284.4" y="422.5" width="2.9" height="0.9" fill="#ecc0b8" opacity="0.9" transform="rotate(-6 262 428)"/><rect x="264.5" y="432.0" width="2.7" height="0.9" fill="#d89080" opacity="0.9" transform="rotate(-6 262 428)"/><rect x="292.4" y="431.9" width="5.3" height="0.9" fill="#ecc0b8" opacity="0.9" transform="rotate(-6 262 428)"/><rect x="261.1" y="428.9" width="3.6" height="0.9" fill="#d89080" opacity="0.9" transform="rotate(-6 262 428)"/><rect x="243.9" y="429.5" width="4.1" height="0.9" fill="#ecc0b8" opacity="0.9" transform="rotate(-6 262 428)"/><rect x="260.0" y="431.5" width="2.0" height="0.9" fill="#ecc0b8" opacity="0.9" transform="rotate(-6 262 428)"/><rect x="281.8" y="422.3" width="2.2" height="0.9" fill="#c87a6a" opacity="0.9" transform="rotate(-6 262 428)"/><rect x="296.2" y="432.5" width="2.3" height="0.9" fill="#c87a6a" opacity="0.9" transform="rotate(-6 262 428)"/><rect x="248.7" y="425.7" width="3.4" height="0.9" fill="#c87a6a" opacity="0.9" transform="rotate(-6 262 428)"/><rect x="268.2" y="426.2" width="2.8" height="0.9" fill="#d89080" opacity="0.9" transform="rotate(-6 262 428)"/><rect x="256.9" y="423.3" width="2.0" height="0.9" fill="#c87a6a" opacity="0.9" transform="rotate(-6 262 428)"/><rect x="283.3" y="428.8" width="2.2" height="0.9" fill="#c87a6a" opacity="0.9" transform="rotate(-6 262 428)"/><rect x="269.5" y="431.6" width="3.5" height="0.9" fill="#ecc0b8" opacity="0.9" transform="rotate(-6 262 428)"/><rect x="270.9" y="427.1" width="3.5" height="0.9" fill="#c87a6a" opacity="0.9" transform="rotate(-6 262 428)"/><rect x="280.7" y="425.7" width="5.8" height="0.9" fill="#c87a6a" opacity="0.9" transform="rotate(-6 262 428)"/><rect x="259.2" y="424.8" width="4.1" height="0.9" fill="#ecc0b8" opacity="0.9" transform="rotate(-6 262 428)"/><rect x="283.8" y="424.5" width="2.5" height="0.9" fill="#ecc0b8" opacity="0.9" transform="rotate(-6 262 428)"/><rect x="293.4" y="426.4" width="5.6" height="0.9" fill="#d89080" opacity="0.9" transform="rotate(-6 262 428)"/><rect x="234.7" y="430.4" width="5.8" height="0.9" fill="#c87a6a" opacity="0.9" transform="rotate(-6 262 428)"/><rect x="274.1" y="430.9" width="4.3" height="0.9" fill="#ecc0b8" opacity="0.9" transform="rotate(-6 262 428)"/><rect x="284.4" y="430.7" width="3.9" height="0.9" fill="#5a2018" opacity="0.9" transform="rotate(-6 262 428)"/><rect x="281.7" y="422.3" width="2.4" height="0.9" fill="#ecc0b8" opacity="0.9" transform="rotate(-6 262 428)"/><rect x="273.5" y="426.4" width="5.3" height="0.9" fill="#d89080" opacity="0.9" transform="rotate(-6 262 428)"/><rect x="286.6" y="423.2" width="5.4" height="0.9" fill="#c87a6a" opacity="0.9" transform="rotate(-6 262 428)"/><ellipse cx="310" cy="424" rx="36" ry="8" fill="#b8726a" opacity="0.9" transform="rotate(-4 310 424)"/><rect x="331.8" y="429.1" width="4.3" height="0.9" fill="#ecc0b8" opacity="0.9" transform="rotate(-4 310 424)"/><rect x="280.0" y="427.0" width="4.0" height="0.9" fill="#5a2018" opacity="0.9" transform="rotate(-4 310 424)"/><rect x="284.5" y="426.8" width="5.7" height="0.9" fill="#ecc0b8" opacity="0.9" transform="rotate(-4 310 424)"/><rect x="313.2" y="428.1" width="2.7" height="0.9" fill="#ecc0b8" opacity="0.9" transform="rotate(-4 310 424)"/><rect x="293.3" y="420.4" width="3.0" height="0.9" fill="#c87a6a" opacity="0.9" transform="rotate(-4 310 424)"/><rect x="294.0" y="425.1" width="5.8" height="0.9" fill="#c87a6a" opacity="0.9" transform="rotate(-4 310 424)"/><rect x="340.2" y="422.6" width="2.9" height="0.9" fill="#c87a6a" opacity="0.9" transform="rotate(-4 310 424)"/><rect x="332.3" y="429.2" width="3.7" height="0.9" fill="#c87a6a" opacity="0.9" transform="rotate(-4 310 424)"/><rect x="287.7" y="422.9" width="5.6" height="0.9" fill="#5a2018" opacity="0.9" transform="rotate(-4 310 424)"/><rect x="283.8" y="426.8" width="5.7" height="0.9" fill="#c87a6a" opacity="0.9" transform="rotate(-4 310 424)"/><rect x="315.6" y="428.0" width="2.5" height="0.9" fill="#5a2018" opacity="0.9" transform="rotate(-4 310 424)"/><rect x="287.1" y="424.2" width="5.7" height="0.9" fill="#d89080" opacity="0.9" transform="rotate(-4 310 424)"/><rect x="321.1" y="428.0" width="4.4" height="0.9" fill="#d89080" opacity="0.9" transform="rotate(-4 310 424)"/><rect x="335.2" y="421.8" width="3.1" height="0.9" fill="#c87a6a" opacity="0.9" transform="rotate(-4 310 424)"/><rect x="290.6" y="424.8" width="3.0" height="0.9" fill="#c87a6a" opacity="0.9" transform="rotate(-4 310 424)"/><rect x="327.8" y="420.0" width="6.0" height="0.9" fill="#c87a6a" opacity="0.9" transform="rotate(-4 310 424)"/><rect x="323.1" y="420.7" width="4.3" height="0.9" fill="#ecc0b8" opacity="0.9" transform="rotate(-4 310 424)"/><rect x="308.8" y="426.5" width="5.4" height="0.9" fill="#c87a6a" opacity="0.9" transform="rotate(-4 310 424)"/><rect x="328.3" y="428.3" width="2.2" height="0.9" fill="#5a2018" opacity="0.9" transform="rotate(-4 310 424)"/><rect x="335.3" y="425.7" width="5.1" height="0.9" fill="#ecc0b8" opacity="0.9" transform="rotate(-4 310 424)"/><rect x="339.7" y="428.0" width="3.0" height="0.9" fill="#5a2018" opacity="0.9" transform="rotate(-4 310 424)"/><rect x="327.9" y="419.9" width="4.5" height="0.9" fill="#ecc0b8" opacity="0.9" transform="rotate(-4 310 424)"/><rect x="335.9" y="421.3" width="5.5" height="0.9" fill="#d89080" opacity="0.9" transform="rotate(-4 310 424)"/><rect x="289.5" y="419.4" width="5.2" height="0.9" fill="#ecc0b8" opacity="0.9" transform="rotate(-4 310 424)"/><rect x="283.6" y="427.7" width="3.2" height="0.9" fill="#d89080" opacity="0.9" transform="rotate(-4 310 424)"/><rect x="306.9" y="426.6" width="3.3" height="0.9" fill="#ecc0b8" opacity="0.9" transform="rotate(-4 310 424)"/><rect x="299.3" y="423.3" width="3.9" height="0.9" fill="#5a2018" opacity="0.9" transform="rotate(-4 310 424)"/><rect x="319.4" y="426.7" width="4.0" height="0.9" fill="#5a2018" opacity="0.9" transform="rotate(-4 310 424)"/><rect x="312.9" y="419.7" width="3.1" height="0.9" fill="#c87a6a" opacity="0.9" transform="rotate(-4 310 424)"/><rect x="284.9" y="428.3" width="5.6" height="0.9" fill="#ecc0b8" opacity="0.9" transform="rotate(-4 310 424)"/><rect x="311.8" y="426.2" width="4.7" height="0.9" fill="#d89080" opacity="0.9" transform="rotate(-4 310 424)"/><rect x="326.7" y="421.7" width="4.7" height="0.9" fill="#d89080" opacity="0.9" transform="rotate(-4 310 424)"/><rect x="284.5" y="429.0" width="3.4" height="0.9" fill="#ecc0b8" opacity="0.9" transform="rotate(-4 310 424)"/><rect x="320.8" y="424.1" width="2.2" height="0.9" fill="#d89080" opacity="0.9" transform="rotate(-4 310 424)"/><rect x="321.6" y="424.7" width="2.7" height="0.9" fill="#5a2018" opacity="0.9" transform="rotate(-4 310 424)"/><rect x="289.2" y="428.4" width="4.6" height="0.9" fill="#ecc0b8" opacity="0.9" transform="rotate(-4 310 424)"/><rect x="284.6" y="424.7" width="5.7" height="0.9" fill="#c87a6a" opacity="0.9" transform="rotate(-4 310 424)"/><rect x="313.6" y="425.7" width="3.8" height="0.9" fill="#d89080" opacity="0.9" transform="rotate(-4 310 424)"/><rect x="328.3" y="426.3" width="2.4" height="0.9" fill="#5a2018" opacity="0.9" transform="rotate(-4 310 424)"/><rect x="326.5" y="424.5" width="5.0" height="0.9" fill="#d89080" opacity="0.9" transform="rotate(-4 310 424)"/><ellipse cx="348" cy="424" rx="24" ry="8" fill="#b8726a" opacity="0.9" transform="rotate(-2 348 424)"/><rect x="330.7" y="421.4" width="2.2" height="0.9" fill="#5a2018" opacity="0.9" transform="rotate(-2 348 424)"/><rect x="328.2" y="424.1" width="3.0" height="0.9" fill="#d89080" opacity="0.9" transform="rotate(-2 348 424)"/><rect x="364.2" y="429.0" width="3.8" height="0.9" fill="#ecc0b8" opacity="0.9" transform="rotate(-2 348 424)"/><rect x="341.6" y="427.9" width="2.4" height="0.9" fill="#d89080" opacity="0.9" transform="rotate(-2 348 424)"/><rect x="351.9" y="426.0" width="4.3" height="0.9" fill="#ecc0b8" opacity="0.9" transform="rotate(-2 348 424)"/><rect x="334.4" y="420.5" width="3.7" height="0.9" fill="#c87a6a" opacity="0.9" transform="rotate(-2 348 424)"/><rect x="361.6" y="426.8" width="4.4" height="0.9" fill="#5a2018" opacity="0.9" transform="rotate(-2 348 424)"/><rect x="363.5" y="427.3" width="4.2" height="0.9" fill="#5a2018" opacity="0.9" transform="rotate(-2 348 424)"/><rect x="351.0" y="420.7" width="3.0" height="0.9" fill="#d89080" opacity="0.9" transform="rotate(-2 348 424)"/><rect x="327.7" y="427.4" width="5.6" height="0.9" fill="#c87a6a" opacity="0.9" transform="rotate(-2 348 424)"/><rect x="340.0" y="428.5" width="3.2" height="0.9" fill="#c87a6a" opacity="0.9" transform="rotate(-2 348 424)"/><rect x="368.6" y="426.1" width="3.2" height="0.9" fill="#c87a6a" opacity="0.9" transform="rotate(-2 348 424)"/><rect x="327.7" y="420.5" width="4.5" height="0.9" fill="#ecc0b8" opacity="0.9" transform="rotate(-2 348 424)"/><rect x="359.7" y="425.8" width="4.0" height="0.9" fill="#c87a6a" opacity="0.9" transform="rotate(-2 348 424)"/><rect x="335.0" y="427.2" width="2.8" height="0.9" fill="#c87a6a" opacity="0.9" transform="rotate(-2 348 424)"/><rect x="331.2" y="421.6" width="4.6" height="0.9" fill="#5a2018" opacity="0.9" transform="rotate(-2 348 424)"/><rect x="332.3" y="427.3" width="4.5" height="0.9" fill="#ecc0b8" opacity="0.9" transform="rotate(-2 348 424)"/><rect x="327.5" y="425.3" width="4.0" height="0.9" fill="#c87a6a" opacity="0.9" transform="rotate(-2 348 424)"/><rect x="349.7" y="428.8" width="3.3" height="0.9" fill="#d89080" opacity="0.9" transform="rotate(-2 348 424)"/><rect x="356.4" y="419.9" width="5.4" height="0.9" fill="#ecc0b8" opacity="0.9" transform="rotate(-2 348 424)"/><rect x="357.3" y="426.7" width="3.4" height="0.9" fill="#5a2018" opacity="0.9" transform="rotate(-2 348 424)"/><rect x="366.7" y="428.0" width="3.7" height="0.9" fill="#5a2018" opacity="0.9" transform="rotate(-2 348 424)"/><rect x="347.4" y="419.6" width="2.2" height="0.9" fill="#ecc0b8" opacity="0.9" transform="rotate(-2 348 424)"/><rect x="362.9" y="426.3" width="3.6" height="0.9" fill="#c87a6a" opacity="0.9" transform="rotate(-2 348 424)"/><rect x="356.6" y="424.4" width="3.7" height="0.9" fill="#c87a6a" opacity="0.9" transform="rotate(-2 348 424)"/><rect x="339.6" y="423.6" width="5.0" height="0.9" fill="#c87a6a" opacity="0.9" transform="rotate(-2 348 424)"/><rect x="345.3" y="423.5" width="2.1" height="0.9" fill="#d89080" opacity="0.9" transform="rotate(-2 348 424)"/><rect x="342.3" y="422.6" width="4.1" height="0.9" fill="#c87a6a" opacity="0.9" transform="rotate(-2 348 424)"/><rect x="336.1" y="418.4" width="2.8" height="0.9" fill="#d89080" opacity="0.9" transform="rotate(-2 348 424)"/><rect x="332.6" y="423.6" width="2.8" height="0.9" fill="#5a2018" opacity="0.9" transform="rotate(-2 348 424)"/><rect x="327.4" y="424.9" width="4.0" height="0.9" fill="#ecc0b8" opacity="0.9" transform="rotate(-2 348 424)"/><rect x="332.4" y="425.2" width="3.8" height="0.9" fill="#5a2018" opacity="0.9" transform="rotate(-2 348 424)"/><rect x="329.0" y="418.7" width="3.8" height="0.9" fill="#c87a6a" opacity="0.9" transform="rotate(-2 348 424)"/><rect x="327.8" y="426.4" width="3.0" height="0.9" fill="#ecc0b8" opacity="0.9" transform="rotate(-2 348 424)"/><rect x="343.5" y="418.7" width="5.9" height="0.9" fill="#5a2018" opacity="0.9" transform="rotate(-2 348 424)"/><rect x="336.8" y="422.8" width="2.8" height="0.9" fill="#d89080" opacity="0.9" transform="rotate(-2 348 424)"/><rect x="353.3" y="422.3" width="2.5" height="0.9" fill="#ecc0b8" opacity="0.9" transform="rotate(-2 348 424)"/><rect x="361.3" y="421.7" width="5.9" height="0.9" fill="#c87a6a" opacity="0.9" transform="rotate(-2 348 424)"/><rect x="360.5" y="429.2" width="4.0" height="0.9" fill="#d89080" opacity="0.9" transform="rotate(-2 348 424)"/><rect x="327.7" y="422.2" width="6.0" height="0.9" fill="#d89080" opacity="0.9" transform="rotate(-2 348 424)"/><ellipse cx="205" cy="453" rx="40" ry="8" fill="#b8726a" opacity="0.9" transform="rotate(-6 205 453)"/><rect x="175.7" y="455.0" width="5.9" height="0.9" fill="#ecc0b8" opacity="0.9" transform="rotate(-6 205 453)"/><rect x="176.5" y="455.0" width="2.1" height="0.9" fill="#ecc0b8" opacity="0.9" transform="rotate(-6 205 453)"/><rect x="203.7" y="449.5" width="4.0" height="0.9" fill="#d89080" opacity="0.9" transform="rotate(-6 205 453)"/><rect x="183.4" y="458.3" width="3.9" height="0.9" fill="#c87a6a" opacity="0.9" transform="rotate(-6 205 453)"/><rect x="235.1" y="457.9" width="2.1" height="0.9" fill="#d89080" opacity="0.9" transform="rotate(-6 205 453)"/><rect x="223.1" y="454.5" width="3.6" height="0.9" fill="#d89080" opacity="0.9" transform="rotate(-6 205 453)"/><rect x="182.3" y="452.0" width="4.0" height="0.9" fill="#d89080" opacity="0.9" transform="rotate(-6 205 453)"/><rect x="207.6" y="456.1" width="3.6" height="0.9" fill="#c87a6a" opacity="0.9" transform="rotate(-6 205 453)"/><rect x="229.2" y="453.6" width="5.7" height="0.9" fill="#d89080" opacity="0.9" transform="rotate(-6 205 453)"/><rect x="226.7" y="452.3" width="3.8" height="0.9" fill="#c87a6a" opacity="0.9" transform="rotate(-6 205 453)"/><rect x="193.9" y="456.6" width="4.0" height="0.9" fill="#c87a6a" opacity="0.9" transform="rotate(-6 205 453)"/><rect x="237.4" y="447.9" width="2.7" height="0.9" fill="#ecc0b8" opacity="0.9" transform="rotate(-6 205 453)"/><rect x="228.2" y="448.4" width="4.8" height="0.9" fill="#ecc0b8" opacity="0.9" transform="rotate(-6 205 453)"/><rect x="192.0" y="454.1" width="5.2" height="0.9" fill="#ecc0b8" opacity="0.9" transform="rotate(-6 205 453)"/><rect x="232.3" y="457.2" width="3.8" height="0.9" fill="#d89080" opacity="0.9" transform="rotate(-6 205 453)"/><rect x="240.8" y="447.4" width="2.8" height="0.9" fill="#ecc0b8" opacity="0.9" transform="rotate(-6 205 453)"/><rect x="193.4" y="450.9" width="3.8" height="0.9" fill="#5a2018" opacity="0.9" transform="rotate(-6 205 453)"/><rect x="186.3" y="447.9" width="2.6" height="0.9" fill="#5a2018" opacity="0.9" transform="rotate(-6 205 453)"/><rect x="211.2" y="447.5" width="2.9" height="0.9" fill="#5a2018" opacity="0.9" transform="rotate(-6 205 453)"/><rect x="184.8" y="453.7" width="3.7" height="0.9" fill="#d89080" opacity="0.9" transform="rotate(-6 205 453)"/><rect x="225.8" y="453.4" width="2.8" height="0.9" fill="#5a2018" opacity="0.9" transform="rotate(-6 205 453)"/><rect x="213.8" y="447.9" width="5.2" height="0.9" fill="#ecc0b8" opacity="0.9" transform="rotate(-6 205 453)"/><rect x="230.8" y="448.5" width="5.8" height="0.9" fill="#d89080" opacity="0.9" transform="rotate(-6 205 453)"/><rect x="175.2" y="452.6" width="2.9" height="0.9" fill="#ecc0b8" opacity="0.9" transform="rotate(-6 205 453)"/><rect x="215.2" y="455.9" width="5.5" height="0.9" fill="#d89080" opacity="0.9" transform="rotate(-6 205 453)"/><rect x="198.0" y="454.8" width="5.1" height="0.9" fill="#d89080" opacity="0.9" transform="rotate(-6 205 453)"/><rect x="229.1" y="454.1" width="5.3" height="0.9" fill="#5a2018" opacity="0.9" transform="rotate(-6 205 453)"/><rect x="177.4" y="447.5" width="3.2" height="0.9" fill="#ecc0b8" opacity="0.9" transform="rotate(-6 205 453)"/><rect x="193.6" y="449.5" width="5.0" height="0.9" fill="#d89080" opacity="0.9" transform="rotate(-6 205 453)"/><rect x="199.4" y="454.7" width="4.4" height="0.9" fill="#5a2018" opacity="0.9" transform="rotate(-6 205 453)"/><rect x="187.0" y="456.8" width="2.2" height="0.9" fill="#5a2018" opacity="0.9" transform="rotate(-6 205 453)"/><rect x="200.0" y="448.3" width="2.9" height="0.9" fill="#5a2018" opacity="0.9" transform="rotate(-6 205 453)"/><rect x="223.0" y="449.7" width="2.9" height="0.9" fill="#c87a6a" opacity="0.9" transform="rotate(-6 205 453)"/><rect x="236.1" y="453.4" width="3.7" height="0.9" fill="#5a2018" opacity="0.9" transform="rotate(-6 205 453)"/><rect x="234.0" y="458.0" width="3.9" height="0.9" fill="#c87a6a" opacity="0.9" transform="rotate(-6 205 453)"/><rect x="202.8" y="454.0" width="2.1" height="0.9" fill="#ecc0b8" opacity="0.9" transform="rotate(-6 205 453)"/><rect x="182.3" y="448.5" width="4.9" height="0.9" fill="#d89080" opacity="0.9" transform="rotate(-6 205 453)"/><rect x="205.3" y="448.1" width="3.9" height="0.9" fill="#5a2018" opacity="0.9" transform="rotate(-6 205 453)"/><rect x="222.7" y="450.5" width="3.7" height="0.9" fill="#d89080" opacity="0.9" transform="rotate(-6 205 453)"/><rect x="202.7" y="449.6" width="5.1" height="0.9" fill="#5a2018" opacity="0.9" transform="rotate(-6 205 453)"/><ellipse cx="262" cy="448" rx="46" ry="8" fill="#b8726a" opacity="0.9" transform="rotate(-6 262 448)"/><rect x="229.2" y="445.8" width="3.6" height="0.9" fill="#ecc0b8" opacity="0.9" transform="rotate(-6 262 448)"/><rect x="237.6" y="447.9" width="5.2" height="0.9" fill="#d89080" opacity="0.9" transform="rotate(-6 262 448)"/><rect x="301.4" y="453.4" width="5.5" height="0.9" fill="#d89080" opacity="0.9" transform="rotate(-6 262 448)"/><rect x="298.7" y="447.2" width="5.8" height="0.9" fill="#c87a6a" opacity="0.9" transform="rotate(-6 262 448)"/><rect x="264.1" y="448.5" width="3.4" height="0.9" fill="#d89080" opacity="0.9" transform="rotate(-6 262 448)"/><rect x="244.2" y="447.6" width="5.5" height="0.9" fill="#d89080" opacity="0.9" transform="rotate(-6 262 448)"/><rect x="282.5" y="452.8" width="4.1" height="0.9" fill="#ecc0b8" opacity="0.9" transform="rotate(-6 262 448)"/><rect x="231.5" y="448.3" width="4.1" height="0.9" fill="#5a2018" opacity="0.9" transform="rotate(-6 262 448)"/><rect x="299.3" y="442.4" width="5.9" height="0.9" fill="#c87a6a" opacity="0.9" transform="rotate(-6 262 448)"/><rect x="250.0" y="453.2" width="3.5" height="0.9" fill="#ecc0b8" opacity="0.9" transform="rotate(-6 262 448)"/><rect x="261.2" y="445.1" width="3.1" height="0.9" fill="#d89080" opacity="0.9" transform="rotate(-6 262 448)"/><rect x="289.8" y="449.2" width="5.2" height="0.9" fill="#c87a6a" opacity="0.9" transform="rotate(-6 262 448)"/><rect x="246.4" y="445.2" width="5.2" height="0.9" fill="#c87a6a" opacity="0.9" transform="rotate(-6 262 448)"/><rect x="280.5" y="446.2" width="2.1" height="0.9" fill="#ecc0b8" opacity="0.9" transform="rotate(-6 262 448)"/><rect x="272.6" y="450.0" width="5.7" height="0.9" fill="#5a2018" opacity="0.9" transform="rotate(-6 262 448)"/><rect x="299.6" y="450.7" width="5.4" height="0.9" fill="#c87a6a" opacity="0.9" transform="rotate(-6 262 448)"/><rect x="262.7" y="451.7" width="4.2" height="0.9" fill="#d89080" opacity="0.9" transform="rotate(-6 262 448)"/><rect x="222.0" y="442.9" width="3.9" height="0.9" fill="#ecc0b8" opacity="0.9" transform="rotate(-6 262 448)"/><rect x="294.9" y="452.5" width="3.9" height="0.9" fill="#c87a6a" opacity="0.9" transform="rotate(-6 262 448)"/><rect x="251.3" y="449.5" width="3.2" height="0.9" fill="#ecc0b8" opacity="0.9" transform="rotate(-6 262 448)"/><rect x="277.2" y="453.5" width="4.2" height="0.9" fill="#c87a6a" opacity="0.9" transform="rotate(-6 262 448)"/><rect x="284.7" y="447.4" width="3.1" height="0.9" fill="#d89080" opacity="0.9" transform="rotate(-6 262 448)"/><rect x="258.1" y="453.1" width="2.6" height="0.9" fill="#d89080" opacity="0.9" transform="rotate(-6 262 448)"/><rect x="232.2" y="442.8" width="3.9" height="0.9" fill="#5a2018" opacity="0.9" transform="rotate(-6 262 448)"/><rect x="289.1" y="452.8" width="4.4" height="0.9" fill="#ecc0b8" opacity="0.9" transform="rotate(-6 262 448)"/><rect x="246.8" y="449.1" width="2.5" height="0.9" fill="#5a2018" opacity="0.9" transform="rotate(-6 262 448)"/><rect x="243.8" y="450.3" width="5.6" height="0.9" fill="#ecc0b8" opacity="0.9" transform="rotate(-6 262 448)"/><rect x="256.6" y="443.2" width="2.1" height="0.9" fill="#c87a6a" opacity="0.9" transform="rotate(-6 262 448)"/><rect x="294.8" y="453.2" width="4.6" height="0.9" fill="#5a2018" opacity="0.9" transform="rotate(-6 262 448)"/><rect x="246.4" y="446.3" width="4.6" height="0.9" fill="#c87a6a" opacity="0.9" transform="rotate(-6 262 448)"/><rect x="246.8" y="445.4" width="5.8" height="0.9" fill="#d89080" opacity="0.9" transform="rotate(-6 262 448)"/><rect x="246.9" y="446.8" width="3.1" height="0.9" fill="#5a2018" opacity="0.9" transform="rotate(-6 262 448)"/><rect x="255.2" y="447.0" width="5.6" height="0.9" fill="#c87a6a" opacity="0.9" transform="rotate(-6 262 448)"/><rect x="239.6" y="444.6" width="2.3" height="0.9" fill="#ecc0b8" opacity="0.9" transform="rotate(-6 262 448)"/><rect x="282.1" y="451.8" width="4.5" height="0.9" fill="#ecc0b8" opacity="0.9" transform="rotate(-6 262 448)"/><rect x="298.6" y="453.3" width="4.8" height="0.9" fill="#c87a6a" opacity="0.9" transform="rotate(-6 262 448)"/><rect x="242.8" y="447.8" width="3.1" height="0.9" fill="#ecc0b8" opacity="0.9" transform="rotate(-6 262 448)"/><rect x="235.1" y="447.8" width="2.7" height="0.9" fill="#5a2018" opacity="0.9" transform="rotate(-6 262 448)"/><rect x="295.6" y="444.4" width="6.0" height="0.9" fill="#c87a6a" opacity="0.9" transform="rotate(-6 262 448)"/><rect x="274.2" y="444.0" width="2.2" height="0.9" fill="#5a2018" opacity="0.9" transform="rotate(-6 262 448)"/><ellipse cx="325" cy="441" rx="45" ry="8" fill="#b8726a" opacity="0.9" transform="rotate(-5 325 441)"/><rect x="309.7" y="442.7" width="2.5" height="0.9" fill="#5a2018" opacity="0.9" transform="rotate(-5 325 441)"/><rect x="288.5" y="446.2" width="4.1" height="0.9" fill="#c87a6a" opacity="0.9" transform="rotate(-5 325 441)"/><rect x="347.6" y="440.3" width="2.7" height="0.9" fill="#ecc0b8" opacity="0.9" transform="rotate(-5 325 441)"/><rect x="307.2" y="436.9" width="2.6" height="0.9" fill="#5a2018" opacity="0.9" transform="rotate(-5 325 441)"/><rect x="315.6" y="445.9" width="4.4" height="0.9" fill="#5a2018" opacity="0.9" transform="rotate(-5 325 441)"/><rect x="285.1" y="439.6" width="2.6" height="0.9" fill="#c87a6a" opacity="0.9" transform="rotate(-5 325 441)"/><rect x="304.4" y="439.4" width="5.8" height="0.9" fill="#c87a6a" opacity="0.9" transform="rotate(-5 325 441)"/><rect x="292.9" y="444.9" width="3.9" height="0.9" fill="#d89080" opacity="0.9" transform="rotate(-5 325 441)"/><rect x="327.5" y="445.0" width="3.8" height="0.9" fill="#c87a6a" opacity="0.9" transform="rotate(-5 325 441)"/><rect x="322.1" y="441.4" width="3.8" height="0.9" fill="#c87a6a" opacity="0.9" transform="rotate(-5 325 441)"/><rect x="352.0" y="437.6" width="4.4" height="0.9" fill="#5a2018" opacity="0.9" transform="rotate(-5 325 441)"/><rect x="308.9" y="445.0" width="5.8" height="0.9" fill="#d89080" opacity="0.9" transform="rotate(-5 325 441)"/><rect x="306.0" y="437.7" width="2.2" height="0.9" fill="#ecc0b8" opacity="0.9" transform="rotate(-5 325 441)"/><rect x="317.7" y="445.2" width="2.5" height="0.9" fill="#ecc0b8" opacity="0.9" transform="rotate(-5 325 441)"/><rect x="297.3" y="436.8" width="3.6" height="0.9" fill="#d89080" opacity="0.9" transform="rotate(-5 325 441)"/><rect x="327.0" y="444.0" width="2.4" height="0.9" fill="#c87a6a" opacity="0.9" transform="rotate(-5 325 441)"/><rect x="310.9" y="442.0" width="2.9" height="0.9" fill="#c87a6a" opacity="0.9" transform="rotate(-5 325 441)"/><rect x="325.5" y="439.6" width="3.3" height="0.9" fill="#d89080" opacity="0.9" transform="rotate(-5 325 441)"/><rect x="341.4" y="444.0" width="4.9" height="0.9" fill="#d89080" opacity="0.9" transform="rotate(-5 325 441)"/><rect x="354.3" y="444.8" width="3.1" height="0.9" fill="#d89080" opacity="0.9" transform="rotate(-5 325 441)"/><rect x="306.4" y="436.8" width="4.0" height="0.9" fill="#d89080" opacity="0.9" transform="rotate(-5 325 441)"/><rect x="343.5" y="438.2" width="3.7" height="0.9" fill="#d89080" opacity="0.9" transform="rotate(-5 325 441)"/><rect x="321.2" y="440.8" width="4.1" height="0.9" fill="#5a2018" opacity="0.9" transform="rotate(-5 325 441)"/><rect x="364.4" y="441.3" width="3.8" height="0.9" fill="#ecc0b8" opacity="0.9" transform="rotate(-5 325 441)"/><rect x="290.1" y="440.2" width="5.4" height="0.9" fill="#d89080" opacity="0.9" transform="rotate(-5 325 441)"/><rect x="289.3" y="445.0" width="3.5" height="0.9" fill="#ecc0b8" opacity="0.9" transform="rotate(-5 325 441)"/><rect x="314.2" y="437.8" width="4.2" height="0.9" fill="#ecc0b8" opacity="0.9" transform="rotate(-5 325 441)"/><rect x="319.4" y="445.1" width="4.8" height="0.9" fill="#d89080" opacity="0.9" transform="rotate(-5 325 441)"/><rect x="285.5" y="439.6" width="3.5" height="0.9" fill="#c87a6a" opacity="0.9" transform="rotate(-5 325 441)"/><rect x="314.7" y="442.7" width="5.5" height="0.9" fill="#c87a6a" opacity="0.9" transform="rotate(-5 325 441)"/><rect x="296.3" y="437.9" width="3.5" height="0.9" fill="#ecc0b8" opacity="0.9" transform="rotate(-5 325 441)"/><rect x="295.8" y="436.3" width="3.3" height="0.9" fill="#d89080" opacity="0.9" transform="rotate(-5 325 441)"/><rect x="300.4" y="435.7" width="4.9" height="0.9" fill="#d89080" opacity="0.9" transform="rotate(-5 325 441)"/><rect x="327.8" y="443.7" width="5.3" height="0.9" fill="#5a2018" opacity="0.9" transform="rotate(-5 325 441)"/><rect x="320.3" y="443.0" width="2.5" height="0.9" fill="#c87a6a" opacity="0.9" transform="rotate(-5 325 441)"/><rect x="302.7" y="437.0" width="3.2" height="0.9" fill="#5a2018" opacity="0.9" transform="rotate(-5 325 441)"/><rect x="294.0" y="437.3" width="5.5" height="0.9" fill="#c87a6a" opacity="0.9" transform="rotate(-5 325 441)"/><rect x="286.8" y="439.3" width="2.0" height="0.9" fill="#5a2018" opacity="0.9" transform="rotate(-5 325 441)"/><rect x="322.8" y="437.0" width="2.8" height="0.9" fill="#c87a6a" opacity="0.9" transform="rotate(-5 325 441)"/><rect x="332.0" y="446.0" width="3.2" height="0.9" fill="#d89080" opacity="0.9" transform="rotate(-5 325 441)"/><ellipse cx="292" cy="395" rx="48" ry="30" fill="#ffc83a" opacity="0.45"/><ellipse cx="300" cy="350" rx="30" ry="25" fill="#ffb030" opacity="0.4"/><path d="M237.5,453.4 C236.6,437.4 237.3,428.4 238.2,417.7 C238.4,432.0 241.1,439.1 242.1,453.4 Z" fill="#ff8a10" opacity="0.65"/><path d="M224.0,416.0 C224.8,403.5 236.2,396.6 238.3,388.3 C238.8,399.4 235.0,404.9 234.3,416.0 Z" fill="#ff8a10" opacity="0.65"/><path d="M331.3,397.0 C331.9,385.8 346.7,379.7 348.4,372.3 C348.8,382.1 340.4,387.1 339.8,397.0 Z" fill="#ff9a18" opacity="0.65"/><path d="M227.2,450.1 C228.5,436.3 218.0,428.6 219.6,419.4 C220.0,431.7 236.5,437.8 235.2,450.1 Z" fill="#ffb424" opacity="0.65"/><path d="M325.4,448.9 C324.4,436.8 326.1,430.0 327.3,422.0 C327.7,432.7 330.8,438.1 331.8,448.9 Z" fill="#ffb424" opacity="0.65"/><path d="M260.6,447.5 C259.8,438.9 266.2,434.2 267.8,428.5 C268.2,436.1 267.6,439.9 268.3,447.5 Z" fill="#ff8a10" opacity="0.65"/><path d="M329.1,423.9 C330.5,407.3 329.9,398.2 331.5,387.2 C331.8,401.8 338.1,409.2 336.8,423.9 Z" fill="#ffc030" opacity="0.65"/><path d="M302.2,417.0 C301.2,398.7 292.7,388.6 293.7,376.4 C294.0,392.6 306.5,400.8 307.5,417.0 Z" fill="#ffc030" opacity="0.65"/><path d="M336.8,409.8 C336.1,400.2 325.5,394.8 326.5,388.4 C326.8,397.0 341.4,401.2 342.1,409.8 Z" fill="#ffc030" opacity="0.65"/><path d="M332.5,431.1 C331.6,414.5 330.5,405.3 331.6,394.2 C331.9,408.9 337.3,416.3 338.2,431.1 Z" fill="#ffb424" opacity="0.65"/><path d="M255.4,399.8 C254.8,383.6 246.4,374.7 247.7,363.9 C248.0,378.3 261.2,385.4 261.8,399.8 Z" fill="#ffb424" opacity="0.65"/><path d="M246.4,392.6 C246.7,379.4 256.7,372.0 257.8,363.1 C258.1,374.9 252.1,380.8 251.8,392.6 Z" fill="#ff8a10" opacity="0.65"/><path d="M245.6,436.3 C245.3,424.3 250.6,417.6 252.2,409.5 C252.6,420.2 253.1,425.6 253.3,436.3 Z" fill="#ff8a10" opacity="0.65"/><path d="M231.1,439.0 C231.2,420.6 235.6,410.4 237.0,398.2 C237.4,414.5 238.6,422.7 238.5,439.0 Z" fill="#ff8a10" opacity="0.65"/><path d="M275.4,417.1 C277.3,405.1 277.3,398.4 278.8,390.4 C279.2,401.1 284.8,406.4 282.9,417.1 Z" fill="#ffc030" opacity="0.65"/><path d="M283.8,393.4 C282.5,377.0 292.2,367.8 293.4,356.9 C293.8,371.5 288.9,378.8 290.1,393.4 Z" fill="#ff8a10" opacity="0.65"/><path d="M288.5,443.8 C288.1,430.6 301.0,423.3 302.6,414.5 C303.0,426.2 295.8,432.1 296.3,443.8 Z" fill="#ffc030" opacity="0.65"/><path d="M228.9,406.0 C229.3,390.7 237.1,382.2 238.8,372.0 C239.2,385.6 237.6,392.4 237.3,406.0 Z" fill="#ff8a10" opacity="0.65"/><path d="M307.3,401.6 C308.7,390.5 321.2,384.3 322.6,376.9 C322.9,386.8 315.6,391.8 314.1,401.6 Z" fill="#ff8a10" opacity="0.65"/><path d="M276.1,421.9 C275.3,404.8 274.6,395.4 276.0,384.0 C276.3,399.1 282.2,406.7 283.1,421.9 Z" fill="#ffb424" opacity="0.65"/><path d="M310.7,422.2 C311.7,410.2 313.7,403.6 314.6,395.6 C314.9,406.2 316.5,411.6 315.5,422.2 Z" fill="#ff8a10" opacity="0.65"/><path d="M282.1,420.6 C280.1,407.6 286.7,400.3 288.8,391.6 C289.3,403.2 290.4,409.0 292.5,420.6 Z" fill="#ff8a10" opacity="0.65"/><path d="M230.9,416.2 C231.1,406.7 223.9,401.4 225.4,395.1 C225.7,403.5 238.6,407.8 238.5,416.2 Z" fill="#ff9a18" opacity="0.65"/><path d="M239.2,409.0 C238.5,394.8 234.7,386.8 236.0,377.3 C236.3,390.0 244.7,396.4 245.4,409.0 Z" fill="#ffc030" opacity="0.65"/><path d="M261.0,450.6 C259.1,442.3 263.6,437.7 265.7,432.1 C266.2,439.5 269.8,443.2 271.7,450.6 Z" fill="#ffc030" opacity="0.65"/><path d="M268.3,431.1 C267.1,420.8 283.7,415.1 285.6,408.2 C286.1,417.4 276.6,421.9 277.8,431.1 Z" fill="#ffb424" opacity="0.65"/><path d="M257.1,406.1 C257.7,394.7 268.9,388.4 269.8,380.8 C270.1,390.9 262.5,396.0 261.9,406.1 Z" fill="#ffb424" opacity="0.65"/><path d="M252.4,414.3 C250.9,394.4 261.6,383.3 262.8,370.0 C263.2,387.7 257.2,396.6 258.6,414.3 Z" fill="#ffb424" opacity="0.65"/><path d="M282.7,454.6 C282.8,446.1 284.2,441.3 286.2,435.7 C286.8,443.2 293.1,447.0 293.0,454.6 Z" fill="#ffc030" opacity="0.65"/><path d="M308.9,412.1 C307.9,394.5 311.9,384.7 313.1,372.9 C313.4,388.6 313.7,396.4 314.7,412.1 Z" fill="#ffc030" opacity="0.65"/><path d="M227.1,412.4 C228.7,405.6 219.6,401.8 221.5,397.3 C222.0,403.3 238.3,406.3 236.6,412.4 Z" fill="#ffb424" opacity="0.65"/><path d="M312.8,407.9 C311.6,400.6 322.0,396.5 323.6,391.6 C324.0,398.2 319.5,401.4 320.7,407.9 Z" fill="#ff8a10" opacity="0.65"/><path d="M243.6,453.5 C242.2,436.8 252.5,427.5 254.0,416.4 C254.4,431.2 249.6,438.7 251.0,453.5 Z" fill="#ffb424" opacity="0.65"/><path d="M266.2,441.1 C267.3,424.5 256.4,415.3 257.5,404.2 C257.8,419.0 273.1,426.4 272.0,441.1 Z" fill="#ff9a18" opacity="0.65"/><path d="M240.1,380.5 C240.4,372.7 239.9,368.3 241.8,363.0 C242.3,370.0 249.8,373.5 249.6,380.5 Z" fill="#ffc030" opacity="0.65"/><path d="M304.0,413.2 C302.4,404.1 294.9,399.0 296.9,392.9 C297.4,401.0 312.2,405.1 313.8,413.2 Z" fill="#ffc030" opacity="0.65"/><path d="M226.6,418.9 C226.0,407.7 218.7,401.5 220.8,394.0 C221.4,404.0 236.8,408.9 237.4,418.9 Z" fill="#ffb424" opacity="0.65"/><path d="M323.1,413.4 C322.3,397.6 317.3,388.9 318.5,378.4 C318.9,392.4 328.6,399.4 329.4,413.4 Z" fill="#ffc030" opacity="0.65"/><path d="M225.3,396.1 C225.5,387.2 224.4,382.3 225.8,376.4 C226.1,384.3 232.2,388.2 232.1,396.1 Z" fill="#ff9a18" opacity="0.65"/><path d="M298.8,401.8 C298.7,394.7 295.5,390.7 296.4,386.0 C296.6,392.3 302.9,395.5 303.0,401.8 Z" fill="#ffb424" opacity="0.65"/><path d="M287.0,428.0 C287.0,407.9 300.1,396.8 301.4,383.4 C301.8,401.3 293.7,410.2 293.6,428.0 Z" fill="#ffb424" opacity="0.65"/><path d="M275.3,403.1 C274.2,395.5 278.1,391.3 280.0,386.2 C280.5,393.0 283.8,396.4 284.8,403.1 Z" fill="#ff9a18" opacity="0.65"/><path d="M338.8,450.4 C337.7,441.7 335.7,436.8 337.2,431.0 C337.6,438.7 345.4,442.6 346.4,450.4 Z" fill="#ffb424" opacity="0.65"/><path d="M289.9,402.1 C288.9,394.4 299.8,390.1 300.7,385.0 C300.9,391.8 293.4,395.3 294.4,402.1 Z" fill="#ffc030" opacity="0.65"/><path d="M227.0,426.6 C225.3,419.1 228.7,414.9 230.3,409.9 C230.6,416.6 232.9,419.9 234.6,426.6 Z" fill="#ff9a18" opacity="0.65"/><path d="M307.3,402.9 C306.7,389.7 303.7,382.4 304.9,373.7 C305.2,385.3 312.8,391.2 313.4,402.9 Z" fill="#ffb424" opacity="0.65"/><path d="M294.3,410.4 C293.3,394.9 300.8,386.3 301.8,375.9 C302.0,389.7 298.1,396.6 299.1,410.4 Z" fill="#ffb424" opacity="0.65"/><path d="M315.1,419.8 C316.8,402.7 321.0,393.2 322.5,381.7 C322.9,397.0 324.4,404.6 322.6,419.8 Z" fill="#ff9a18" opacity="0.65"/><path d="M261.0,444.1 C262.6,430.4 259.4,422.8 260.9,413.8 C261.2,425.9 270.0,431.9 268.4,444.1 Z" fill="#ffc030" opacity="0.65"/><path d="M276.1,433.3 C275.5,419.0 277.1,411.0 278.5,401.5 C278.8,414.2 282.2,420.6 282.8,433.3 Z" fill="#ff9a18" opacity="0.65"/><path d="M282.1,427.6 C282.8,410.3 276.6,400.6 278.5,389.0 C278.9,404.5 292.0,412.2 291.3,427.6 Z" fill="#ff9a18" opacity="0.65"/><path d="M316.0,451.8 C316.5,438.6 313.1,431.2 314.2,422.5 C314.4,434.2 321.9,440.0 321.4,451.8 Z" fill="#ff9a18" opacity="0.65"/><path d="M346.4,383.6 C347.8,371.5 343.4,364.7 344.7,356.6 C345.0,367.4 354.5,372.8 353.1,383.6 Z" fill="#ffb424" opacity="0.65"/><path d="M279.1,412.4 C278.6,399.9 278.1,393.0 279.7,384.7 C280.1,395.8 286.6,401.3 287.2,412.4 Z" fill="#ff9a18" opacity="0.65"/><path d="M324.2,409.6 C323.3,390.6 327.0,380.1 328.3,367.4 C328.7,384.3 330.1,392.7 331.0,409.6 Z" fill="#ffb424" opacity="0.65"/><path d="M257.3,426.4 C257.2,408.7 248.8,398.9 250.5,387.1 C251.0,402.8 265.9,410.6 266.0,426.4 Z" fill="#ffe070" opacity="0.7"/><path d="M278.6,420.2 C279.9,405.3 277.5,397.1 278.7,387.2 C279.0,400.4 285.9,407.0 284.6,420.2 Z" fill="#ffd23a" opacity="0.7"/><path d="M257.1,443.5 C256.7,423.7 273.1,412.7 274.8,399.4 C275.2,417.1 265.2,425.9 265.7,443.5 Z" fill="#ffd23a" opacity="0.7"/><path d="M293.4,397.0 C294.6,386.5 306.9,380.8 308.1,373.8 C308.4,383.1 300.7,387.7 299.4,397.0 Z" fill="#ffd23a" opacity="0.7"/><path d="M283.3,398.7 C283.9,386.8 283.9,380.2 285.7,372.2 C286.1,382.8 293.0,388.1 292.4,398.7 Z" fill="#ffe070" opacity="0.7"/><path d="M292.6,391.7 C291.4,375.3 290.5,366.2 292.1,355.2 C292.5,369.8 299.4,377.1 300.5,391.7 Z" fill="#ffe070" opacity="0.7"/><path d="M249.9,401.9 C248.9,390.1 261.9,383.6 263.3,375.7 C263.6,386.2 255.9,391.4 256.8,401.9 Z" fill="#ffe070" opacity="0.7"/><path d="M336.1,410.0 C334.6,396.9 339.1,389.6 340.3,380.9 C340.6,392.5 340.6,398.3 342.2,410.0 Z" fill="#ffe070" opacity="0.7"/><path d="M308.0,439.0 C308.9,426.7 303.5,419.9 304.7,411.8 C305.0,422.6 314.6,428.1 313.8,439.0 Z" fill="#ffd23a" opacity="0.7"/><path d="M274.8,407.4 C274.6,393.8 268.2,386.2 269.4,377.1 C269.7,389.2 280.7,395.3 280.9,407.4 Z" fill="#ffd23a" opacity="0.7"/><path d="M263.7,422.0 C263.5,407.7 275.2,399.7 276.8,390.1 C277.2,402.9 271.4,409.3 271.6,422.0 Z" fill="#ffd23a" opacity="0.7"/><path d="M258.9,411.0 C259.9,400.8 268.7,395.1 270.1,388.3 C270.5,397.4 267.1,401.9 266.0,411.0 Z" fill="#ffe070" opacity="0.7"/><path d="M321.6,404.3 C323.1,385.2 313.5,374.6 315.1,361.9 C315.5,378.8 331.2,387.3 329.7,404.3 Z" fill="#ffd23a" opacity="0.7"/><path d="M275.0,400.2 C274.8,386.7 271.6,379.3 272.7,370.3 C273.0,382.3 280.3,388.2 280.6,400.2 Z" fill="#ffd23a" opacity="0.7"/><path d="M272.3,407.4 C272.2,391.9 273.2,383.2 275.0,372.9 C275.5,386.7 281.1,393.6 281.2,407.4 Z" fill="#ffd23a" opacity="0.7"/><path d="M249.5,400.2 C250.8,379.8 248.5,368.4 249.9,354.8 C250.3,373.0 258.2,382.0 256.9,400.2 Z" fill="#ffd23a" opacity="0.7"/><path d="M278.8,411.7 C278.9,397.8 281.5,390.0 282.5,380.7 C282.8,393.1 284.0,399.3 283.8,411.7 Z" fill="#ffe070" opacity="0.7"/><path d="M295.6,390.6 C296.2,380.6 290.1,375.1 291.4,368.4 C291.8,377.3 302.7,381.7 302.2,390.6 Z" fill="#ffd23a" opacity="0.7"/><path d="M255.8,434.2 C256.9,412.2 253.9,400.0 255.2,385.3 C255.6,404.9 263.5,414.7 262.4,434.2 Z" fill="#ffd23a" opacity="0.7"/><path d="M330.4,442.6 C330.7,420.4 328.6,408.0 329.6,393.2 C329.9,413.0 336.0,422.9 335.6,442.6 Z" fill="#ffd23a" opacity="0.7"/><path d="M292.7,410.9 C293.6,395.4 293.1,386.7 294.1,376.4 C294.4,390.2 298.7,397.1 297.7,410.9 Z" fill="#ffe070" opacity="0.7"/><path d="M297.6,394.8 C297.0,373.8 287.6,362.1 288.7,348.1 C289.0,366.8 302.5,376.1 303.1,394.8 Z" fill="#ffd23a" opacity="0.7"/><path d="M308.6,391.7 C307.8,379.9 298.2,373.3 299.9,365.4 C300.3,375.9 316.4,381.2 317.2,391.7 Z" fill="#ffd23a" opacity="0.7"/><path d="M285.7,448.8 C286.3,435.7 300.4,428.4 301.7,419.6 C302.0,431.3 292.9,437.1 292.3,448.8 Z" fill="#ffd23a" opacity="0.7"/><path d="M307.5,390.9 C307.3,371.7 315.2,361.1 316.7,348.3 C317.0,365.3 314.4,373.9 314.6,390.9 Z" fill="#ffe070" opacity="0.7"/><path d="M293.1,430.2 C291.3,419.3 304.1,413.3 305.8,406.1 C306.2,415.7 299.9,420.5 301.7,430.2 Z" fill="#ffe070" opacity="0.7"/><path d="M318.9,422.7 C318.0,409.2 314.4,401.7 316.2,392.7 C316.7,404.7 327.0,410.7 328.0,422.7 Z" fill="#ffe070" opacity="0.7"/><path d="M274.5,435.1 C275.3,423.7 267.7,417.5 269.1,409.9 C269.4,420.0 282.1,425.0 281.4,435.1 Z" fill="#ffe070" opacity="0.7"/><path d="M301.8,414.3 C302.2,392.3 296.0,380.1 297.4,365.5 C297.8,385.0 309.4,394.8 308.9,414.3 Z" fill="#ffd23a" opacity="0.7"/><path d="M238.2,434.1 C238.5,419.1 243.7,410.8 244.8,400.8 C245.0,414.1 243.8,420.8 243.5,434.1 Z" fill="#ffe070" opacity="0.7"/><path d="M296.3,406.5 Q296.1,395.8 302.2,385.1 Q301.7,374.3 303.6,363.6" fill="none" stroke="#fff0a0" stroke-width="1.8" stroke-linecap="round" opacity="1.0"/><path d="M328.7,371.9 Q326.1,361.6 338.7,351.4 Q340.5,341.2 346.8,331.0" fill="none" stroke="#ffc030" stroke-width="1.9" stroke-linecap="round" opacity="0.78"/><path d="M239.8,389.7 Q242.6,382.4 242.2,375.0 Q239.0,367.7 246.5,360.4 Q246.1,353.0 249.2,345.7" fill="none" stroke="#ffe27a" stroke-width="0.8" stroke-linecap="round" opacity="0.83"/><path d="M306.7,383.6 Q302.1,375.2 301.6,366.9 Q298.2,358.6 294.5,350.3" fill="none" stroke="#ffb020" stroke-width="1.0" stroke-linecap="round" opacity="0.71"/><path d="M236.1,442.0 Q241.1,430.9 237.2,419.8 Q233.6,408.7 235.2,397.6" fill="none" stroke="#ffb020" stroke-width="1.4" stroke-linecap="round" opacity="0.86"/><path d="M264.9,376.9 Q260.1,367.8 259.0,358.6 Q260.5,349.5 252.8,340.4" fill="none" stroke="#ffc030" stroke-width="1.3" stroke-linecap="round" opacity="0.91"/><path d="M338.0,358.7 Q339.9,350.9 335.3,343.0 Q334.5,335.1 330.4,327.3" fill="none" stroke="#ffc030" stroke-width="0.8" stroke-linecap="round" opacity="0.99"/><path d="M259.5,358.4 Q261.5,355.1 259.3,351.9 Q257.8,348.7 258.2,345.5 Q258.3,342.2 258.3,339.0" fill="none" stroke="#fff0a0" stroke-width="1.2" stroke-linecap="round" opacity="0.83"/><path d="M334.3,438.0 Q331.9,428.0 329.4,417.9 Q325.7,407.9 323.9,397.8" fill="none" stroke="#ffc030" stroke-width="1.0" stroke-linecap="round" opacity="0.81"/><path d="M352.9,455.8 Q351.8,449.7 358.9,443.6 Q355.9,437.4 365.8,431.3 Q367.3,425.2 371.3,419.0" fill="none" stroke="#ffb020" stroke-width="1.9" stroke-linecap="round" opacity="0.75"/><path d="M253.6,431.8 Q252.0,426.9 257.6,421.9 Q253.4,417.0 262.4,412.1 Q267.2,407.1 263.4,402.2" fill="none" stroke="#ffb020" stroke-width="1.1" stroke-linecap="round" opacity="0.95"/><path d="M270.3,415.0 Q267.7,404.7 266.3,394.4 Q270.0,384.0 259.7,373.7" fill="none" stroke="#ffc030" stroke-width="1.6" stroke-linecap="round" opacity="0.82"/><path d="M261.5,376.6 Q262.8,368.4 259.5,360.1 Q260.3,351.9 252.5,343.7 Q250.6,335.4 250.1,327.2" fill="none" stroke="#ffd23a" stroke-width="1.5" stroke-linecap="round" opacity="0.98"/><path d="M314.9,363.5 Q315.8,359.8 317.8,356.1 Q320.7,352.4 320.7,348.7 Q320.5,345.0 326.1,341.3" fill="none" stroke="#ffb020" stroke-width="1.0" stroke-linecap="round" opacity="1.0"/><path d="M251.1,388.3 Q254.2,378.5 257.8,368.6 Q256.3,358.7 262.6,348.8" fill="none" stroke="#ffb020" stroke-width="1.5" stroke-linecap="round" opacity="0.83"/><path d="M233.6,454.9 Q232.1,445.0 234.8,435.0 Q237.4,425.1 234.3,415.1" fill="none" stroke="#ffd23a" stroke-width="1.7" stroke-linecap="round" opacity="0.78"/><path d="M345.8,412.6 Q348.8,401.2 336.8,389.7 Q333.8,378.3 327.9,366.9" fill="none" stroke="#ffc030" stroke-width="0.9" stroke-linecap="round" opacity="0.87"/><path d="M247.4,432.7 Q244.6,427.6 245.7,422.5 Q241.1,417.4 247.4,412.3 Q249.5,407.2 247.0,402.1" fill="none" stroke="#ffe27a" stroke-width="0.8" stroke-linecap="round" opacity="0.73"/><path d="M306.2,382.7 Q307.6,378.8 302.8,374.8 Q300.6,370.8 297.3,366.8 Q301.2,362.9 292.4,358.9" fill="none" stroke="#ffe27a" stroke-width="1.6" stroke-linecap="round" opacity="0.72"/><path d="M231.1,443.8 Q227.2,436.9 234.6,430.0 Q237.5,423.1 234.6,416.2" fill="none" stroke="#ffb020" stroke-width="1.9" stroke-linecap="round" opacity="0.89"/><path d="M353.7,442.5 Q353.7,436.5 360.3,430.5 Q357.7,424.6 363.1,418.6 Q362.2,412.7 366.7,406.7" fill="none" stroke="#ffe27a" stroke-width="1.6" stroke-linecap="round" opacity="0.87"/><path d="M350.0,417.6 Q353.9,409.8 344.7,402.1 Q349.5,394.3 341.6,386.5 Q336.8,378.8 340.8,371.0" fill="none" stroke="#ffb020" stroke-width="1.9" stroke-linecap="round" opacity="0.99"/><path d="M279.9,439.9 Q278.1,432.0 285.7,424.2 Q286.7,416.3 287.6,408.5" fill="none" stroke="#ffb020" stroke-width="0.9" stroke-linecap="round" opacity="0.98"/><path d="M233.5,447.9 Q237.1,438.7 224.6,429.4 Q226.4,420.2 215.3,411.0" fill="none" stroke="#ffc030" stroke-width="1.9" stroke-linecap="round" opacity="0.79"/><path d="M315.1,400.7 Q316.6,393.2 317.6,385.6 Q313.3,378.1 323.1,370.5 Q326.0,363.0 325.7,355.4" fill="none" stroke="#ffd23a" stroke-width="1.7" stroke-linecap="round" opacity="0.82"/><path d="M266.9,430.7 Q268.1,424.9 262.4,419.2 Q266.8,413.4 261.2,407.7" fill="none" stroke="#fff0a0" stroke-width="1.6" stroke-linecap="round" opacity="0.76"/><path d="M300.9,431.3 Q303.0,427.3 302.9,423.2 Q304.2,419.2 305.0,415.1 Q309.3,411.1 303.0,407.1" fill="none" stroke="#ffe27a" stroke-width="1.5" stroke-linecap="round" opacity="0.84"/><path d="M327.8,413.9 Q328.9,406.9 329.7,400.0 Q332.2,393.0 328.7,386.1 Q332.5,379.1 330.1,372.1" fill="none" stroke="#fff0a0" stroke-width="1.2" stroke-linecap="round" opacity="0.82"/><path d="M234.0,454.4 Q230.6,449.2 238.2,443.9 Q234.3,438.7 241.7,433.4 Q240.5,428.2 246.1,422.9" fill="none" stroke="#ffb020" stroke-width="1.2" stroke-linecap="round" opacity="1.0"/><path d="M296.4,426.8 Q291.8,423.7 297.8,420.5 Q297.6,417.4 302.4,414.3 Q302.6,411.2 304.5,408.1" fill="none" stroke="#ffc030" stroke-width="2.0" stroke-linecap="round" opacity="0.9"/><path d="M313.9,390.5 Q315.7,383.3 309.9,376.2 Q311.3,369.0 304.7,361.8 Q300.8,354.6 303.0,347.4" fill="none" stroke="#fff0a0" stroke-width="0.8" stroke-linecap="round" opacity="0.99"/><path d="M307.5,448.1 Q309.6,441.8 305.4,435.4 Q310.2,429.1 304.9,422.8 Q300.3,416.4 301.1,410.1" fill="none" stroke="#ffc030" stroke-width="1.6" stroke-linecap="round" opacity="0.89"/><path d="M259.8,456.5 Q264.1,452.1 255.0,447.8 Q258.9,443.5 255.2,439.1 Q251.5,434.8 252.1,430.5" fill="none" stroke="#ffd23a" stroke-width="1.4" stroke-linecap="round" opacity="0.84"/><path d="M282.4,366.5 Q285.3,361.2 276.8,355.9 Q272.2,350.7 268.8,345.4" fill="none" stroke="#ffb020" stroke-width="0.9" stroke-linecap="round" opacity="0.96"/><path d="M256.0,358.1 Q256.6,352.6 257.9,347.0 Q261.9,341.5 264.4,336.0 Q268.5,330.4 267.4,324.9" fill="none" stroke="#ffd23a" stroke-width="1.1" stroke-linecap="round" opacity="0.75"/><path d="M248.8,359.1 Q247.8,354.3 245.2,349.4 Q242.1,344.5 241.0,339.7 Q244.2,334.8 236.7,329.9" fill="none" stroke="#ffe27a" stroke-width="1.9" stroke-linecap="round" opacity="0.84"/><path d="M259.8,448.5 Q256.7,442.6 268.6,436.8 Q269.9,430.9 278.4,425.0" fill="none" stroke="#ffe27a" stroke-width="1.7" stroke-linecap="round" opacity="0.94"/><path d="M270.4,450.3 Q274.4,446.9 276.7,443.5 Q275.0,440.1 277.7,436.7 Q275.8,433.3 281.2,429.9" fill="none" stroke="#ffe27a" stroke-width="1.3" stroke-linecap="round" opacity="0.7"/><path d="M338.8,397.7 Q340.8,390.1 339.4,382.5 Q344.1,374.9 341.3,367.3 Q344.4,359.8 344.8,352.2" fill="none" stroke="#ffd23a" stroke-width="1.0" stroke-linecap="round" opacity="0.91"/><path d="M293.4,362.6 Q291.0,356.0 288.7,349.4 Q289.8,342.8 285.4,336.2 Q287.2,329.6 282.9,323.0" fill="none" stroke="#fff0a0" stroke-width="1.0" stroke-linecap="round" opacity="0.8"/><path d="M299.4,425.5 Q295.4,417.6 301.3,409.7 Q297.6,401.8 307.6,393.9" fill="none" stroke="#ffc030" stroke-width="1.7" stroke-linecap="round" opacity="0.77"/><path d="M350.8,380.5 Q351.8,375.4 350.9,370.2 Q354.4,365.1 353.6,360.0 Q353.2,354.8 354.1,349.7" fill="none" stroke="#ffc030" stroke-width="1.9" stroke-linecap="round" opacity="0.74"/><path d="M263.0,417.3 Q261.5,412.2 258.7,407.1 Q255.9,402.0 252.0,396.9 Q247.8,391.8 249.2,386.7" fill="none" stroke="#ffd23a" stroke-width="1.8" stroke-linecap="round" opacity="0.87"/><path d="M241.0,373.3 Q238.6,368.1 238.8,362.8 Q237.3,357.6 237.2,352.4 Q234.3,347.2 236.6,341.9" fill="none" stroke="#ffd23a" stroke-width="2.0" stroke-linecap="round" opacity="0.99"/><path d="M258.2,430.9 Q260.0,421.7 261.3,412.4 Q257.9,403.2 262.9,394.0" fill="none" stroke="#ffb020" stroke-width="1.6" stroke-linecap="round" opacity="0.89"/><path d="M272.6,359.4 Q275.3,352.9 273.6,346.4 Q273.9,339.9 272.7,333.4" fill="none" stroke="#ffd23a" stroke-width="1.2" stroke-linecap="round" opacity="0.88"/><path d="M265.9,439.2 Q262.5,433.6 268.5,428.0 Q265.9,422.4 271.3,416.8 Q268.3,411.2 272.4,405.6" fill="none" stroke="#fff0a0" stroke-width="1.2" stroke-linecap="round" opacity="0.81"/><path d="M277.9,418.9 Q280.0,413.0 280.1,407.0 Q281.0,401.0 280.5,395.1 Q283.8,389.1 280.7,383.2" fill="none" stroke="#ffd23a" stroke-width="1.1" stroke-linecap="round" opacity="0.87"/><path d="M285.6,360.7 Q290.1,356.4 289.1,352.1 Q291.1,347.8 294.1,343.4 Q289.2,339.1 296.1,334.8" fill="none" stroke="#ffb020" stroke-width="1.2" stroke-linecap="round" opacity="0.76"/><path d="M269.5,420.1 Q270.6,408.1 261.6,396.1 Q263.9,384.1 253.5,372.1" fill="none" stroke="#fff0a0" stroke-width="1.6" stroke-linecap="round" opacity="0.8"/><path d="M309.6,370.6 Q307.6,364.0 313.6,357.4 Q315.0,350.8 316.3,344.2 Q319.1,337.6 316.8,331.0" fill="none" stroke="#ffe27a" stroke-width="1.8" stroke-linecap="round" opacity="0.96"/><path d="M275.1,412.2 Q278.9,407.2 275.0,402.2 Q274.6,397.2 273.1,392.2 Q268.9,387.2 270.8,382.2" fill="none" stroke="#ffe27a" stroke-width="1.1" stroke-linecap="round" opacity="0.97"/><path d="M224.2,422.5 Q228.3,415.6 224.5,408.7 Q220.0,401.7 227.1,394.8 Q222.6,387.9 226.2,380.9" fill="none" stroke="#fff0a0" stroke-width="1.3" stroke-linecap="round" opacity="0.79"/><path d="M264.6,398.7 Q265.4,389.5 270.3,380.3 Q269.8,371.1 272.0,361.9" fill="none" stroke="#fff0a0" stroke-width="1.2" stroke-linecap="round" opacity="0.93"/><path d="M256.8,436.7 Q259.7,425.5 263.4,414.4 Q260.5,403.2 267.8,392.1" fill="none" stroke="#fff0a0" stroke-width="1.0" stroke-linecap="round" opacity="0.93"/><path d="M329.5,429.2 Q329.2,422.3 333.6,415.4 Q331.0,408.6 337.5,401.7" fill="none" stroke="#fff0a0" stroke-width="1.4" stroke-linecap="round" opacity="0.84"/><path d="M294.9,446.2 Q296.6,433.7 300.8,421.3 Q302.9,408.8 307.4,396.3" fill="none" stroke="#ffd23a" stroke-width="1.9" stroke-linecap="round" opacity="0.92"/><path d="M296.7,401.0 Q295.3,396.3 296.4,391.5 Q296.6,386.7 295.9,381.9 Q296.8,377.2 294.5,372.4" fill="none" stroke="#fff0a0" stroke-width="0.9" stroke-linecap="round" opacity="0.88"/><path d="M260.3,358.3 Q262.7,351.9 260.9,345.6 Q259.0,339.2 263.4,332.8 Q261.2,326.5 264.5,320.1" fill="none" stroke="#ffb020" stroke-width="1.8" stroke-linecap="round" opacity="0.7"/><path d="M259.5,428.3 Q262.5,422.9 261.7,417.5 Q259.7,412.1 262.7,406.7" fill="none" stroke="#fff0a0" stroke-width="1.8" stroke-linecap="round" opacity="0.77"/><path d="M352.4,451.6 Q357.4,447.8 357.4,444.0 Q354.5,440.1 359.9,436.3 Q361.0,432.5 365.2,428.7" fill="none" stroke="#ffb020" stroke-width="1.7" stroke-linecap="round" opacity="0.86"/><path d="M349.6,420.2 Q346.6,415.3 349.5,410.3 Q346.7,405.4 354.7,400.4 Q354.5,395.5 356.7,390.5" fill="none" stroke="#ffc030" stroke-width="1.8" stroke-linecap="round" opacity="0.97"/><path d="M335.8,390.2 Q333.5,379.6 328.6,369.1 Q326.8,358.6 321.1,348.1" fill="none" stroke="#ffc030" stroke-width="0.9" stroke-linecap="round" opacity="0.8"/><path d="M276.2,395.8 Q276.2,389.3 283.3,382.7 Q284.4,376.2 289.1,369.6 Q287.0,363.1 293.7,356.6" fill="none" stroke="#fff0a0" stroke-width="1.5" stroke-linecap="round" opacity="0.99"/><path d="M232.9,408.9 Q232.7,405.3 239.9,401.8 Q242.9,398.3 245.4,394.8 Q245.3,391.2 248.1,387.7" fill="none" stroke="#ffd23a" stroke-width="1.2" stroke-linecap="round" opacity="1.0"/><path d="M334.2,454.7 Q335.7,443.5 327.9,432.3 Q327.1,421.2 322.6,410.0" fill="none" stroke="#ffb020" stroke-width="1.8" stroke-linecap="round" opacity="0.99"/><path d="M326.9,366.4 Q322.8,359.6 324.9,352.7 Q320.6,345.9 325.7,339.1" fill="none" stroke="#ffb020" stroke-width="1.0" stroke-linecap="round" opacity="0.75"/><path d="M249.2,429.0 Q252.9,424.8 253.6,420.6 Q256.7,416.4 258.5,412.2 Q259.7,408.0 263.0,403.8" fill="none" stroke="#ffc030" stroke-width="1.3" stroke-linecap="round" opacity="0.71"/><path d="M351.9,408.8 Q352.0,403.7 355.3,398.6 Q351.1,393.5 356.9,388.4" fill="none" stroke="#ffd23a" stroke-width="1.7" stroke-linecap="round" opacity="0.76"/><path d="M251.9,367.1 Q251.7,357.8 249.6,348.5 Q246.1,339.2 245.1,329.8" fill="none" stroke="#ffb020" stroke-width="2.0" stroke-linecap="round" opacity="0.89"/><path d="M346.4,397.8 Q345.9,392.3 351.8,386.9 Q356.3,381.5 355.5,376.0 Q359.1,370.6 355.3,365.2" fill="none" stroke="#ffc030" stroke-width="1.8" stroke-linecap="round" opacity="0.96"/><path d="M277.3,363.9 Q277.5,352.9 273.7,341.8 Q275.0,330.8 267.4,319.8" fill="none" stroke="#ffc030" stroke-width="0.9" stroke-linecap="round" opacity="0.97"/><path d="M262.4,407.5 Q262.5,399.4 260.0,391.2 Q259.7,383.1 260.2,375.0 Q257.1,366.9 256.1,358.8" fill="none" stroke="#ffe27a" stroke-width="1.0" stroke-linecap="round" opacity="0.85"/><path d="M290.2,398.9 Q290.3,394.3 286.2,389.7 Q283.3,385.1 282.9,380.6 Q286.8,376.0 282.6,371.4" fill="none" stroke="#fff0a0" stroke-width="1.4" stroke-linecap="round" opacity="0.86"/><path d="M312.5,449.8 Q310.6,438.2 319.3,426.6 Q315.8,415.0 325.2,403.5" fill="none" stroke="#ffe27a" stroke-width="1.6" stroke-linecap="round" opacity="0.97"/><path d="M277.3,355.1 Q276.0,351.1 278.6,347.1 Q274.0,343.1 283.1,339.1 Q284.9,335.1 286.2,331.1" fill="none" stroke="#ffd23a" stroke-width="1.9" stroke-linecap="round" opacity="0.88"/><path d="M225.5,422.2 Q229.9,414.5 230.8,406.7 Q227.6,399.0 234.5,391.3" fill="none" stroke="#fff0a0" stroke-width="1.0" stroke-linecap="round" opacity="0.89"/><path d="M257.2,456.9 Q259.6,449.9 261.5,442.9 Q263.4,435.8 265.7,428.8 Q263.4,421.8 269.8,414.7" fill="none" stroke="#ffd23a" stroke-width="1.1" stroke-linecap="round" opacity="0.93"/><path d="M319.5,426.8 Q321.2,416.1 314.9,405.5 Q311.1,394.8 307.9,384.2" fill="none" stroke="#fff0a0" stroke-width="1.8" stroke-linecap="round" opacity="0.75"/><path d="M313.6,339.3 Q310.4,334.0 318.8,328.6 Q317.8,323.2 319.6,317.9 Q317.9,312.5 322.7,307.2" fill="none" stroke="#ffe27a" stroke-width="1.0" stroke-linecap="round" opacity="0.9"/><path d="M294.8,311.7 Q297.1,308.2 294.3,304.8 Q293.3,301.3 295.5,297.9 Q292.5,294.4 297.1,290.9" fill="none" stroke="#ffe27a" stroke-width="1.2" stroke-linecap="round" opacity="0.9"/><path d="M331.1,352.7 Q333.9,350.0 332.9,347.3 Q329.3,344.7 329.5,342.0 Q330.6,339.3 329.5,336.7" fill="none" stroke="#ffc030" stroke-width="1.1" stroke-linecap="round" opacity="0.9"/><path d="M286.8,324.2 Q283.3,317.2 287.0,310.3 Q290.5,303.3 288.3,296.4" fill="none" stroke="#ffd23a" stroke-width="1.6" stroke-linecap="round" opacity="0.9"/><path d="M341.9,352.2 Q338.1,348.6 344.3,344.9 Q348.8,341.3 343.9,337.6 Q342.5,334.0 343.4,330.3" fill="none" stroke="#ffc030" stroke-width="1.7" stroke-linecap="round" opacity="0.9"/><path d="M316.1,353.1 Q314.8,347.6 318.4,342.1 Q320.6,336.6 318.8,331.1 Q321.4,325.7 318.2,320.2" fill="none" stroke="#ffc030" stroke-width="1.2" stroke-linecap="round" opacity="0.9"/><path d="M295.7,345.2 Q298.4,340.6 302.1,336.0 Q307.0,331.4 302.9,326.8" fill="none" stroke="#ffd23a" stroke-width="1.5" stroke-linecap="round" opacity="0.9"/><path d="M294.9,319.2 Q293.5,315.7 295.1,312.2 Q293.4,308.7 292.6,305.1 Q291.8,301.6 292.6,298.1" fill="none" stroke="#ffe27a" stroke-width="1.4" stroke-linecap="round" opacity="0.9"/><path d="M326.6,330.6 Q331.2,325.4 325.2,320.3 Q327.7,315.1 327.3,310.0 Q331.9,304.8 329.4,299.7" fill="none" stroke="#ffc030" stroke-width="1.2" stroke-linecap="round" opacity="0.9"/><path d="M284.7,341.7 Q286.1,333.8 285.8,325.9 Q285.0,318.1 283.2,310.2" fill="none" stroke="#ffb020" stroke-width="1.0" stroke-linecap="round" opacity="0.9"/><path d="M347.5,367.4 Q343.1,364.7 348.3,362.1 Q352.8,359.5 348.7,356.8 Q345.9,354.2 347.8,351.5" fill="none" stroke="#ffe27a" stroke-width="1.1" stroke-linecap="round" opacity="0.9"/><path d="M278.3,370.6 Q273.5,366.2 281.5,361.7 Q277.8,357.3 281.5,352.9 Q281.5,348.4 282.7,344.0" fill="none" stroke="#ffd23a" stroke-width="1.5" stroke-linecap="round" opacity="0.9"/><path d="M306.0,345.4 Q303.5,341.8 308.2,338.1 Q305.9,334.4 306.7,330.7 Q308.7,327.1 308.6,323.4" fill="none" stroke="#ffe27a" stroke-width="1.3" stroke-linecap="round" opacity="0.9"/><path d="M288.6,316.2 Q292.3,310.7 282.5,305.2 Q281.2,299.6 281.1,294.1" fill="none" stroke="#ffe27a" stroke-width="1.2" stroke-linecap="round" opacity="0.9"/><path d="M316.1,323.2 Q316.5,314.7 317.3,306.2 Q313.0,297.7 320.4,289.2" fill="none" stroke="#ffe27a" stroke-width="1.8" stroke-linecap="round" opacity="0.9"/><path d="M283.9,325.1 Q286.9,322.2 281.3,319.3 Q283.3,316.3 276.3,313.4 Q275.1,310.4 271.4,307.5" fill="none" stroke="#ffb020" stroke-width="1.6" stroke-linecap="round" opacity="0.9"/><path d="M324.9,362.5 Q321.0,358.0 325.1,353.4 Q328.1,348.8 322.7,344.3 Q324.3,339.7 321.3,335.2" fill="none" stroke="#ffd23a" stroke-width="1.8" stroke-linecap="round" opacity="0.9"/><path d="M303.6,313.2 Q301.0,306.0 302.9,298.8 Q300.7,291.6 302.5,284.4" fill="none" stroke="#ffe27a" stroke-width="0.9" stroke-linecap="round" opacity="0.9"/><path d="M334.0,334.0 Q333.5,326.2 335.1,318.5 Q340.0,310.7 335.9,303.0" fill="none" stroke="#ffc030" stroke-width="1.4" stroke-linecap="round" opacity="0.9"/><path d="M345.6,346.9 Q345.3,341.6 346.5,336.4 Q348.6,331.1 345.9,325.8" fill="none" stroke="#ffb020" stroke-width="1.2" stroke-linecap="round" opacity="0.9"/><path d="M293.0,327.2 Q293.3,323.1 290.6,318.9 Q287.3,314.8 288.6,310.6 Q290.0,306.5 283.9,302.3" fill="none" stroke="#ffc030" stroke-width="0.9" stroke-linecap="round" opacity="0.9"/><path d="M281.3,361.3 Q276.9,354.6 285.2,347.9 Q289.4,341.2 288.2,334.6" fill="none" stroke="#ffc030" stroke-width="1.7" stroke-linecap="round" opacity="0.9"/><path d="M291.3,325.2 Q287.2,320.6 295.0,316.0 Q293.1,311.3 299.6,306.7 Q298.8,302.0 302.7,297.4" fill="none" stroke="#ffe27a" stroke-width="1.8" stroke-linecap="round" opacity="0.9"/><path d="M311.5,329.3 Q308.7,323.5 312.0,317.7 Q311.2,311.9 314.0,306.1 Q309.3,300.3 312.8,294.5" fill="none" stroke="#ffc030" stroke-width="1.5" stroke-linecap="round" opacity="0.9"/><path d="M277.6,341.3 Q277.0,335.0 273.7,328.7 Q275.9,322.5 270.5,316.2" fill="none" stroke="#ffd23a" stroke-width="1.2" stroke-linecap="round" opacity="0.9"/><path d="M304.4,366.3 Q302.9,361.0 305.2,355.6 Q305.5,350.2 304.0,344.8 Q302.2,339.4 305.9,334.0" fill="none" stroke="#ffb020" stroke-width="1.0" stroke-linecap="round" opacity="0.9"/><path d="M311.0,337.8 Q314.8,332.9 307.0,328.0 Q311.2,323.1 304.7,318.2 Q307.6,313.3 304.6,308.5" fill="none" stroke="#ffd23a" stroke-width="1.0" stroke-linecap="round" opacity="0.9"/><path d="M277.8,333.8 Q274.7,330.3 275.3,326.8 Q270.4,323.3 273.3,319.8 Q272.5,316.3 271.9,312.8" fill="none" stroke="#ffb020" stroke-width="1.3" stroke-linecap="round" opacity="0.9"/><path d="M289.8,326.5 Q293.8,321.6 287.9,316.6 Q285.4,311.6 285.0,306.6 Q285.5,301.7 286.1,296.7" fill="none" stroke="#ffc030" stroke-width="0.8" stroke-linecap="round" opacity="0.9"/><path d="M341.2,343.8 Q338.2,336.6 338.3,329.5 Q340.8,322.3 338.1,315.2" fill="none" stroke="#ffc030" stroke-width="1.1" stroke-linecap="round" opacity="0.9"/><path d="M301.4,355.3 Q302.9,349.8 301.4,344.4 Q301.2,339.0 303.7,333.6" fill="none" stroke="#ffd23a" stroke-width="0.9" stroke-linecap="round" opacity="0.9"/><path d="M279.0,323.4 Q279.2,317.3 274.3,311.2 Q275.0,305.1 271.6,299.0" fill="none" stroke="#ffc030" stroke-width="1.1" stroke-linecap="round" opacity="0.9"/><path d="M326.0,327.6 Q324.6,322.2 325.6,316.8 Q326.6,311.3 328.0,305.9 Q325.3,300.5 328.4,295.0" fill="none" stroke="#ffb020" stroke-width="0.9" stroke-linecap="round" opacity="0.9"/><path d="M287.7,323.6 Q292.4,319.9 285.4,316.1 Q280.5,312.3 281.5,308.5" fill="none" stroke="#ffb020" stroke-width="1.4" stroke-linecap="round" opacity="0.9"/><path d="M304.6,343.2 Q307.5,336.5 305.1,329.7 Q306.0,323.0 301.5,316.2" fill="none" stroke="#ffc030" stroke-width="1.2" stroke-linecap="round" opacity="0.9"/><path d="M229.2,432.4 Q228.5,430.1 228.7,427.9 Q233.0,425.6 231.2,423.3 Q232.2,421.0 230.3,418.7" fill="none" stroke="#ff9418" stroke-width="1.0" stroke-linecap="round" opacity="0.85"/><path d="M178.5,436.5 Q180.9,434.4 175.7,432.4 Q179.9,430.3 176.9,428.2 Q174.4,426.1 178.2,424.1" fill="none" stroke="#ffd23a" stroke-width="0.9" stroke-linecap="round" opacity="0.85"/><path d="M176.4,449.8 Q175.4,447.7 173.8,445.6 Q177.0,443.5 174.1,441.4" fill="none" stroke="#ffb424" stroke-width="1.1" stroke-linecap="round" opacity="0.85"/><path d="M185.6,454.7 Q183.8,451.6 184.1,448.6 Q179.9,445.6 184.8,442.5" fill="none" stroke="#ff9418" stroke-width="0.9" stroke-linecap="round" opacity="0.85"/><path d="M182.5,459.5 Q179.8,457.2 180.3,454.9 Q179.5,452.5 180.2,450.2" fill="none" stroke="#ff9418" stroke-width="1.2" stroke-linecap="round" opacity="0.85"/><path d="M235.6,458.1 Q234.7,454.0 235.6,449.9 Q235.5,445.8 232.4,441.7" fill="none" stroke="#ffb424" stroke-width="1.2" stroke-linecap="round" opacity="0.85"/><path d="M198.2,448.7 Q199.5,446.9 197.2,445.2 Q199.1,443.4 200.1,441.6" fill="none" stroke="#ffd23a" stroke-width="1.0" stroke-linecap="round" opacity="0.85"/><path d="M183.6,459.4 Q181.1,457.8 181.8,456.3 Q177.9,454.7 180.8,453.1 Q179.9,451.5 180.7,449.9" fill="none" stroke="#ffb424" stroke-width="1.0" stroke-linecap="round" opacity="0.85"/><path d="M221.3,452.3 Q225.0,450.2 220.2,448.1 Q222.9,445.9 219.3,443.8" fill="none" stroke="#ffd23a" stroke-width="1.3" stroke-linecap="round" opacity="0.85"/><path d="M220.4,435.7 Q225.2,434.5 219.2,433.2 Q223.5,431.9 220.8,430.7 Q225.7,429.4 220.8,428.2" fill="none" stroke="#ffb424" stroke-width="1.3" stroke-linecap="round" opacity="0.85"/><path d="M205.3,459.7 Q201.3,456.2 209.4,452.8 Q211.1,449.3 211.4,445.8" fill="none" stroke="#ffd23a" stroke-width="1.1" stroke-linecap="round" opacity="0.85"/><path d="M219.0,435.5 Q214.5,433.3 220.3,431.0 Q215.5,428.7 221.6,426.4" fill="none" stroke="#ffb424" stroke-width="1.5" stroke-linecap="round" opacity="0.85"/><path d="M177.0,452.0 Q177.1,449.6 177.5,447.2 Q179.5,444.8 178.2,442.4" fill="none" stroke="#ffd23a" stroke-width="1.1" stroke-linecap="round" opacity="0.85"/><path d="M211.9,447.0 Q209.8,444.5 207.3,442.1 Q206.4,439.6 202.7,437.2" fill="none" stroke="#ffb424" stroke-width="1.2" stroke-linecap="round" opacity="0.85"/></g><linearGradient id="gTray" x1="0" y1="0" x2="0" y2="1"><stop offset="0" stop-color="#d42a2a"/><stop offset="1" stop-color="#8a1010"/></linearGradient><path d="M261,291 L392,291 L383,306 L262,308.5 Z" fill="url(#gTray)"/><path d="M268,294.8 L392,291.8" stroke="#ffe000" stroke-width="1.6"/><path d="M313,152 C311,141.0 315,141.0 313,134" stroke="#a8c8f0" stroke-width="2.2" fill="none" opacity="0.9"/><path d="M310.2,135 L313,130 L315.8,135 Z" fill="#a8c8f0"/><path d="M350,153 C348,140.5 352,140.5 350,132" stroke="#a8c8f0" stroke-width="2.2" fill="none" opacity="0.9"/><path d="M347.2,133 L350,128 L352.8,133 Z" fill="#a8c8f0"/><path d="M310,328 C308,314.5 312,314.5 310,305" stroke="#a8c8f0" stroke-width="2.2" fill="none" opacity="0.9"/><path d="M307.2,306 L310,301 L312.8,306 Z" fill="#a8c8f0"/><path d="M338,330 C336,314.5 340,314.5 338,303" stroke="#a8c8f0" stroke-width="2.2" fill="none" opacity="0.9"/><path d="M335.2,304 L338,299 L340.8,304 Z" fill="#a8c8f0"/><path d="M330,448 C328,436.5 332,436.5 330,429" stroke="#a8c8f0" stroke-width="2.2" fill="none" opacity="0.9"/><path d="M327.2,430 L330,425 L332.8,430 Z" fill="#a8c8f0"/><path d="M300,456 C302,446 306,440 312,434" stroke="#a8c8f0" stroke-width="2.2" fill="none"/><path d="M309,432 L314,431 L313,437 Z" fill="#a8c8f0"/><path d="M158,353 L170,349 L180,349 L180,338 L195,338 L245,357 L262,358 L262,361 L163,367 L158,365 Z" fill="#3a3a3c"/><path d="M170,349 L180,349 L180,338 L195,338 L245,357 L235,357 L190,341 L182,341 L182,352 L170,353 Z" fill="#2a2a2c"/><path d="M163,366.5 L262,360.5" stroke="#2418e0" stroke-width="2.6"/><path d="M262,298 L262,360" stroke="#2418e0" stroke-width="2.6"/><path d="M382,296 L382,312 L351,312 L351,336 L382,336 L382,493" fill="none" stroke="#2418e0" stroke-width="2.8"/><path d="M261,358.5 L245,358.5" stroke="#2418e0" stroke-width="2.6"/><path d="M262,318 L294,318 L294,341 L262,341 Z" fill="#343436" stroke="#2418e0" stroke-width="2.6"/><path d="M165,468 L382,446 L382,481 L300,490 L252,500 L165,510 Z" fill="#2a2a2e"/><path d="M228,470 L382,455 L382,481 L228,496 Z" fill="#3a2418"/><path d="M228,486 C245,476 270,468 300,463 C320,462 338,466 352,476 L352,478 L228,489 Z" fill="#5a5856"/><rect x="322.3" y="473.0" width="1" height="1" fill="#9a9896"/><rect x="271.3" y="476.3" width="1" height="1" fill="#7a7876"/><rect x="248.8" y="482.0" width="1" height="1" fill="#7a7876"/><rect x="312.1" y="476.1" width="1" height="1" fill="#2a2826"/><rect x="265.9" y="477.2" width="1" height="1" fill="#7a7876"/><rect x="286.3" y="467.7" width="1" height="1" fill="#9a9896"/><rect x="267.1" y="475.0" width="1" height="1" fill="#2a2826"/><rect x="279.4" y="481.4" width="1" height="1" fill="#9a9896"/><rect x="311.3" y="473.0" width="1" height="1" fill="#9a9896"/><rect x="304.4" y="471.5" width="1" height="1" fill="#7a7876"/><rect x="276.6" y="477.9" width="1" height="1" fill="#9a9896"/><rect x="342.3" y="475.6" width="1" height="1" fill="#7a7876"/><rect x="247.3" y="485.8" width="1" height="1" fill="#7a7876"/><rect x="323.0" y="473.0" width="1" height="1" fill="#2a2826"/><rect x="340.1" y="473.4" width="1" height="1" fill="#7a7876"/><rect x="273.4" y="478.9" width="1" height="1" fill="#9a9896"/><rect x="289.0" y="481.5" width="1" height="1" fill="#2a2826"/><rect x="292.8" y="473.5" width="1" height="1" fill="#7a7876"/><rect x="345.0" y="473.1" width="1" height="1" fill="#9a9896"/><rect x="308.0" y="475.0" width="1" height="1" fill="#7a7876"/><rect x="293.2" y="467.4" width="1" height="1" fill="#9a9896"/><rect x="276.3" y="482.6" width="1" height="1" fill="#2a2826"/><rect x="281.4" y="480.7" width="1" height="1" fill="#2a2826"/><rect x="285.3" y="475.8" width="1" height="1" fill="#9a9896"/><rect x="253.7" y="484.5" width="1" height="1" fill="#7a7876"/><rect x="294.8" y="471.2" width="1" height="1" fill="#2a2826"/><rect x="328.1" y="475.1" width="1" height="1" fill="#9a9896"/><rect x="291.5" y="481.7" width="1" height="1" fill="#9a9896"/><rect x="288.0" y="469.5" width="1" height="1" fill="#7a7876"/><rect x="278.1" y="477.4" width="1" height="1" fill="#7a7876"/><rect x="260.3" y="484.0" width="1" height="1" fill="#7a7876"/><rect x="296.4" y="471.3" width="1" height="1" fill="#2a2826"/><rect x="339.1" y="473.6" width="1" height="1" fill="#2a2826"/><rect x="337.7" y="473.3" width="1" height="1" fill="#2a2826"/><rect x="278.9" y="483.1" width="1" height="1" fill="#7a7876"/><rect x="296.7" y="471.3" width="1" height="1" fill="#7a7876"/><rect x="279.0" y="478.7" width="1" height="1" fill="#9a9896"/><rect x="305.7" y="473.4" width="1" height="1" fill="#7a7876"/><rect x="271.2" y="477.5" width="1" height="1" fill="#2a2826"/><rect x="305.0" y="474.3" width="1" height="1" fill="#9a9896"/><rect x="342.6" y="474.8" width="1" height="1" fill="#2a2826"/><rect x="274.8" y="468.4" width="1" height="1" fill="#7a7876"/><rect x="322.6" y="471.7" width="1" height="1" fill="#9a9896"/><rect x="296.3" y="466.5" width="1" height="1" fill="#7a7876"/><rect x="276.8" y="478.7" width="1" height="1" fill="#9a9896"/><rect x="323.5" y="473.5" width="1" height="1" fill="#9a9896"/><rect x="324.1" y="468.1" width="1" height="1" fill="#7a7876"/><rect x="317.1" y="475.6" width="1" height="1" fill="#9a9896"/><rect x="249.1" y="482.6" width="1" height="1" fill="#2a2826"/><rect x="305.3" y="468.9" width="1" height="1" fill="#2a2826"/><rect x="270.2" y="475.2" width="1" height="1" fill="#7a7876"/><rect x="286.7" y="478.3" width="1" height="1" fill="#2a2826"/><rect x="307.3" y="477.2" width="1" height="1" fill="#2a2826"/><rect x="320.2" y="476.0" width="1" height="1" fill="#9a9896"/><rect x="267.1" y="472.5" width="1" height="1" fill="#9a9896"/><rect x="257.9" y="481.6" width="1" height="1" fill="#9a9896"/><rect x="278.0" y="469.6" width="1" height="1" fill="#2a2826"/><rect x="258.6" y="484.1" width="1" height="1" fill="#7a7876"/><rect x="267.2" y="479.2" width="1" height="1" fill="#9a9896"/><rect x="289.1" y="481.0" width="1" height="1" fill="#7a7876"/><rect x="309.8" y="475.9" width="1" height="1" fill="#9a9896"/><rect x="298.5" y="467.8" width="1" height="1" fill="#2a2826"/><rect x="346.4" y="474.0" width="1" height="1" fill="#2a2826"/><rect x="284.3" y="482.9" width="1" height="1" fill="#9a9896"/><rect x="334.1" y="473.7" width="1" height="1" fill="#2a2826"/><rect x="326.8" y="467.5" width="1" height="1" fill="#2a2826"/><rect x="249.9" y="481.2" width="1" height="1" fill="#2a2826"/><rect x="284.3" y="475.7" width="1" height="1" fill="#9a9896"/><rect x="297.6" y="479.9" width="1" height="1" fill="#9a9896"/><rect x="318.9" y="476.5" width="1" height="1" fill="#9a9896"/><rect x="258.9" y="481.5" width="1" height="1" fill="#2a2826"/><rect x="300.9" y="476.3" width="1" height="1" fill="#9a9896"/><rect x="317.7" y="476.2" width="1" height="1" fill="#9a9896"/><rect x="305.8" y="469.1" width="1" height="1" fill="#9a9896"/><rect x="312.8" y="479.9" width="1" height="1" fill="#2a2826"/><rect x="306.2" y="472.8" width="1" height="1" fill="#7a7876"/><rect x="316.0" y="470.7" width="1" height="1" fill="#9a9896"/><rect x="334.0" y="473.0" width="1" height="1" fill="#7a7876"/><rect x="247.3" y="482.9" width="1" height="1" fill="#2a2826"/><rect x="281.9" y="474.6" width="1" height="1" fill="#9a9896"/><rect x="336.8" y="475.8" width="1" height="1" fill="#2a2826"/><rect x="336.1" y="472.1" width="1" height="1" fill="#7a7876"/><rect x="272.3" y="483.4" width="1" height="1" fill="#7a7876"/><rect x="325.0" y="473.7" width="1" height="1" fill="#7a7876"/><rect x="304.8" y="475.8" width="1" height="1" fill="#9a9896"/><rect x="317.3" y="473.0" width="1" height="1" fill="#9a9896"/><rect x="273.2" y="481.5" width="1" height="1" fill="#7a7876"/><rect x="277.2" y="468.2" width="1" height="1" fill="#9a9896"/><rect x="313.1" y="468.5" width="1" height="1" fill="#2a2826"/><rect x="305.0" y="466.6" width="1" height="1" fill="#9a9896"/><rect x="334.8" y="475.3" width="1" height="1" fill="#7a7876"/><rect x="304.8" y="475.7" width="1" height="1" fill="#9a9896"/><rect x="328.1" y="469.3" width="1" height="1" fill="#2a2826"/><rect x="306.4" y="467.1" width="1" height="1" fill="#9a9896"/><rect x="277.8" y="469.7" width="1" height="1" fill="#7a7876"/><path d="M165,480 L228,474" stroke="#2418e0" stroke-width="1.4"/><path d="M165,489 L228,481 L228,486 L165,495 Z" fill="#5a5a5c"/><path d="M165,467.5 L382,445.5 L382,451.5 L165,474 Z" fill="#2418e0"/><path d="M163,510 L252,500 L300,490 L382,481" fill="none" stroke="#2418e0" stroke-width="2.6"/><rect x="365" y="452" width="15" height="30" fill="#333336"/><path d="M158,352 L168,356 L168,512 L158,514 Z" fill="#3a3a3d"/><path d="M163,360 L165,360 L165,505 L163,505 Z" fill="#55565a"/><path d="M200,489 C215,484 232,488 250,483" stroke="#d6e8f8" stroke-width="3" fill="none"/><path d="M248,479 L256,483 L248,486 Z" fill="#d6e8f8"/><clipPath id="cs8"><path d="M164,510 h42 v13 h-42 Z"/></clipPath><path d="M164,510 h42 v13 h-42 Z" fill="#b0b0b0"/><g clip-path="url(#cs8)"><ellipse cx="182.1" cy="514.1" rx="6.6" ry="2.1" fill="#c8c8c8" opacity="0.4" transform="rotate(30 182.1 514.1)"/><ellipse cx="165.4" cy="510.3" rx="7.8" ry="2.7" fill="#c8c8c8" opacity="0.4" transform="rotate(35 165.4 510.3)"/><ellipse cx="175.2" cy="520.4" rx="6.9" ry="1.7" fill="#c8c8c8" opacity="0.4" transform="rotate(44 175.2 520.4)"/><ellipse cx="181.2" cy="520.0" rx="14.9" ry="2.4" fill="#989898" opacity="0.4" transform="rotate(61 181.2 520.0)"/><path d="M199.5,515.2 L189.9,503.6 L182.0,492.7 L177.0,482.0 L175.4,474.2" fill="none" stroke="#f4f4f4" stroke-opacity="0.8" stroke-width="0.6"/></g><rect x="345" y="484" width="22" height="13" fill="#a8a8a8"/><path d="M216,502 L240,499 L240,520 L234,518 L228,523 L216,525 Z" fill="#2a2a2a"/><path d="M216,502 L222,501 L222,524 L216,525 Z" fill="#3a3a3c"/><path d="M311,488 L346,485 L346,505 Q330,500 312,507 Z" fill="#262628"/><text x="290" y="491" style="font-family:'Liberation Sans',sans-serif;font-weight:bold;font-size:11px;stroke:none;fill:#e4ecf8" opacity="0.45" textLength="148" lengthAdjust="spacingAndGlyphs">РОДНЫЙ КАМИН</text><path d="M183.7,161 L240.5,160 L240.5,278 L183.7,272.5 Z" fill="#38383a"/><path d="M188,174 L216,174 L224,182 L224,266 L188,266 Z" fill="#424244"/><path d="M216,174 L224,182 L224,266 L221,266 L221,183 L215,177 Z" fill="#2c2c2e"/><rect x="226" y="176" width="9" height="90" fill="#2a2a2c"/><rect x="226" y="176" width="1.2" height="90" fill="#5a5a5c"/><path d="M186,214 L193,206 L196,209 L202,199 L206,203 L209,200 L217,213" fill="none" stroke="#151515" stroke-width="1.2"/><path d="M194,207 L198,214 M202,200 L204,212 M209,201 L212,212" stroke="#151515" stroke-width="0.6"/><path d="M193,218 Q205,213 218,218 M195,222 Q206,218 217,222 M198,226 Q207,222 215,226" stroke="#151515" stroke-width="0.8" fill="none"/><circle cx="186.5" cy="172" r="1.4" fill="#9a9a9a"/><circle cx="186.5" cy="172" r="0.6" fill="#333"/><circle cx="208.5" cy="174" r="1.4" fill="#9a9a9a"/><circle cx="208.5" cy="174" r="0.6" fill="#333"/><circle cx="232" cy="177" r="1.4" fill="#9a9a9a"/><circle cx="232" cy="177" r="0.6" fill="#333"/><circle cx="233" cy="222" r="1.4" fill="#9a9a9a"/><circle cx="233" cy="222" r="0.6" fill="#333"/><circle cx="233" cy="266" r="1.4" fill="#9a9a9a"/><circle cx="233" cy="266" r="0.6" fill="#333"/><circle cx="186.5" cy="258" r="1.4" fill="#9a9a9a"/><circle cx="186.5" cy="258" r="0.6" fill="#333"/><circle cx="209" cy="262" r="1.4" fill="#9a9a9a"/><circle cx="209" cy="262" r="0.6" fill="#333"/><path d="M97,330 L157,348 Q161,349.5 161,354 L161,541 Q161,546 156,544 L97,513 Q93,511 93,506 L93,334 Q93,329 97,330 Z" fill="#3b3c3f"/><path d="M91,503 L91,375 C91,358 104,347 121,347 C140,347 155,362 155,387 L155,539 Q155,541 152,540 L94,509 Q91,507 91,503 Z" fill="#37383b"/><path d="M93,505 L93,375 C93,360 105,349.5 121,349.5 C139,349.5 153,363 153,387 L153,537" fill="none" stroke="#c8a850" stroke-width="1.1" stroke-dasharray="0.8,0.9"/><path d="M96,468 L96,366 Q96,360 103,360 C124,360 140,372 142,394 L142,482 Z" fill="#2e2f32"/><path d="M138,390 L138,478" stroke="#c0a050" stroke-width="0.9" stroke-dasharray="0.8,1"/><path d="M99,463 L99,367 C120,365 135,375 137.5,394 L137.5,477 Z" fill="#151515"/><path d="M101,462 L101,368.5 C120,367 134,377 136.5,395 L136.5,475.5 Z" fill="url(#gGlass)"/><rect x="141" y="396" width="14" height="16" rx="2" fill="#2c2d30"/><rect x="142" y="503" width="13" height="22" rx="2" fill="#2c2d30"/><rect x="142" y="508" width="13" height="1" fill="#4a4a4c"/><path d="M96,474 L150,490 L150,533 L96,505 Z" fill="#333437"/><path d="M96,476 L150,492" stroke="#8a7440" stroke-width="0.6"/><path d="M96,503 L150,531" stroke="#8a7440" stroke-width="0.6"/><rect x="101" y="480.5" width="2.2" height="17" fill="#1a1a1c"/><rect x="108" y="482.6" width="2.2" height="17" fill="#1a1a1c"/><rect x="115" y="484.7" width="2.2" height="17" fill="#1a1a1c"/><rect x="135" y="490.7" width="2.2" height="17" fill="#1a1a1c"/><rect x="142" y="492.8" width="2.2" height="17" fill="#1a1a1c"/><path d="M118,484 L124,482 L128,494 L120,498 Z" fill="#4a4238"/><path d="M92,412.5 C86,412 81,415 80,421 C80,426 82,429 84.5,430 L72,446 L78,449.5 L88.5,432.5 C90.5,430.5 92,429.5 92,428 Z" fill="#3a3a3e"/><path d="M84.5,430 L72,446 L74.5,447.5 L86.5,431 Z" fill="#242426"/><path d="M42,484 C62,480 82,488 102,484" stroke="url(#gAir)" stroke-width="4.5" fill="none"/><path d="M97,479 L107,484 L97,489 Z" fill="#8ec0f0"/><path d="M58,504 C80,499 104,508 128,502" stroke="url(#gAir)" stroke-width="4.5" fill="none"/><path d="M123,497 L133,502 L123,507 Z" fill="#8ec0f0"/>
<g fill="none" stroke="#222" stroke-width="0.9"><path d="M19.8,42.3 L250.5,42.3"/><path d="M168.3,42.3 L200,57"/><path d="M17.3,95.3 L110.7,95.3 L187,103"/><path d="M17.5,155.2 L90.8,155.2 L200,175"/><path d="M16.7,266.4 L142.3,266.4 L110.5,344"/><path d="M16.5,578.3 L144,578.3 L122,496"/><path d="M366.4,24.9 L355.5,55.5"/><path d="M562,60.2 L466,60.2 L332,117"/><path d="M466,60.2 L294.3,196.3"/><path d="M463.2,175.5 L363.8,206.8"/><path d="M590.4,359.4 L465,359.4 L372,383"/><path d="M466,578.7 L328,450.8"/><path d="M268.3,573.5 L358.7,573.5 L299,481"/></g><g fill="none" stroke="#8a8a8a" stroke-width="1.3"><path d="M553.1,24.9 L366.4,24.9"/><path d="M588.9,175.5 L463.2,175.5"/><path d="M591.8,578.7 L466,578.7"/></g>
<circle cx="200" cy="57" r="4.4" fill="#f5da1c" stroke="#8a7a20" stroke-width="0.3"/><circle cx="200" cy="57" r="2.1" fill="#d2171b"/><circle cx="254.8" cy="41.7" r="4.4" fill="#f5da1c" stroke="#8a7a20" stroke-width="0.3"/><circle cx="254.8" cy="41.7" r="2.1" fill="#d2171b"/><circle cx="187" cy="103" r="4.4" fill="#f5da1c" stroke="#8a7a20" stroke-width="0.3"/><circle cx="187" cy="103" r="2.1" fill="#d2171b"/><circle cx="200" cy="175" r="4.4" fill="#f5da1c" stroke="#8a7a20" stroke-width="0.3"/><circle cx="200" cy="175" r="2.1" fill="#d2171b"/><circle cx="110.5" cy="344" r="4.4" fill="#f5da1c" stroke="#8a7a20" stroke-width="0.3"/><circle cx="110.5" cy="344" r="2.1" fill="#d2171b"/><circle cx="122" cy="496" r="4.4" fill="#f5da1c" stroke="#8a7a20" stroke-width="0.3"/><circle cx="122" cy="496" r="2.1" fill="#d2171b"/><circle cx="355.5" cy="55.5" r="4.4" fill="#f5da1c" stroke="#8a7a20" stroke-width="0.3"/><circle cx="355.5" cy="55.5" r="2.1" fill="#d2171b"/><circle cx="332" cy="117" r="4.4" fill="#f5da1c" stroke="#8a7a20" stroke-width="0.3"/><circle cx="332" cy="117" r="2.1" fill="#d2171b"/><circle cx="294.3" cy="196.3" r="4.4" fill="#f5da1c" stroke="#8a7a20" stroke-width="0.3"/><circle cx="294.3" cy="196.3" r="2.1" fill="#d2171b"/><circle cx="372" cy="383" r="4.4" fill="#f5da1c" stroke="#8a7a20" stroke-width="0.3"/><circle cx="372" cy="383" r="2.1" fill="#d2171b"/><circle cx="328" cy="450.8" r="4.4" fill="#f5da1c" stroke="#8a7a20" stroke-width="0.3"/><circle cx="328" cy="450.8" r="2.1" fill="#d2171b"/><circle cx="299" cy="481" r="4.4" fill="#f5da1c" stroke="#8a7a20" stroke-width="0.3"/><circle cx="299" cy="481" r="2.1" fill="#d2171b"/><circle cx="363.8" cy="206.8" r="4.2" fill="#fbe49a"/><circle cx="363.8" cy="206.8" r="2.2" fill="#d81c1c"/>
<text x="20.6" y="20.5" textLength="65.3" lengthAdjust="spacingAndGlyphs">ВОРОНКИ ДЛЯ</text><text x="20.6" y="29.9" textLength="89.5" lengthAdjust="spacingAndGlyphs">ПАРОГЕНЕРАТОРОВ</text><text x="20.2" y="39.3" textLength="136.3" lengthAdjust="spacingAndGlyphs">(ПРИОБРЕТАЮТСЯ ОТДЕЛЬНО)</text><text x="21.0" y="91.8" textLength="77.9" lengthAdjust="spacingAndGlyphs">ОБЛИЦОВКА S-50</text><text x="20.8" y="152" textLength="60.6" lengthAdjust="spacingAndGlyphs">ВЫХОД ПАРА</text><text x="20.6" y="234.7" textLength="87.7" lengthAdjust="spacingAndGlyphs">ТОПОЧНАЯ ДВЕРКА</text><text x="20.6" y="244.2" textLength="121.0" lengthAdjust="spacingAndGlyphs">С РЕГУЛИРОВКОЙ ПОДАЧИ</text><text x="20.6" y="253.5" textLength="132.6" lengthAdjust="spacingAndGlyphs">ВОЗДУХА ИЗ ЖАРОСТОЙКОГО</text><text x="20.6" y="262.6" textLength="97.0" lengthAdjust="spacingAndGlyphs">ЧУГУНА (ГОСТ 1412-85)</text><text x="20.2" y="565.7" textLength="91.4" lengthAdjust="spacingAndGlyphs">ПОДАЧА ВОЗДУХА В</text><text x="20.2" y="575.1" textLength="68.0" lengthAdjust="spacingAndGlyphs">ЗОНУ ГОРЕНИЯ</text><text x="367.3" y="22.7" textLength="184.5" lengthAdjust="spacingAndGlyphs">ЗАГЛУШКА (ПРИОБРЕТАЕТСЯ ОТДЕЛЬНО)</text><text x="470.9" y="58.7" textLength="84.7" lengthAdjust="spacingAndGlyphs">ПАРОГЕНЕРАТОРЫ</text><text x="469.9" y="153.1" textLength="108.7" lengthAdjust="spacingAndGlyphs">ЗАКРЫТАЯ КАМЕНКА ИЗ</text><text x="469.9" y="162.5" textLength="105.8" lengthAdjust="spacingAndGlyphs">НЕРЖАВЕЮЩЕЙ СТАЛИ</text><text x="469.6" y="172.6" textLength="34.6" lengthAdjust="spacingAndGlyphs">AISI 430</text><text x="470.8" y="336.9" textLength="44.0" lengthAdjust="spacingAndGlyphs">ТОПКА ИЗ</text><text x="470.8" y="346.6" textLength="111.9" lengthAdjust="spacingAndGlyphs">ЖАРОСТОЙКОГО ЧУГУНА</text><text x="470.2" y="356.3" textLength="60.4" lengthAdjust="spacingAndGlyphs">(ГОСТ 1412-85)</text><text x="470.3" y="565.7" textLength="64.5" lengthAdjust="spacingAndGlyphs">КОЛОСНИК ИЗ</text><text x="470.3" y="575.3" textLength="112.4" lengthAdjust="spacingAndGlyphs">ЖАРОСТОЙКОГО ЧУГУНА</text><text x="270.7" y="571" textLength="75.9" lengthAdjust="spacingAndGlyphs">ЗОЛЬНЫЙ ЯЩИК</text>
</svg></body></html>
